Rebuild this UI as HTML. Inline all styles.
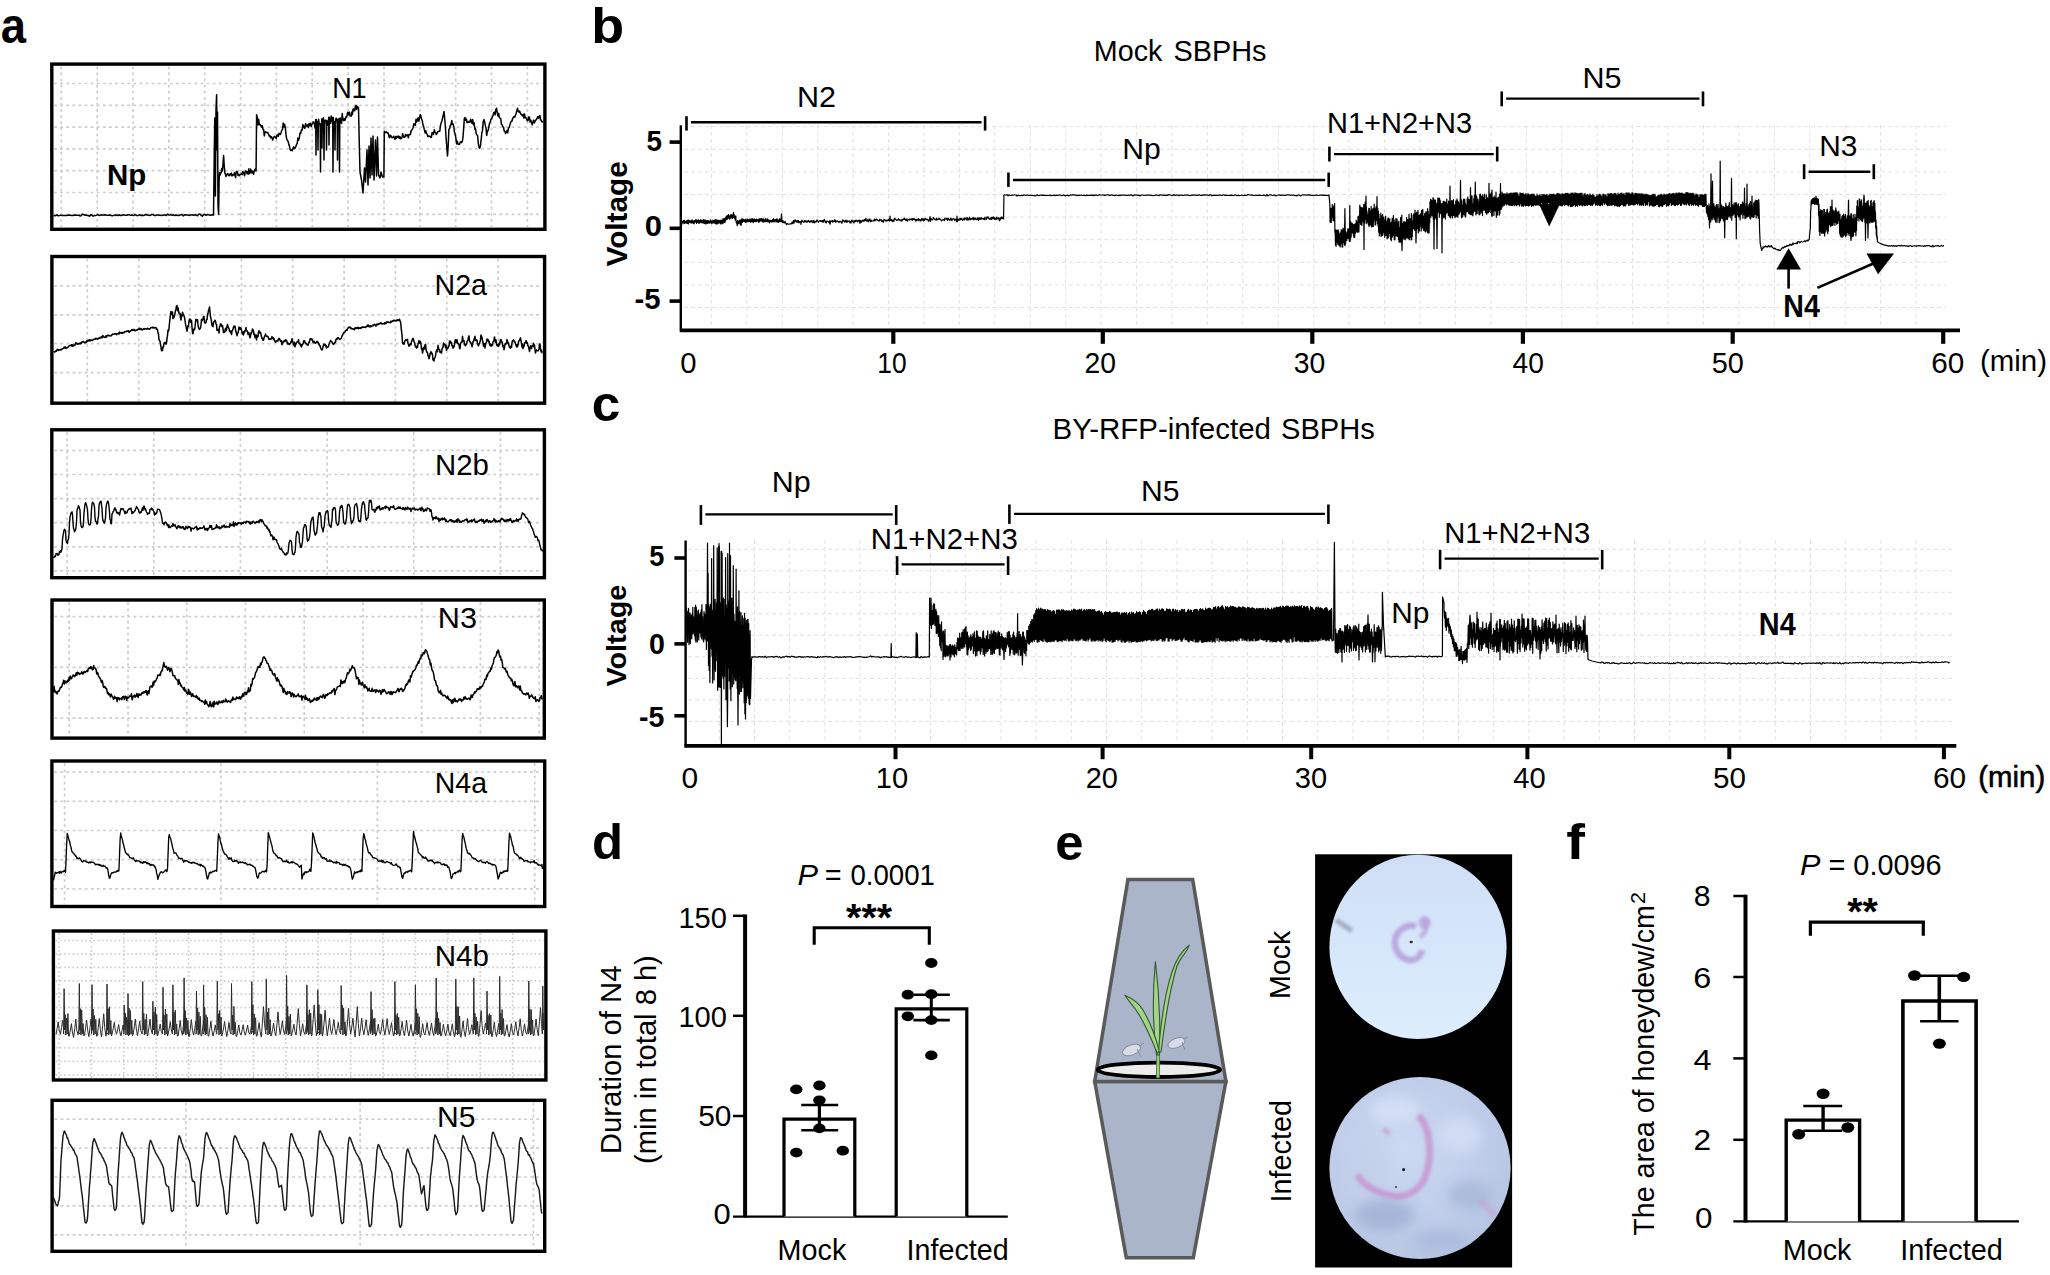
<!DOCTYPE html>
<html><head><meta charset="utf-8"><title>Figure</title><style>html,body{margin:0;padding:0;background:#fff;overflow:hidden}svg{display:block}</style></head>
<body>
<svg width="2050" height="1275" viewBox="0 0 2050 1275" font-family="'Liberation Sans', Arial, sans-serif">
<rect width="2050" height="1275" fill="#fff"/>
<text transform="translate(0.84 43.10) scale(0.9176 1)" font-size="49.5" font-weight="bold" fill="#000">a</text>
<text transform="translate(591.20 42.70) scale(1.0881 1)" font-size="49.5" font-weight="bold" fill="#000">b</text>
<text transform="translate(591.85 421.40) scale(1.0372 1)" font-size="49.5" font-weight="bold" fill="#000">c</text>
<text transform="translate(592.06 859.30) scale(1.0281 1)" font-size="49.5" font-weight="bold" fill="#000">d</text>
<text transform="translate(1055.27 859.50) scale(1.0269 1)" font-size="49.5" font-weight="bold" fill="#000">e</text>
<text transform="translate(1566.26 859.00) scale(1.1364 1)" font-size="49.5" font-weight="bold" fill="#000">f</text>
<path d="M61.3 66.4V227.0M97.2 66.4V227.0M133.0 66.4V227.0M168.9 66.4V227.0M204.7 66.4V227.0M240.6 66.4V227.0M276.4 66.4V227.0M312.2 66.4V227.0M348.1 66.4V227.0M384.0 66.4V227.0M419.8 66.4V227.0M455.7 66.4V227.0M491.5 66.4V227.0M527.4 66.4V227.0M54.1 83.5H542.6M54.1 105.3H542.6M54.1 127.1H542.6M54.1 148.9H542.6M54.1 170.7H542.6M54.1 192.5H542.6M54.1 214.3H542.6" stroke="#cdcdcd" stroke-width="1.7" stroke-dasharray="2.8 3.3" fill="none"/>
<path d="M87.3 258.8V400.9M138.7 258.8V400.9M190.0 258.8V400.9M241.4 258.8V400.9M292.7 258.8V400.9M344.1 258.8V400.9M395.4 258.8V400.9M446.8 258.8V400.9M498.1 258.8V400.9M54.2 285.9H542.3M54.2 314.8H542.3M54.2 343.7H542.3M54.2 372.6H542.3" stroke="#cdcdcd" stroke-width="1.7" stroke-dasharray="2.8 3.3" fill="none"/>
<path d="M67.1 432.1V575.4M153.8 432.1V575.4M240.4 432.1V575.4M327.1 432.1V575.4M413.7 432.1V575.4M500.4 432.1V575.4M54.1 450.4H542.1M54.1 474.5H542.1M54.1 498.6H542.1M54.1 522.7H542.1M54.1 546.8H542.1M54.1 570.9H542.1" stroke="#cdcdcd" stroke-width="1.7" stroke-dasharray="2.8 3.3" fill="none"/>
<path d="M69.2 602.3V735.8M128.0 602.3V735.8M186.7 602.3V735.8M245.4 602.3V735.8M304.2 602.3V735.8M362.9 602.3V735.8M421.7 602.3V735.8M480.4 602.3V735.8M539.2 602.3V735.8M54.3 616.6H542.0M54.3 667.4H542.0M54.3 718.1H542.0" stroke="#cdcdcd" stroke-width="1.7" stroke-dasharray="2.8 3.3" fill="none"/>
<path d="M64.6 763.3V904.2M220.9 763.3V904.2M377.4 763.3V904.2M534.7 763.3V904.2M54.2 772.1H542.4M54.2 801.3H542.4M54.2 830.5H542.4M54.2 859.7H542.4M54.2 888.9H542.4" stroke="#cdcdcd" stroke-width="1.7" stroke-dasharray="2.8 3.3" fill="none"/>
<path d="M59.0 933.3V1077.7M91.4 933.3V1077.7M123.8 933.3V1077.7M156.2 933.3V1077.7M188.6 933.3V1077.7M221.0 933.3V1077.7M253.4 933.3V1077.7M285.8 933.3V1077.7M318.2 933.3V1077.7M350.6 933.3V1077.7M383.0 933.3V1077.7M415.4 933.3V1077.7M447.8 933.3V1077.7M480.2 933.3V1077.7M512.6 933.3V1077.7M55.7 940.5H543.6M55.7 953.9H543.6M55.7 967.4H543.6M55.7 980.8H543.6M55.7 994.2H543.6M55.7 1007.6H543.6M55.7 1021.1H543.6M55.7 1034.5H543.6M55.7 1047.9H543.6M55.7 1061.4H543.6M55.7 1074.8H543.6" stroke="#cdcdcd" stroke-width="1.7" stroke-dasharray="1.6 2.6" fill="none"/>
<path d="M185.9 1102.6V1249.0M360.1 1102.6V1249.0M533.4 1102.6V1249.0M54.4 1119.2H542.4M54.4 1148.1H542.4M54.4 1177.0H542.4M54.4 1205.9H542.4M54.4 1234.8H542.4" stroke="#cdcdcd" stroke-width="1.7" stroke-dasharray="2.8 3.3" fill="none"/>
<rect x="51.80" y="64.10" width="493.10" height="165.20" fill="none" stroke="#000" stroke-width="3.4"/>
<rect x="51.90" y="256.50" width="492.70" height="146.70" fill="none" stroke="#000" stroke-width="3.4"/>
<rect x="51.80" y="429.80" width="492.60" height="147.90" fill="none" stroke="#000" stroke-width="3.4"/>
<rect x="52.00" y="600.00" width="492.30" height="138.10" fill="none" stroke="#000" stroke-width="3.4"/>
<rect x="51.90" y="761.00" width="492.80" height="145.50" fill="none" stroke="#000" stroke-width="3.4"/>
<rect x="53.40" y="931.00" width="492.50" height="149.00" fill="none" stroke="#000" stroke-width="3.4"/>
<rect x="52.10" y="1100.30" width="492.60" height="151.00" fill="none" stroke="#000" stroke-width="3.4"/>
<text transform="translate(106.98 184.80) scale(0.9823 1)" font-size="30" font-weight="bold" fill="#000">Np</text>
<text transform="translate(332.14 97.60) scale(0.8996 1)" font-size="30" fill="#000">N1</text>
<text transform="translate(434.62 294.90) scale(0.9516 1)" font-size="30" fill="#000">N2a</text>
<text transform="translate(434.95 474.50) scale(0.9796 1)" font-size="30" fill="#000">N2b</text>
<text transform="translate(437.84 628.00) scale(1.0232 1)" font-size="30" fill="#000">N3</text>
<text transform="translate(434.72 793.00) scale(0.9497 1)" font-size="30" fill="#000">N4a</text>
<text transform="translate(434.63 966.20) scale(0.9854 1)" font-size="30" fill="#000">N4b</text>
<text transform="translate(437.09 1127.10) scale(1.0043 1)" font-size="30" fill="#000">N5</text>
<path d="M711.4 125.0V328.0M746.8 125.0V328.0M782.3 125.0V328.0M817.7 125.0V328.0M853.1 125.0V328.0M888.5 125.0V328.0M924.0 125.0V328.0M959.4 125.0V328.0M994.8 125.0V328.0M1030.3 125.0V328.0M1065.7 125.0V328.0M1101.1 125.0V328.0M1136.6 125.0V328.0M1172.0 125.0V328.0M1207.4 125.0V328.0M1242.8 125.0V328.0M1278.3 125.0V328.0M1313.7 125.0V328.0M1349.1 125.0V328.0M1384.6 125.0V328.0M1420.0 125.0V328.0M1455.4 125.0V328.0M1490.9 125.0V328.0M1526.3 125.0V328.0M1561.7 125.0V328.0M1597.2 125.0V328.0M1632.6 125.0V328.0M1668.0 125.0V328.0M1703.4 125.0V328.0M1738.9 125.0V328.0M1774.3 125.0V328.0M1809.7 125.0V328.0M1845.2 125.0V328.0M1880.6 125.0V328.0M1916.0 125.0V328.0M684.0 126.7H1946.0M684.0 149.3H1946.0M684.0 171.9H1946.0M684.0 194.5H1946.0M684.0 217.1H1946.0M684.0 239.7H1946.0M684.0 262.3H1946.0M684.0 284.9H1946.0M684.0 307.5H1946.0" stroke="#e2e2e2" stroke-width="1" stroke-dasharray="4 3" fill="none"/>
<path d="M719.3 540.0V743.0M754.5 540.0V743.0M789.7 540.0V743.0M824.9 540.0V743.0M860.1 540.0V743.0M895.3 540.0V743.0M930.5 540.0V743.0M965.7 540.0V743.0M1000.9 540.0V743.0M1036.1 540.0V743.0M1071.3 540.0V743.0M1106.5 540.0V743.0M1141.7 540.0V743.0M1176.9 540.0V743.0M1212.1 540.0V743.0M1247.3 540.0V743.0M1282.5 540.0V743.0M1317.7 540.0V743.0M1352.9 540.0V743.0M1388.1 540.0V743.0M1423.3 540.0V743.0M1458.5 540.0V743.0M1493.7 540.0V743.0M1528.9 540.0V743.0M1564.1 540.0V743.0M1599.3 540.0V743.0M1634.5 540.0V743.0M1669.7 540.0V743.0M1704.9 540.0V743.0M1740.1 540.0V743.0M1775.3 540.0V743.0M1810.5 540.0V743.0M1845.7 540.0V743.0M1880.9 540.0V743.0M1916.1 540.0V743.0M688.0 549.3H1952.0M688.0 570.8H1952.0M688.0 592.3H1952.0M688.0 613.8H1952.0M688.0 635.3H1952.0M688.0 656.8H1952.0M688.0 678.3H1952.0M688.0 699.8H1952.0M688.0 721.3H1952.0" stroke="#e2e2e2" stroke-width="1" stroke-dasharray="4 3" fill="none"/>
<line x1="680.80" y1="125.30" x2="680.80" y2="331.80" stroke="#000" stroke-width="2.4"/>
<line x1="680.00" y1="330.30" x2="1960.00" y2="330.30" stroke="#000" stroke-width="3.8"/>
<line x1="669.60" y1="142.10" x2="680.80" y2="142.10" stroke="#000" stroke-width="3.6"/>
<line x1="669.60" y1="228.30" x2="680.80" y2="228.30" stroke="#000" stroke-width="3.6"/>
<line x1="669.60" y1="301.10" x2="680.80" y2="301.10" stroke="#000" stroke-width="3.6"/>
<line x1="893.30" y1="331.00" x2="893.30" y2="343.80" stroke="#000" stroke-width="4.2"/>
<line x1="1102.80" y1="331.00" x2="1102.80" y2="343.80" stroke="#000" stroke-width="4.2"/>
<line x1="1312.30" y1="331.00" x2="1312.30" y2="343.80" stroke="#000" stroke-width="4.2"/>
<line x1="1522.90" y1="331.00" x2="1522.90" y2="343.80" stroke="#000" stroke-width="4.2"/>
<line x1="1732.70" y1="331.00" x2="1732.70" y2="343.80" stroke="#000" stroke-width="4.2"/>
<line x1="1943.20" y1="331.00" x2="1943.20" y2="343.80" stroke="#000" stroke-width="4.2"/>
<text transform="translate(646.57 150.50) scale(0.9267 1)" font-size="30.0" font-weight="bold" fill="#000">5</text>
<text transform="translate(644.76 236.00) scale(1.0316 1)" font-size="30.0" font-weight="bold" fill="#000">0</text>
<text transform="translate(634.43 309.00) scale(0.9778 1)" font-size="30.0" font-weight="bold" fill="#000">-5</text>
<text transform="translate(627.30 266.50) rotate(-90) scale(1.0419 1)" font-size="28.6" font-weight="bold">Voltage</text>
<text transform="translate(680.33 373.30) scale(0.9690 1)" font-size="30.2" fill="#000">0</text>
<text transform="translate(877.33 373.30) scale(0.8719 1)" font-size="30.2" fill="#000">10</text>
<text transform="translate(1084.38 373.30) scale(0.9382 1)" font-size="30.2" fill="#000">20</text>
<text transform="translate(1293.87 373.30) scale(0.9387 1)" font-size="30.2" fill="#000">30</text>
<text transform="translate(1512.60 373.30) scale(0.9316 1)" font-size="30.2" fill="#000">40</text>
<text transform="translate(1711.75 373.30) scale(0.9548 1)" font-size="30.2" fill="#000">50</text>
<text transform="translate(1931.31 373.30) scale(0.9836 1)" font-size="30.2" fill="#000">60</text>
<text transform="translate(1980.03 370.90) scale(0.9906 1)" font-size="29.7" fill="#000">(min)</text>
<text transform="translate(1093.80 60.70) scale(0.9567 1)" font-size="30" fill="#000">Mock</text>
<text transform="translate(1173.40 60.70) scale(0.9634 1)" font-size="30" fill="#000">SBPHs</text>
<text transform="translate(796.95 106.70) scale(1.0189 1)" font-size="30" fill="#000">N2</text>
<text transform="translate(1122.19 159.20) scale(1.0043 1)" font-size="30" fill="#000">Np</text>
<text transform="translate(1326.98 133.10) scale(0.9675 1)" font-size="30" fill="#000">N1+N2+N3</text>
<text transform="translate(1582.55 87.90) scale(1.0188 1)" font-size="30" fill="#000">N5</text>
<text transform="translate(1819.21 155.90) scale(0.9971 1)" font-size="30" fill="#000">N3</text>
<text transform="translate(1783.34 317.00) scale(0.9387 1)" font-size="30.5" font-weight="bold" fill="#000">N4</text>
<line x1="686.50" y1="116.20" x2="686.50" y2="130.60" stroke="#000" stroke-width="2.6"/>
<line x1="985.10" y1="116.20" x2="985.10" y2="130.60" stroke="#000" stroke-width="2.6"/>
<line x1="691.00" y1="122.30" x2="981.60" y2="122.30" stroke="#000" stroke-width="2.4"/>
<line x1="1008.40" y1="172.60" x2="1008.40" y2="186.90" stroke="#000" stroke-width="2.6"/>
<line x1="1328.70" y1="172.60" x2="1328.70" y2="186.90" stroke="#000" stroke-width="2.6"/>
<line x1="1012.90" y1="180.00" x2="1325.20" y2="180.00" stroke="#000" stroke-width="2.4"/>
<line x1="1329.40" y1="146.60" x2="1329.40" y2="161.50" stroke="#000" stroke-width="2.6"/>
<line x1="1497.20" y1="146.60" x2="1497.20" y2="161.50" stroke="#000" stroke-width="2.6"/>
<line x1="1333.90" y1="154.10" x2="1493.70" y2="154.10" stroke="#000" stroke-width="2.4"/>
<line x1="1501.70" y1="91.40" x2="1501.70" y2="106.30" stroke="#000" stroke-width="2.6"/>
<line x1="1703.00" y1="91.40" x2="1703.00" y2="106.30" stroke="#000" stroke-width="2.6"/>
<line x1="1506.20" y1="98.60" x2="1699.50" y2="98.60" stroke="#000" stroke-width="2.4"/>
<line x1="1804.10" y1="164.20" x2="1804.10" y2="179.20" stroke="#000" stroke-width="2.6"/>
<line x1="1873.80" y1="164.20" x2="1873.80" y2="179.20" stroke="#000" stroke-width="2.6"/>
<line x1="1808.60" y1="171.80" x2="1870.30" y2="171.80" stroke="#000" stroke-width="2.4"/>
<polygon points="1776.4,269.5 1801,269.5 1788.6,248.2" fill="#000"/>
<line x1="1788.60" y1="268.00" x2="1788.60" y2="288.60" stroke="#000" stroke-width="2.6"/>
<line x1="1817.40" y1="287.90" x2="1878.00" y2="261.50" stroke="#000" stroke-width="2.6"/>
<polygon points="1866.5,253.6 1894,253.6 1878.1,274.2" fill="#000"/>
<polygon points="1539.0,204.0 1559.9,204.0 1549.2,226.5" fill="#000"/>
<line x1="685.60" y1="540.50" x2="685.60" y2="747.40" stroke="#000" stroke-width="2.4"/>
<line x1="684.50" y1="745.90" x2="1956.30" y2="745.90" stroke="#000" stroke-width="3.6"/>
<line x1="674.40" y1="558.00" x2="685.60" y2="558.00" stroke="#000" stroke-width="3.6"/>
<line x1="674.40" y1="643.90" x2="685.60" y2="643.90" stroke="#000" stroke-width="3.6"/>
<line x1="674.40" y1="715.80" x2="685.60" y2="715.80" stroke="#000" stroke-width="3.6"/>
<line x1="895.50" y1="746.00" x2="895.50" y2="759.20" stroke="#000" stroke-width="4.0"/>
<line x1="1102.60" y1="746.00" x2="1102.60" y2="759.20" stroke="#000" stroke-width="4.0"/>
<line x1="1311.20" y1="746.00" x2="1311.20" y2="759.20" stroke="#000" stroke-width="4.0"/>
<line x1="1527.40" y1="746.00" x2="1527.40" y2="759.20" stroke="#000" stroke-width="4.0"/>
<line x1="1729.30" y1="746.00" x2="1729.30" y2="759.20" stroke="#000" stroke-width="4.0"/>
<line x1="1943.90" y1="746.00" x2="1943.90" y2="759.20" stroke="#000" stroke-width="4.0"/>
<text transform="translate(649.28 565.60) scale(0.9379 1)" font-size="29.0" font-weight="bold" fill="#000">5</text>
<text transform="translate(648.95 654.30) scale(0.9873 1)" font-size="29.0" font-weight="bold" fill="#000">0</text>
<text transform="translate(639.06 727.30) scale(0.9822 1)" font-size="29.0" font-weight="bold" fill="#000">-5</text>
<text transform="translate(625.60 686.59) rotate(-90) scale(1.0471 1)" font-size="27.5" font-weight="bold">Voltage</text>
<text transform="translate(681.50 788.30) scale(1.0134 1)" font-size="29.5" fill="#000">0</text>
<text transform="translate(875.81 788.30) scale(0.9880 1)" font-size="29.5" fill="#000">10</text>
<text transform="translate(1085.75 788.30) scale(0.9804 1)" font-size="29.5" fill="#000">20</text>
<text transform="translate(1294.73 788.30) scale(0.9873 1)" font-size="29.5" fill="#000">30</text>
<text transform="translate(1513.37 788.30) scale(0.9894 1)" font-size="29.5" fill="#000">40</text>
<text transform="translate(1712.92 788.30) scale(1.0038 1)" font-size="29.5" fill="#000">50</text>
<text transform="translate(1932.91 788.30) scale(1.0070 1)" font-size="29.5" fill="#000">60</text>
<text transform="translate(1978.34 786.80) scale(1.0025 1)" font-size="29.3" fill="#000" stroke="#000" stroke-width="0.6">(min)</text>
<text transform="translate(1052.54 438.90) scale(0.9828 1)" font-size="30" fill="#000">BY-RFP-infected</text>
<text transform="translate(1280.99 438.90) scale(0.9709 1)" font-size="30" fill="#000">SBPHs</text>
<text transform="translate(771.86 491.60) scale(1.0159 1)" font-size="30" fill="#000">Np</text>
<text transform="translate(870.75 549.20) scale(0.9798 1)" font-size="30" fill="#000">N1+N2+N3</text>
<text transform="translate(1140.99 501.00) scale(1.0043 1)" font-size="30" fill="#000">N5</text>
<text transform="translate(1391.31 622.50) scale(0.9957 1)" font-size="30" fill="#000">Np</text>
<text transform="translate(1444.16 543.10) scale(0.9730 1)" font-size="30" fill="#000">N1+N2+N3</text>
<text transform="translate(1758.82 635.40) scale(0.9469 1)" font-size="30.5" font-weight="bold" fill="#000">N4</text>
<line x1="700.90" y1="505.10" x2="700.90" y2="524.90" stroke="#000" stroke-width="2.6"/>
<line x1="896.20" y1="505.10" x2="896.20" y2="524.90" stroke="#000" stroke-width="2.6"/>
<line x1="705.40" y1="514.40" x2="892.70" y2="514.40" stroke="#000" stroke-width="2.4"/>
<line x1="897.10" y1="556.20" x2="897.10" y2="575.00" stroke="#000" stroke-width="2.6"/>
<line x1="1008.10" y1="556.20" x2="1008.10" y2="575.00" stroke="#000" stroke-width="2.6"/>
<line x1="901.60" y1="564.40" x2="1004.60" y2="564.40" stroke="#000" stroke-width="2.4"/>
<line x1="1009.40" y1="504.50" x2="1009.40" y2="523.90" stroke="#000" stroke-width="2.6"/>
<line x1="1328.40" y1="504.50" x2="1328.40" y2="523.90" stroke="#000" stroke-width="2.6"/>
<line x1="1013.90" y1="513.90" x2="1324.90" y2="513.90" stroke="#000" stroke-width="2.4"/>
<line x1="1440.10" y1="549.90" x2="1440.10" y2="569.40" stroke="#000" stroke-width="2.6"/>
<line x1="1602.20" y1="549.90" x2="1602.20" y2="569.40" stroke="#000" stroke-width="2.6"/>
<line x1="1444.60" y1="558.60" x2="1598.70" y2="558.60" stroke="#000" stroke-width="2.4"/>
<line x1="745.10" y1="914.40" x2="745.10" y2="1217.60" stroke="#000" stroke-width="4.0"/>
<line x1="733.00" y1="1216.60" x2="1007.80" y2="1216.60" stroke="#000" stroke-width="2.4"/>
<line x1="733.00" y1="915.80" x2="745.10" y2="915.80" stroke="#000" stroke-width="2.5"/>
<line x1="733.00" y1="1015.80" x2="745.10" y2="1015.80" stroke="#000" stroke-width="2.5"/>
<line x1="733.00" y1="1116.00" x2="745.10" y2="1116.00" stroke="#000" stroke-width="2.5"/>
<text transform="translate(678.42 928.10) scale(0.9863 1)" font-size="29.5" fill="#000">150</text>
<text transform="translate(678.42 1026.50) scale(0.9863 1)" font-size="29.5" fill="#000">100</text>
<text transform="translate(698.20 1125.60) scale(1.0137 1)" font-size="29.5" fill="#000">50</text>
<text transform="translate(713.46 1224.10) scale(1.0491 1)" font-size="29.5" fill="#000">0</text>
<path d="M784.00 1216.60V1119.10H854.80V1216.60" fill="#fff" stroke="#000" stroke-width="3.2"/>
<path d="M896.20 1216.60V1008.80H966.80V1216.60" fill="#fff" stroke="#000" stroke-width="3.2"/>
<line x1="819.40" y1="1105.00" x2="819.40" y2="1130.30" stroke="#000" stroke-width="3.2"/>
<line x1="801.20" y1="1105.00" x2="838.20" y2="1105.00" stroke="#000" stroke-width="2.6"/>
<line x1="801.20" y1="1130.30" x2="838.20" y2="1130.30" stroke="#000" stroke-width="2.6"/>
<line x1="931.30" y1="994.70" x2="931.30" y2="1020.10" stroke="#000" stroke-width="3.0"/>
<line x1="913.90" y1="994.70" x2="949.80" y2="994.70" stroke="#000" stroke-width="2.6"/>
<line x1="913.40" y1="1020.10" x2="949.80" y2="1020.10" stroke="#000" stroke-width="2.6"/>
<ellipse cx="796.3" cy="1089.4" rx="6.2" ry="4.9" fill="#000"/>
<ellipse cx="819.4" cy="1085.5" rx="6.2" ry="4.9" fill="#000"/>
<ellipse cx="819.4" cy="1100.3" rx="6.2" ry="4.9" fill="#000"/>
<ellipse cx="819.4" cy="1128.4" rx="6.2" ry="4.9" fill="#000"/>
<ellipse cx="796.3" cy="1152.6" rx="6.2" ry="4.9" fill="#000"/>
<ellipse cx="842.8" cy="1150.7" rx="6.2" ry="4.9" fill="#000"/>
<ellipse cx="931.3" cy="963.0" rx="6.2" ry="4.9" fill="#000"/>
<ellipse cx="907.8" cy="994.7" rx="6.2" ry="4.9" fill="#000"/>
<ellipse cx="931.3" cy="994.2" rx="6.2" ry="4.9" fill="#000"/>
<ellipse cx="907.8" cy="1016.3" rx="6.2" ry="4.9" fill="#000"/>
<ellipse cx="931.3" cy="1020.1" rx="6.2" ry="4.9" fill="#000"/>
<ellipse cx="931.3" cy="1055.4" rx="6.2" ry="4.9" fill="#000"/>
<text transform="translate(797.48 884.80) scale(1.0265 1)" font-size="30.0" font-style="italic" fill="#000">P</text>
<text transform="translate(824.66 884.80) scale(0.9622 1)" font-size="30.0" fill="#000">=</text>
<text transform="translate(850.50 884.80) scale(0.9203 1)" font-size="30.0" fill="#000">0.0001</text>
<text transform="translate(846.10 930.86) scale(1.0345 1)" font-size="38" font-weight="bold" fill="#000">***</text>
<path d="M814.2 944.8V927.7H929.3V944.8" fill="none" stroke="#000" stroke-width="3.1"/>
<text transform="translate(777.60 1259.60) scale(0.9660 1)" font-size="29.8" fill="#000">Mock</text>
<text transform="translate(906.62 1259.60) scale(0.9623 1)" font-size="29.8" fill="#000">Infected</text>
<text transform="translate(621.10 1154.14) rotate(-90) scale(1.0233 1)" font-size="28.6">Duration of N4</text>
<text transform="translate(656.40 1163.95) rotate(-90) scale(0.9975 1)" font-size="29.2">(min in total 8 h)</text>
<line x1="1745.50" y1="894.70" x2="1745.50" y2="1222.60" stroke="#000" stroke-width="4.0"/>
<line x1="1733.30" y1="1221.40" x2="2018.90" y2="1221.40" stroke="#000" stroke-width="2.4"/>
<line x1="1733.30" y1="896.00" x2="1745.50" y2="896.00" stroke="#000" stroke-width="2.5"/>
<line x1="1733.30" y1="977.00" x2="1745.50" y2="977.00" stroke="#000" stroke-width="2.5"/>
<line x1="1733.30" y1="1058.40" x2="1745.50" y2="1058.40" stroke="#000" stroke-width="2.5"/>
<line x1="1733.30" y1="1139.80" x2="1745.50" y2="1139.80" stroke="#000" stroke-width="2.5"/>
<text transform="translate(1693.84 906.00) scale(1.0242 1)" font-size="29.5" fill="#000">8</text>
<text transform="translate(1693.18 988.40) scale(1.0980 1)" font-size="29.5" fill="#000">6</text>
<text transform="translate(1693.39 1069.60) scale(1.0983 1)" font-size="29.5" fill="#000">4</text>
<text transform="translate(1693.42 1150.00) scale(1.0728 1)" font-size="29.5" fill="#000">2</text>
<text transform="translate(1694.95 1228.30) scale(1.0633 1)" font-size="29.5" fill="#000">0</text>
<path d="M1786.20 1221.40V1120.10H1859.60V1221.40" fill="#fff" stroke="#000" stroke-width="3.4"/>
<path d="M1902.90 1221.40V1001.00H1976.10V1221.40" fill="#fff" stroke="#000" stroke-width="3.6"/>
<line x1="1823.10" y1="1106.00" x2="1823.10" y2="1130.70" stroke="#000" stroke-width="3.4"/>
<line x1="1803.30" y1="1106.00" x2="1842.20" y2="1106.00" stroke="#000" stroke-width="2.6"/>
<line x1="1803.30" y1="1130.70" x2="1842.20" y2="1130.70" stroke="#000" stroke-width="2.6"/>
<line x1="1939.30" y1="975.70" x2="1939.30" y2="1021.20" stroke="#000" stroke-width="3.6"/>
<line x1="1914.50" y1="975.70" x2="1963.70" y2="975.70" stroke="#000" stroke-width="2.6"/>
<line x1="1920.10" y1="1021.20" x2="1958.50" y2="1021.20" stroke="#000" stroke-width="2.6"/>
<ellipse cx="1823.1" cy="1093.7" rx="6.5" ry="5.2" fill="#000"/>
<ellipse cx="1798.7" cy="1134.3" rx="6.5" ry="5.2" fill="#000"/>
<ellipse cx="1847.8" cy="1127.5" rx="6.5" ry="5.2" fill="#000"/>
<ellipse cx="1914.5" cy="975.5" rx="6.5" ry="5.2" fill="#000"/>
<ellipse cx="1963.7" cy="976.9" rx="6.5" ry="5.2" fill="#000"/>
<ellipse cx="1939.4" cy="1043.6" rx="6.5" ry="5.2" fill="#000"/>
<text transform="translate(1800.08 875.00) scale(1.0212 1)" font-size="30.0" font-style="italic" fill="#000">P</text>
<text transform="translate(1828.56 875.00) scale(0.9622 1)" font-size="30.0" fill="#000">=</text>
<text transform="translate(1853.35 875.00) scale(0.9613 1)" font-size="30.0" fill="#000">0.0096</text>
<text transform="translate(1847.30 924.86) scale(1.0355 1)" font-size="38" font-weight="bold" fill="#000">**</text>
<path d="M1810.4 935.7V922.1H1923.3V935.7" fill="none" stroke="#000" stroke-width="3.2"/>
<text transform="translate(1782.69 1259.90) scale(0.9675 1)" font-size="29.8" fill="#000">Mock</text>
<text transform="translate(1900.20 1259.90) scale(0.9692 1)" font-size="29.8" fill="#000">Infected</text>
<text transform="translate(1653.70 1235.67) rotate(-90) scale(0.9934 1)" font-size="28.8">The area of honeydew/cm</text>
<text transform="translate(1644.60 904.08) rotate(-90) scale(1.0769 1)" font-size="20.0">2</text>
<polygon points="1094.7,1081.4 1225.9,1081.4 1193.3,1257.7 1126.3,1257.7" fill="#abb5ca" stroke="#5a5a5a" stroke-width="3.5" stroke-linejoin="miter"/>
<polygon points="1127.9,879.6 1192.7,879.6 1225.9,1081.4 1094.7,1081.4" fill="#abb5ca" stroke="#5a5a5a" stroke-width="3.5" stroke-linejoin="miter"/>
<ellipse cx="1158.9" cy="1069.8" rx="61.2" ry="7.2" fill="#ececec" stroke="#000" stroke-width="3.8"/>
<path d="M1156.4,1078 L1156.8,1050 L1159.4,1050 L1159.6,1078 Z" fill="#9dcb7e" stroke="#3d6b35" stroke-width="0.8"/>
<path d="M1156.5,1055 C1152.5,1025 1152.8,990 1155.4,961.5 C1158.8,990 1160.5,1025 1159.5,1055 Z" fill="#a5d38a" stroke="#2f5a2a" stroke-width="1.1"/>
<path d="M1158.5,1052 C1161,1020 1166,990 1172,972 C1176,960 1183,950 1189,945.5 C1188,951 1181,956 1177,966 C1171,985 1165,1020 1161,1052 Z" fill="#a5d38a" stroke="#2f5a2a" stroke-width="1.1"/>
<path d="M1157.5,1054 C1150,1035 1143,1020 1136,1010 C1131,1003 1127,999 1125.2,995.6 C1131,998 1138,1002 1143,1010 C1150,1022 1155,1035 1159,1050 Z" fill="#a5d38a" stroke="#2f5a2a" stroke-width="1.1"/>
<g fill="#d9dce6" stroke="#7a7f90" stroke-width="0.8"><ellipse cx="1131.5" cy="1050" rx="9.5" ry="5" transform="rotate(-22 1131.5 1050)"/><ellipse cx="1176.5" cy="1043" rx="9" ry="4.6" transform="rotate(-22 1176.5 1043)"/></g>
<g stroke="#7a7f90" stroke-width="0.8" fill="none"><path d="M1137 1049 l4 8 M1139 1046 l5 -3"/><path d="M1182 1042 l3 8 M1183 1039 l5 -2"/></g>
<rect x="1315.10" y="854.30" width="197.00" height="413.20" fill="#000" stroke="none" stroke-width="0"/>
<defs><linearGradient id="pg1" x1="0" y1="0" x2="0" y2="1"><stop offset="0" stop-color="#cfdef5"/><stop offset="0.45" stop-color="#d6e6fa"/><stop offset="1" stop-color="#dcedfc"/></linearGradient><radialGradient id="pg2" cx="0.42" cy="0.4" r="0.7"><stop offset="0" stop-color="#ccd9f1"/><stop offset="0.6" stop-color="#bfcde9"/><stop offset="1" stop-color="#b3c3e1"/></radialGradient><filter id="bl" x="-20%" y="-20%" width="140%" height="140%"><feGaussianBlur stdDeviation="1.8"/></filter><filter id="bl2" x="-50%" y="-50%" width="200%" height="200%"><feGaussianBlur stdDeviation="6"/></filter><clipPath id="cp2"><ellipse cx="1420" cy="1168" rx="90.6" ry="91"/></clipPath></defs>
<ellipse cx="1418" cy="946.9" rx="88.6" ry="92.1" fill="url(#pg1)"/>
<ellipse cx="1420" cy="1168" rx="90.6" ry="91" fill="url(#pg2)"/>
<g clip-path="url(#cp2)"><g filter="url(#bl2)" opacity="0.8"><ellipse cx="1385" cy="1215" rx="30" ry="16" fill="#9fb1d3"/><ellipse cx="1470" cy="1195" rx="22" ry="14" fill="#a6b7d8"/><ellipse cx="1440" cy="1240" rx="30" ry="10" fill="#a9badb"/><ellipse cx="1395" cy="1110" rx="25" ry="14" fill="#d6e2f8"/><ellipse cx="1460" cy="1135" rx="22" ry="18" fill="#d3dff6"/><ellipse cx="1370" cy="1160" rx="14" ry="20" fill="#c3d0ea"/></g></g>
<g filter="url(#bl)">
<path d="M1416,926 C1406,924 1397,930 1395,940 C1394,950 1400,958 1409,960 C1416,961 1421,956 1422,950" fill="none" stroke="#b8a2da" stroke-width="6.5" opacity="0.9"/>
<path d="M1420,937 C1425,934 1428,928 1426,920" fill="none" stroke="#b8a2da" stroke-width="5" opacity="0.75"/>
<ellipse cx="1424.7" cy="922.6" rx="6" ry="6.5" fill="#b8a2da" opacity="0.85"/>
<path d="M1336 920 L1352 931" stroke="#8d95a8" stroke-width="5" opacity="0.7"/>
<path d="M1418,1115.7 C1432,1128 1432,1160 1425,1178 C1418,1192 1406,1197 1394,1196 C1378,1194 1364,1186 1357.2,1174.7" fill="none" stroke="#c795cf" stroke-width="7" opacity="0.8"/>
<path d="M1383,1129 L1390,1134" stroke="#c795cf" stroke-width="5" opacity="0.6"/>
<path d="M1480,1200 L1496,1216" stroke="#c6a3d3" stroke-width="8" opacity="0.45"/>
</g>
<ellipse cx="1411.2" cy="942" rx="1.6" ry="1.2" fill="#222"/>
<circle cx="1403.6" cy="1169.6" r="1.6" fill="#222"/><circle cx="1396" cy="1187" r="1" fill="#333"/>
<text transform="translate(1290.30 998.88) rotate(-90) scale(0.9638 1)" font-size="29.6">Mock</text>
<text transform="translate(1290.50 1202.39) rotate(-90) scale(0.9728 1)" font-size="29.6">Infected</text>
<polyline points="53.5,215.6 54.7,215.8 55.9,215.5 57.1,214.8 58.3,215.8 59.5,215.6 60.7,215.1 61.9,215.6 63.1,215.5 64.3,215.5 65.5,215.4 66.7,215.6 67.9,215.0 69.1,215.3 70.3,215.1 71.5,215.6 72.7,215.4 73.9,215.2 75.1,215.0 76.3,215.2 77.5,215.3 78.7,215.2 79.9,215.9 81.1,215.8 82.3,214.1 83.5,214.5 84.7,215.2 85.9,215.1 87.1,215.4 88.3,215.4 89.5,216.3 90.7,214.8 91.9,215.1 93.1,216.2 94.3,215.6 95.5,215.6 96.7,215.1 97.9,214.5 99.1,215.4 100.3,215.3 101.5,214.7 102.7,215.0 103.9,215.2 105.1,214.8 106.3,215.2 107.5,215.3 108.7,215.3 109.9,215.0 111.1,215.5 112.3,215.7 113.5,215.4 114.7,214.9 115.9,215.6 117.1,215.0 118.3,215.6 119.5,214.8 120.7,215.6 121.9,215.2 123.1,214.7 124.3,215.1 125.5,215.2 126.7,215.3 127.9,214.8 129.1,214.7 130.3,215.3 131.5,215.0 132.7,215.3 133.9,215.5 135.1,214.5 136.3,215.3 137.5,215.7 138.7,215.1 139.9,214.8 141.1,215.5 142.3,215.3 143.5,215.6 144.7,215.0 145.9,214.5 147.1,215.1 148.3,215.0 149.5,215.5 150.7,215.2 151.9,214.4 153.1,214.6 154.3,215.5 155.5,215.5 156.7,214.9 157.9,215.1 159.1,215.3 160.3,215.3 161.5,215.5 162.7,215.2 163.9,215.1 165.1,215.0 166.3,215.6 167.5,214.1 168.7,215.0 169.9,215.1 171.1,214.5 172.3,215.3 173.5,214.8 174.7,215.5 175.9,215.0 177.1,215.4 178.3,215.6 179.5,215.3 180.7,214.7 181.9,214.4 183.1,215.9 184.3,215.0 185.5,214.8 186.7,215.1 187.9,215.0 189.1,215.4 190.3,215.1 191.5,215.1 192.7,214.7 193.9,215.3 195.1,214.6 196.3,215.3 197.5,215.7 198.7,214.3 199.9,213.9 201.1,215.3 202.3,216.2 203.5,214.6 204.7,214.5 205.9,215.3 207.1,214.6 208.3,214.8 209.5,214.9 210.7,215.2 211.9,214.8 213.5,215.0 214.3,150.0 214.8,118.0 215.4,196.0 216.0,110.0 216.6,94.7 217.1,150.0 217.5,112.0 218.0,205.0 218.6,214.5 219.1,180.0 219.6,172.5 220.0,175.3 220.6,173.3 221.2,172.5 221.8,168.4 222.4,170.9 223.0,163.8 223.6,155.5 224.2,165.4 224.8,172.7 225.4,174.1 226.0,176.5 226.6,174.4 227.2,174.3 227.8,173.5 228.4,175.5 229.0,174.6 229.6,175.6 230.2,173.7 230.8,174.8 231.4,173.1 232.0,175.9 232.6,174.8 233.2,175.0 233.8,175.1 234.4,172.8 235.0,175.6 235.6,177.6 236.2,171.6 236.8,171.4 237.4,171.8 238.0,175.5 238.6,174.3 239.2,175.8 239.8,175.2 240.4,174.2 241.0,174.2 241.6,173.3 242.2,174.8 242.8,171.5 243.4,172.5 244.0,173.4 244.6,175.7 245.2,171.5 245.8,170.8 246.4,171.5 247.0,173.8 247.6,171.7 248.2,174.1 248.8,168.8 249.4,173.5 250.0,173.2 250.6,169.1 251.2,171.4 251.8,173.0 252.4,171.0 253.0,172.3 253.6,174.4 254.2,170.9 254.8,169.9 255.4,168.9 256.0,171.0 256.1,168.0 256.6,114.8 258.0,120.0 258.0,124.9 258.7,119.5 259.4,124.7 260.1,124.5 260.8,125.7 261.5,127.1 262.2,125.7 262.9,129.2 263.6,129.4 264.3,135.8 265.0,132.1 265.7,131.8 266.4,132.5 267.1,132.6 267.8,132.6 268.5,134.1 269.2,135.9 269.9,135.5 270.6,137.8 271.3,136.7 272.0,137.6 272.7,140.1 273.4,138.3 274.1,136.4 274.8,136.5 275.5,137.2 276.2,138.7 276.9,135.3 277.6,134.9 278.3,136.3 279.0,133.3 279.7,133.8 280.4,134.4 281.1,132.4 281.8,130.2 282.5,129.5 283.2,123.1 283.9,127.0 284.6,124.3 285.3,127.5 286.0,134.4 286.7,139.2 287.4,140.4 288.1,141.2 288.8,144.4 289.5,146.1 290.2,149.8 290.9,150.6 291.6,149.7 292.3,150.6 293.0,148.4 293.7,146.9 294.4,148.6 295.1,148.2 295.8,146.7 296.5,144.4 297.2,143.7 297.9,137.9 298.6,140.3 299.3,138.0 300.0,133.0 300.7,133.4 301.4,129.9 302.1,130.3 302.8,124.6 303.5,125.9 304.2,127.9 304.9,128.3 305.6,123.4 306.3,125.5 307.0,126.4 307.7,124.8 308.4,127.6 309.1,123.5 309.8,125.4 310.5,123.2 311.2,126.4 311.9,124.3 312.6,123.7 313.3,121.7 313.8,122.4 314.4,123.5 315.0,128.0 315.6,125.4 315.7,119.5 316.0,155.0 316.3,119.5 316.8,123.5 317.4,121.9 317.7,123.7 318.0,150.0 318.3,123.7 318.6,119.3 319.2,123.8 319.8,123.7 320.2,126.9 320.5,172.0 320.8,126.9 321.0,123.7 321.6,124.1 321.7,119.0 322.0,148.0 322.3,119.0 322.8,128.3 323.4,117.8 323.7,125.2 324.0,160.0 324.3,125.2 324.6,121.5 325.2,120.1 325.8,120.5 326.2,120.4 326.5,150.0 326.8,120.4 327.0,123.0 327.6,121.6 328.2,125.5 328.7,117.2 329.0,145.0 329.3,117.2 329.4,121.6 330.0,119.3 330.6,123.4 331.2,116.1 331.8,120.4 332.4,121.7 332.7,117.4 333.0,172.0 333.3,117.4 333.6,123.5 334.2,121.4 334.7,123.4 335.0,150.0 335.3,123.4 335.4,123.2 336.0,118.2 336.6,118.6 337.2,120.0 337.5,160.0 337.8,120.0 337.8,122.3 338.4,122.5 339.0,118.5 339.2,118.6 339.5,172.0 339.8,118.6 340.2,118.1 341.0,122.3 341.6,123.5 342.2,113.5 342.8,118.3 343.4,120.4 344.0,120.7 344.6,118.7 345.2,120.1 345.8,117.0 346.4,117.1 347.0,115.8 347.6,112.6 348.2,112.6 348.8,114.8 349.4,112.2 350.0,115.8 350.6,115.5 351.2,116.2 351.8,111.9 352.4,114.6 353.0,109.2 353.6,109.0 354.2,110.7 354.8,110.7 355.4,106.2 356.0,105.4 356.6,109.5 357.2,106.3 358.5,108.0 359.2,140.0 360.0,172.0 361.5,180.0 363.0,193.0 364.5,168.0 365.5,182.0 367.0,150.0 368.0,185.0 369.0,146.0 370.0,178.0 371.0,138.0 372.0,175.0 373.0,136.0 374.0,180.0 375.5,140.0 376.5,176.0 377.5,137.0 378.5,175.0 380.0,178.0 381.0,172.0 382.5,177.0 383.9,176.7 384.3,131.2 384.5,131.5 385.2,132.6 385.9,132.2 386.6,131.8 387.3,133.1 388.0,132.8 388.7,135.0 389.4,137.7 390.1,135.3 390.8,135.4 391.5,137.5 392.2,137.6 392.9,137.5 393.6,136.2 394.3,138.0 395.0,139.4 395.7,136.5 396.4,138.2 397.1,136.3 397.8,137.2 398.5,136.1 399.2,138.4 399.9,136.6 400.6,138.8 401.3,138.4 402.0,137.6 402.7,133.7 403.4,136.6 404.1,137.2 404.8,137.2 405.5,134.4 406.2,135.9 406.9,134.8 407.6,134.9 408.3,137.7 409.0,134.5 409.7,134.6 410.4,134.5 411.1,130.7 411.8,129.9 412.5,128.8 413.2,127.2 413.9,123.7 414.6,124.5 415.3,125.3 416.0,119.3 416.7,121.9 417.4,119.8 418.1,117.8 418.8,121.2 419.5,118.5 420.2,114.6 420.9,115.8 421.6,119.0 422.3,120.7 423.0,125.0 423.7,126.7 424.4,129.9 425.1,132.7 425.8,130.8 426.5,133.7 427.2,134.1 427.9,136.6 428.6,136.0 429.3,136.3 430.0,136.3 430.7,137.4 431.4,137.2 432.1,132.6 432.8,132.8 433.5,134.5 434.2,129.8 434.9,132.1 435.6,132.5 436.3,134.6 437.0,133.5 437.7,131.7 438.4,131.5 439.1,131.2 439.8,131.2 440.5,125.3 441.2,122.7 441.9,121.0 442.6,117.8 443.3,115.3 444.0,111.5 444.7,118.8 445.4,126.8 446.1,138.3 446.8,147.2 447.5,155.9 448.2,145.8 448.9,129.5 449.6,128.5 450.3,125.4 451.0,124.9 451.7,120.5 452.4,124.3 453.1,124.1 453.8,126.5 454.5,132.3 455.2,134.2 455.9,138.3 456.6,143.9 457.3,141.3 458.0,144.0 458.7,144.6 459.4,144.4 460.1,142.6 460.8,141.8 461.5,142.6 462.2,141.5 462.9,138.3 463.6,129.1 464.3,118.6 465.0,117.5 465.7,120.2 466.4,119.1 467.1,122.7 467.8,122.1 468.5,122.2 469.2,121.3 469.9,122.2 470.6,119.3 471.3,120.8 472.0,123.3 472.7,119.5 473.4,124.7 474.1,122.8 474.8,129.1 475.5,128.8 476.2,133.7 476.9,134.9 477.6,135.5 478.3,143.4 479.0,147.2 479.7,148.2 480.4,146.0 481.1,140.2 481.8,133.0 482.5,130.4 483.2,121.9 483.9,119.4 484.6,121.7 485.3,125.4 486.0,127.9 486.7,135.4 487.4,131.0 488.1,130.6 488.8,126.9 489.5,123.6 490.2,122.0 490.9,119.4 491.6,118.9 492.3,116.9 493.0,115.7 493.7,112.6 494.4,112.2 495.1,114.8 495.8,109.7 496.5,108.2 497.2,112.3 497.9,115.9 498.6,113.2 499.3,117.1 500.0,118.3 500.7,118.4 501.4,124.2 502.1,124.8 502.8,126.8 503.5,127.2 504.2,131.0 504.9,131.2 505.6,133.6 506.3,132.4 507.0,130.5 507.7,132.8 508.4,128.1 509.1,127.7 509.8,125.4 510.5,123.0 511.2,121.2 511.9,121.3 512.6,118.5 513.3,117.5 514.0,116.6 514.7,117.2 515.4,115.2 516.1,113.5 516.8,110.8 517.5,108.3 518.2,111.3 518.9,112.1 519.6,111.1 520.3,113.0 521.0,114.1 521.7,114.9 522.4,115.8 523.1,114.3 523.8,117.9 524.5,114.0 525.2,117.8 525.9,117.7 526.6,118.7 527.3,120.8 528.0,120.6 528.7,117.1 529.4,117.1 530.1,122.1 530.8,120.1 531.5,122.6 532.2,124.9 532.9,121.9 533.6,120.1 534.3,122.9 535.0,121.5 535.7,120.0 536.4,119.8 537.1,118.0 537.8,116.5 538.5,118.2 539.2,116.5 539.9,115.6 540.6,120.1 541.3,120.3 542.0,122.1 542.7,121.0" fill="none" stroke="#000" stroke-width="1.5" stroke-linejoin="round"/>
<polyline points="53.5,351.9 54.0,351.7 54.5,352.1 55.0,352.0 55.5,351.0 56.0,351.3 56.5,351.2 57.0,349.7 57.5,349.2 58.0,350.0 58.5,350.4 59.0,349.7 59.5,349.9 60.0,349.9 60.5,350.0 61.0,349.2 61.5,349.7 62.0,349.0 62.5,348.8 63.0,348.6 63.5,348.4 64.0,347.3 64.5,348.0 65.0,346.8 65.5,347.8 66.0,348.5 66.5,347.6 67.0,347.8 67.5,347.4 68.0,347.5 68.5,346.2 69.0,346.2 69.5,345.7 70.0,345.4 70.5,345.5 71.0,345.5 71.5,344.7 72.0,346.3 72.5,345.5 73.0,344.8 73.5,346.0 74.0,345.2 74.5,345.3 75.0,344.9 75.5,343.9 76.0,342.6 76.5,343.7 77.0,343.9 77.5,344.3 78.0,343.4 78.5,343.8 79.0,344.0 79.5,343.4 80.0,343.0 80.5,343.8 81.0,342.7 81.5,343.4 82.0,341.7 82.5,342.0 83.0,342.1 83.5,341.4 84.0,342.3 84.5,342.7 85.0,342.9 85.5,342.5 86.0,341.7 86.5,342.3 87.0,340.5 87.5,340.8 88.0,340.9 88.5,340.9 89.0,339.8 89.5,339.8 90.0,341.1 90.5,340.1 91.0,340.0 91.5,340.1 92.0,340.5 92.5,340.5 93.0,339.6 93.5,339.8 94.0,339.2 94.5,339.2 95.0,339.3 95.5,338.4 96.0,338.9 96.5,338.6 97.0,338.6 97.5,339.2 98.0,338.4 98.5,338.7 99.0,338.0 99.5,338.0 100.0,337.4 100.5,338.0 101.0,337.3 101.5,336.9 102.0,337.9 102.5,335.8 103.0,336.8 103.5,336.0 104.0,337.3 104.5,337.4 105.0,337.3 105.5,336.8 106.0,335.8 106.5,337.2 107.0,335.7 107.5,335.5 108.0,335.1 108.5,335.8 109.0,335.5 109.5,335.6 110.0,336.0 110.5,335.8 111.0,335.6 111.5,335.7 112.0,334.5 112.5,334.1 113.0,334.4 113.5,334.2 114.0,334.3 114.5,333.8 115.0,334.0 115.5,334.1 116.0,333.6 116.5,334.8 117.0,333.8 117.5,333.8 118.0,333.8 118.5,333.3 119.0,334.2 119.5,332.0 120.0,332.4 120.5,332.7 121.0,333.3 121.5,332.6 122.0,332.5 122.5,333.5 123.0,332.6 123.5,332.5 124.0,332.7 124.5,331.8 125.0,331.7 125.5,331.8 126.0,331.3 126.5,331.6 127.0,331.0 127.5,331.2 128.0,331.0 128.5,330.8 129.0,332.4 129.5,331.6 130.0,331.7 130.5,330.7 131.0,330.8 131.5,330.3 132.0,329.5 132.5,330.4 133.0,329.8 133.5,330.1 134.0,329.4 134.5,330.5 135.0,330.8 135.5,330.5 136.0,329.9 136.5,329.9 137.0,330.3 137.5,329.5 138.0,329.5 138.5,329.4 139.0,328.6 139.5,329.4 140.0,328.3 140.5,329.5 141.0,329.6 141.5,328.9 142.0,330.0 142.5,329.9 143.0,329.5 143.5,328.8 144.0,328.9 144.5,329.2 145.0,328.6 145.5,329.0 146.0,328.8 146.5,328.8 147.0,329.0 147.5,328.3 148.0,328.4 148.5,329.0 149.0,328.8 149.5,329.3 150.0,328.6 150.5,328.1 151.0,327.7 151.5,327.5 152.0,327.4 152.5,327.3 153.0,327.9 153.5,327.4 154.0,327.9 154.5,327.8 155.0,327.8 155.5,327.7 156.0,327.5 156.5,329.2 157.0,329.1 157.5,329.8 158.0,332.9 158.5,334.1 159.0,339.9 159.5,340.4 160.0,341.4 160.5,344.1 161.0,347.2 161.5,350.7 162.0,348.8 162.5,350.5 163.0,346.6 163.5,346.9 164.0,343.2 164.5,342.7 165.0,342.4 165.5,343.1 166.0,344.2 166.5,342.9 167.0,338.7 167.5,335.7 168.0,330.1 168.5,331.1 169.0,328.8 169.5,323.0 170.0,318.4 170.5,314.0 171.0,311.5 171.5,312.2 172.0,314.5 172.5,312.1 173.0,318.7 173.5,315.7 174.0,317.6 174.5,316.1 175.0,313.3 175.5,310.7 176.0,308.7 176.5,306.0 177.0,305.5 177.5,310.7 178.0,307.7 178.5,310.4 179.0,313.3 179.5,313.8 180.0,313.4 180.5,318.2 181.0,320.0 181.5,314.9 182.0,316.2 182.5,312.2 183.0,313.6 183.5,314.8 184.0,316.0 184.5,317.5 185.0,320.4 185.5,324.2 186.0,326.3 186.5,328.9 187.0,331.2 187.5,328.8 188.0,325.6 188.5,326.5 189.0,320.8 189.5,319.3 190.0,318.9 190.5,321.9 191.0,322.4 191.5,320.3 192.0,327.3 192.5,332.8 193.0,333.9 193.5,329.3 194.0,330.0 194.5,329.8 195.0,326.9 195.5,322.5 196.0,319.2 196.5,320.9 197.0,320.7 197.5,319.7 198.0,324.5 198.5,327.6 199.0,328.4 199.5,329.5 200.0,328.7 200.5,327.8 201.0,324.9 201.5,319.3 202.0,320.9 202.5,319.4 203.0,319.4 203.5,316.4 204.0,316.5 204.5,322.1 205.0,323.1 205.5,322.5 206.0,322.7 206.5,319.6 207.0,319.6 207.5,314.7 208.0,313.3 208.5,310.3 209.0,309.2 209.5,307.0 210.0,312.2 210.5,316.8 211.0,318.6 211.5,321.3 212.0,325.1 212.5,326.4 213.0,326.6 213.5,322.6 214.0,321.7 214.5,321.2 215.0,320.2 215.5,321.1 216.0,324.1 216.5,324.4 217.0,330.5 217.5,329.1 218.0,329.8 218.5,330.3 219.0,332.9 219.5,327.0 220.0,326.2 220.5,324.0 221.0,324.1 221.5,325.6 222.0,326.6 222.5,325.5 223.0,328.6 223.5,332.6 224.0,331.2 224.5,332.3 225.0,330.5 225.5,328.3 226.0,330.8 226.5,329.9 227.0,326.4 227.5,324.5 228.0,326.6 228.5,327.6 229.0,328.5 229.5,331.2 230.0,330.7 230.5,332.5 231.0,331.2 231.5,334.6 232.0,330.9 232.5,330.4 233.0,329.3 233.5,327.0 234.0,326.1 234.5,327.3 235.0,326.1 235.5,329.6 236.0,331.9 236.5,333.1 237.0,335.7 237.5,333.5 238.0,333.0 238.5,330.8 239.0,326.9 239.5,328.8 240.0,329.1 240.5,327.7 241.0,328.6 241.5,330.2 242.0,332.3 242.5,334.1 243.0,332.2 243.5,334.9 244.0,331.6 244.5,332.5 245.0,330.5 245.5,329.9 246.0,327.5 246.5,330.9 247.0,330.9 247.5,331.4 248.0,334.4 248.5,333.7 249.0,332.8 249.5,336.0 250.0,337.9 250.5,336.3 251.0,332.8 251.5,333.2 252.0,331.4 252.5,329.0 253.0,329.9 253.5,331.2 254.0,334.7 254.5,333.9 255.0,337.7 255.5,336.2 256.0,335.0 256.5,340.0 257.0,335.5 257.5,337.0 258.0,336.6 258.5,332.1 259.0,330.8 259.5,332.8 260.0,332.2 260.5,332.3 261.0,334.3 261.5,336.9 262.0,338.5 262.5,338.1 263.0,340.3 263.5,340.0 264.0,338.2 264.5,336.2 265.0,336.1 265.5,334.1 266.0,335.6 266.5,336.5 267.0,336.0 267.5,336.5 268.0,336.6 268.5,337.9 269.0,339.6 269.5,339.0 270.0,339.2 270.5,339.0 271.0,339.2 271.5,338.1 272.0,336.6 272.5,338.2 273.0,337.5 273.5,339.4 274.0,338.6 274.5,340.8 275.0,341.1 275.5,342.2 276.0,342.0 276.5,340.9 277.0,341.0 277.5,340.3 278.0,340.9 278.5,339.3 279.0,338.3 279.5,339.0 280.0,339.8 280.5,341.3 281.0,340.8 281.5,341.0 282.0,344.7 282.5,343.8 283.0,342.5 283.5,341.1 284.0,341.6 284.5,340.9 285.0,340.4 285.5,339.8 286.0,341.4 286.5,340.3 287.0,342.0 287.5,343.9 288.0,343.3 288.5,343.3 289.0,344.5 289.5,344.4 290.0,343.9 290.5,343.4 291.0,341.4 291.5,342.2 292.0,338.8 292.5,341.2 293.0,342.1 293.5,344.6 294.0,345.1 294.5,342.2 295.0,346.7 295.5,344.9 296.0,344.1 296.5,342.6 297.0,342.0 297.5,341.8 298.0,341.5 298.5,339.8 299.0,343.5 299.5,343.3 300.0,343.5 300.5,345.8 301.0,344.7 301.5,347.1 302.0,345.2 302.5,344.2 303.0,344.1 303.5,342.0 304.0,340.6 304.5,340.9 305.0,341.9 305.5,343.6 306.0,343.2 306.5,343.7 307.0,344.7 307.5,345.1 308.0,345.3 308.5,343.8 309.0,342.1 309.5,342.3 310.0,339.1 310.5,339.4 311.0,338.6 311.5,339.6 312.0,339.1 312.5,340.5 313.0,342.0 313.5,342.8 314.0,341.2 314.5,341.8 315.0,343.1 315.5,343.2 316.0,342.6 316.5,342.6 317.0,341.2 317.5,342.3 318.0,342.0 318.5,343.7 319.0,343.6 319.5,345.5 320.0,345.4 320.5,347.4 321.0,348.8 321.5,349.4 322.0,350.0 322.5,349.2 323.0,346.9 323.5,345.1 324.0,344.0 324.5,344.9 325.0,344.3 325.5,345.8 326.0,345.4 326.5,348.0 327.0,347.0 327.5,347.2 328.0,347.1 328.5,346.4 329.0,344.2 329.5,342.9 330.0,341.8 330.5,340.5 331.0,341.2 331.5,341.4 332.0,342.1 332.5,343.1 333.0,343.9 333.5,344.5 334.0,343.2 334.5,343.5 335.0,342.0 335.5,342.1 336.0,339.5 336.5,338.6 337.0,339.4 337.5,338.0 338.0,337.7 338.5,338.0 339.0,338.9 339.5,338.9 340.0,339.4 340.5,338.7 341.0,338.7 341.5,337.4 342.0,336.0 342.5,335.3 343.0,334.2 343.5,333.2 344.0,332.3 344.5,332.4 345.0,331.9 345.5,330.6 346.0,330.3 346.5,329.7 347.0,330.4 347.5,328.9 348.0,328.1 348.5,327.5 349.0,327.1 349.5,327.1 350.0,327.9 350.5,327.4 351.0,328.7 351.5,328.3 352.0,328.6 352.5,328.9 353.0,328.8 353.5,329.0 354.0,329.6 354.5,329.8 355.0,327.8 355.5,328.5 356.0,328.5 356.5,327.8 357.0,328.0 357.5,328.2 358.0,327.2 358.5,328.8 359.0,328.1 359.5,328.2 360.0,327.7 360.5,327.7 361.0,328.5 361.5,327.2 362.0,327.4 362.5,326.9 363.0,327.2 363.5,327.1 364.0,327.3 364.5,327.2 365.0,327.0 365.5,327.4 366.0,327.0 366.5,326.8 367.0,325.8 367.5,326.3 368.0,324.7 368.5,326.6 369.0,325.8 369.5,326.4 370.0,326.9 370.5,325.8 371.0,326.6 371.5,326.1 372.0,326.3 372.5,325.2 373.0,325.4 373.5,325.6 374.0,324.4 374.5,324.3 375.0,324.8 375.5,324.9 376.0,326.1 376.5,324.6 377.0,324.1 377.5,324.7 378.0,323.9 378.5,324.5 379.0,324.1 379.5,323.5 380.0,323.5 380.5,322.9 381.0,323.4 381.5,323.1 382.0,324.1 382.5,324.1 383.0,323.4 383.5,323.6 384.0,323.7 384.5,323.9 385.0,322.6 385.5,322.9 386.0,323.7 386.5,322.0 387.0,322.1 387.5,322.3 388.0,321.6 388.5,322.5 389.0,322.4 389.5,322.5 390.0,322.5 390.5,322.7 391.0,321.1 391.5,322.0 392.0,321.2 392.5,321.4 393.0,320.4 393.5,320.3 394.0,321.2 394.5,320.4 395.0,320.3 395.5,320.7 396.0,320.9 396.5,320.8 397.0,319.7 397.5,320.0 398.0,320.6 398.5,320.1 399.0,320.2 399.5,319.2 400.0,321.1 400.5,321.7 401.0,325.9 401.5,330.9 402.0,335.3 402.5,342.8 403.0,343.7 403.5,342.6 404.0,344.2 404.5,342.6 405.0,340.8 405.5,340.1 406.0,339.7 406.5,340.4 407.0,340.1 407.5,339.3 408.0,343.6 408.5,344.4 409.0,346.2 409.5,345.5 410.0,344.3 410.5,343.8 411.0,344.8 411.5,341.4 412.0,340.9 412.5,339.0 413.0,338.4 413.5,339.3 414.0,341.7 414.5,342.4 415.0,345.1 415.5,346.7 416.0,346.3 416.5,348.1 417.0,346.2 417.5,347.5 418.0,343.5 418.5,342.2 419.0,340.6 419.5,343.2 420.0,341.2 420.5,342.0 421.0,344.2 421.5,349.2 422.0,348.4 422.5,353.1 423.0,350.5 423.5,347.6 424.0,347.2 424.5,349.0 425.0,344.8 425.5,344.4 426.0,348.8 426.5,351.6 427.0,352.1 427.5,352.6 428.0,355.8 428.5,356.1 429.0,358.7 429.5,357.5 430.0,353.7 430.5,353.3 431.0,351.6 431.5,353.8 432.0,353.1 432.5,354.7 433.0,359.9 433.5,359.0 434.0,360.9 434.5,358.3 435.0,357.6 435.5,356.0 436.0,352.5 436.5,350.6 437.0,349.5 437.5,351.7 438.0,345.3 438.5,348.7 439.0,349.2 439.5,349.4 440.0,352.5 440.5,351.7 441.0,351.6 441.5,353.1 442.0,349.2 442.5,348.2 443.0,347.1 443.5,343.1 444.0,344.9 444.5,344.1 445.0,344.5 445.5,347.4 446.0,345.2 446.5,350.2 447.0,349.2 447.5,347.7 448.0,348.2 448.5,345.9 449.0,346.2 449.5,341.1 450.0,341.3 450.5,341.2 451.0,343.5 451.5,342.9 452.0,346.0 452.5,345.6 453.0,348.2 453.5,347.3 454.0,346.9 454.5,344.4 455.0,340.9 455.5,339.6 456.0,342.6 456.5,340.3 457.0,339.7 457.5,343.4 458.0,343.1 458.5,344.0 459.0,344.6 459.5,348.0 460.0,348.7 460.5,344.0 461.0,342.6 461.5,342.2 462.0,342.2 462.5,336.3 463.0,340.2 463.5,341.2 464.0,340.5 464.5,344.8 465.0,344.5 465.5,345.8 466.0,344.1 466.5,344.3 467.0,341.8 467.5,340.8 468.0,339.8 468.5,337.1 469.0,335.9 469.5,340.9 470.0,341.7 470.5,342.7 471.0,342.9 471.5,344.3 472.0,346.7 472.5,345.3 473.0,341.5 473.5,341.5 474.0,339.5 474.5,337.9 475.0,336.3 475.5,340.4 476.0,339.8 476.5,340.6 477.0,340.1 477.5,343.5 478.0,345.0 478.5,345.9 479.0,344.1 479.5,343.5 480.0,341.7 480.5,339.9 481.0,334.9 481.5,337.2 482.0,337.0 482.5,340.9 483.0,342.1 483.5,346.2 484.0,345.3 484.5,343.6 485.0,347.9 485.5,344.5 486.0,343.1 486.5,342.2 487.0,339.0 487.5,340.0 488.0,339.3 488.5,341.7 489.0,341.0 489.5,343.6 490.0,345.5 490.5,343.9 491.0,346.2 491.5,345.7 492.0,344.4 492.5,345.5 493.0,342.0 493.5,341.4 494.0,339.9 494.5,337.0 495.0,339.7 495.5,342.2 496.0,340.1 496.5,343.4 497.0,345.6 497.5,344.5 498.0,346.3 498.5,346.4 499.0,343.3 499.5,344.9 500.0,342.2 500.5,339.6 501.0,339.8 501.5,341.8 502.0,341.7 502.5,344.2 503.0,346.8 503.5,345.9 504.0,349.7 504.5,347.5 505.0,344.0 505.5,343.7 506.0,344.1 506.5,342.6 507.0,339.6 507.5,341.4 508.0,343.6 508.5,342.9 509.0,345.5 509.5,347.5 510.0,347.6 510.5,348.2 511.0,345.9 511.5,347.3 512.0,342.7 512.5,340.7 513.0,340.8 513.5,339.8 514.0,340.7 514.5,341.9 515.0,341.7 515.5,343.7 516.0,345.3 516.5,346.9 517.0,344.5 517.5,346.8 518.0,345.1 518.5,341.9 519.0,340.8 519.5,340.4 520.0,339.1 520.5,337.9 521.0,340.8 521.5,343.0 522.0,347.2 522.5,344.0 523.0,348.7 523.5,345.9 524.0,346.7 524.5,342.9 525.0,342.7 525.5,342.6 526.0,340.6 526.5,343.3 527.0,342.2 527.5,343.2 528.0,346.0 528.5,346.6 529.0,348.9 529.5,351.4 530.0,348.1 530.5,345.8 531.0,346.7 531.5,348.5 532.0,345.8 532.5,346.3 533.0,346.3 533.5,343.2 534.0,346.8 534.5,345.0 535.0,349.7 535.5,353.1 536.0,350.8 536.5,350.0 537.0,350.6 537.5,350.7 538.0,350.9 538.5,350.1 539.0,349.1 539.5,344.1 540.0,344.1 540.5,348.6 541.0,351.7 541.5,350.2 542.0,352.7 542.5,352.5" fill="none" stroke="#000" stroke-width="1.5" stroke-linejoin="round"/>
<polyline points="53.5,556.7 54.0,557.5 54.5,556.8 55.0,555.9 55.5,556.4 56.0,553.6 56.5,554.0 57.0,553.3 57.5,554.3 58.0,555.4 58.5,554.3 59.0,554.3 59.5,551.4 60.0,552.4 60.5,550.6 61.0,552.1 61.5,550.2 62.0,549.0 62.5,539.6 63.0,535.9 63.5,533.0 64.0,530.2 64.5,529.2 65.0,529.9 65.5,531.5 66.0,540.0 66.5,542.4 67.0,542.6 67.5,543.4 68.0,539.8 68.5,539.3 69.0,533.9 69.5,523.0 70.0,517.1 70.5,515.1 71.0,513.0 71.5,512.5 72.0,511.9 72.5,514.6 73.0,522.9 73.5,528.3 74.0,529.6 74.5,531.8 75.0,530.6 75.5,530.0 76.0,527.6 76.5,522.2 77.0,510.5 77.5,508.6 78.0,507.5 78.5,505.8 79.0,506.7 79.5,508.5 80.0,510.0 80.5,521.6 81.0,525.5 81.5,526.9 82.0,527.6 82.5,527.2 83.0,526.8 83.5,522.2 84.0,512.9 84.5,508.2 85.0,504.4 85.5,502.7 86.0,503.1 86.5,505.1 87.0,507.3 87.5,509.9 88.0,519.1 88.5,523.2 89.0,524.7 89.5,525.0 90.0,524.9 90.5,523.5 91.0,519.1 91.5,509.2 92.0,504.1 92.5,502.1 93.0,502.6 93.5,503.3 94.0,504.7 94.5,507.2 95.0,516.9 95.5,521.4 96.0,521.3 96.5,523.1 97.0,524.1 97.5,523.1 98.0,518.9 98.5,516.1 99.0,505.6 99.5,503.1 100.0,502.2 100.5,502.3 101.0,501.1 101.5,505.2 102.0,508.1 102.5,517.4 103.0,521.0 103.5,520.9 104.0,522.8 104.5,523.1 105.0,520.7 105.5,518.0 106.0,508.2 106.5,504.3 107.0,503.1 107.5,501.2 108.0,501.1 108.5,503.0 109.0,506.8 109.5,511.7 110.0,519.6 110.5,520.1 111.0,523.9 111.5,523.4 112.0,513.8 112.5,513.6 113.0,511.8 113.5,511.2 114.0,510.4 114.5,508.5 115.0,507.8 115.5,509.7 116.0,509.5 116.5,512.7 117.0,512.0 117.5,512.9 118.0,513.7 118.5,512.4 119.0,513.0 119.5,515.0 120.0,512.8 120.5,510.2 121.0,508.4 121.5,509.5 122.0,509.3 122.5,508.9 123.0,508.5 123.5,509.6 124.0,510.7 124.5,511.9 125.0,513.7 125.5,511.5 126.0,512.3 126.5,513.0 127.0,512.7 127.5,510.9 128.0,509.9 128.5,509.8 129.0,508.8 129.5,508.4 130.0,509.0 130.5,508.9 131.0,508.1 131.5,511.1 132.0,513.5 132.5,511.7 133.0,513.0 133.5,512.5 134.0,511.8 134.5,511.1 135.0,510.9 135.5,509.0 136.0,508.4 136.5,506.5 137.0,507.4 137.5,508.2 138.0,509.1 138.5,509.7 139.0,512.1 139.5,513.0 140.0,513.1 140.5,511.8 141.0,512.5 141.5,511.5 142.0,509.4 142.5,507.8 143.0,510.3 143.5,507.0 144.0,505.9 144.5,507.5 145.0,509.7 145.5,508.9 146.0,510.9 146.5,512.0 147.0,512.8 147.5,514.3 148.0,514.0 148.5,513.0 149.0,513.5 149.5,512.8 150.0,509.4 150.5,509.2 151.0,508.9 151.5,508.0 152.0,509.8 152.5,509.0 153.0,509.4 153.5,510.8 154.0,512.1 154.5,515.1 155.0,512.9 155.5,514.3 156.0,513.3 156.5,513.6 157.0,511.6 157.5,509.3 158.0,509.2 158.5,509.4 159.0,509.4 159.5,509.6 160.0,511.1 160.5,512.3 161.0,513.7 161.5,516.5 162.0,518.8 162.5,523.2 163.0,523.1 163.5,523.6 164.0,524.8 164.5,522.5 165.0,522.7 165.5,522.1 166.0,522.8 166.5,522.8 167.0,525.2 167.5,524.5 168.0,524.7 168.5,527.5 169.0,525.0 169.5,527.3 170.0,527.7 170.5,527.3 171.0,526.4 171.5,526.2 172.0,525.4 172.5,526.3 173.0,523.4 173.5,525.1 174.0,525.8 174.5,525.3 175.0,524.5 175.5,526.7 176.0,526.6 176.5,528.1 177.0,528.8 177.5,527.6 178.0,525.7 178.5,527.1 179.0,525.8 179.5,527.0 180.0,527.8 180.5,526.5 181.0,528.1 181.5,527.8 182.0,527.3 182.5,526.5 183.0,528.0 183.5,526.8 184.0,529.2 184.5,528.5 185.0,529.6 185.5,528.5 186.0,526.3 186.5,527.9 187.0,528.0 187.5,528.6 188.0,526.3 188.5,526.4 189.0,527.5 189.5,526.7 190.0,527.2 190.5,527.7 191.0,531.2 191.5,528.3 192.0,528.0 192.5,528.4 193.0,528.6 193.5,529.1 194.0,528.4 194.5,528.1 195.0,527.3 195.5,527.4 196.0,526.8 196.5,526.2 197.0,529.7 197.5,528.1 198.0,529.7 198.5,528.6 199.0,528.8 199.5,528.7 200.0,527.5 200.5,528.4 201.0,528.1 201.5,528.2 202.0,527.8 202.5,528.2 203.0,527.6 203.5,527.4 204.0,525.8 204.5,527.8 205.0,530.0 205.5,528.9 206.0,529.6 206.5,528.7 207.0,528.2 207.5,530.5 208.0,528.6 208.5,528.9 209.0,527.9 209.5,527.0 210.0,525.3 210.5,527.4 211.0,526.0 211.5,525.6 212.0,529.5 212.5,529.2 213.0,529.2 213.5,528.7 214.0,528.5 214.5,528.8 215.0,528.3 215.5,527.5 216.0,527.8 216.5,524.7 217.0,527.6 217.5,526.2 218.0,527.6 218.5,528.0 219.0,526.7 219.5,528.7 220.0,528.8 220.5,527.5 221.0,527.6 221.5,528.1 222.0,525.8 222.5,527.1 223.0,526.9 223.5,526.1 224.0,524.9 224.5,525.9 225.0,527.6 225.5,527.4 226.0,526.2 226.5,526.2 227.0,527.1 227.5,527.1 228.0,526.4 228.5,526.5 229.0,527.2 229.5,527.1 230.0,523.3 230.5,525.9 231.0,524.8 231.5,525.5 232.0,524.3 232.5,524.7 233.0,525.8 233.5,521.8 234.0,526.5 234.5,525.3 235.0,523.5 235.5,522.6 236.0,525.1 236.5,523.6 237.0,525.1 237.5,523.5 238.0,522.8 238.5,523.5 239.0,522.6 239.5,523.0 240.0,523.1 240.5,522.8 241.0,523.9 241.5,524.2 242.0,522.4 242.5,523.4 243.0,523.5 243.5,523.1 244.0,521.8 244.5,522.4 245.0,522.5 245.5,522.1 246.0,523.2 246.5,521.2 247.0,521.4 247.5,521.4 248.0,521.9 248.5,522.3 249.0,521.4 249.5,523.4 250.0,524.0 250.5,524.1 251.0,521.9 251.5,522.5 252.0,523.6 252.5,521.5 253.0,521.7 253.5,521.2 254.0,522.2 254.5,522.2 255.0,523.6 255.5,522.4 256.0,522.8 256.5,521.4 257.0,522.2 257.5,521.9 258.0,522.1 258.5,521.0 259.0,522.9 259.5,520.1 260.0,521.0 260.5,519.4 261.0,520.8 261.5,521.9 262.0,519.7 262.5,521.0 263.0,521.3 263.5,522.9 264.0,524.1 264.5,524.2 265.0,525.6 265.5,525.9 266.0,526.2 266.5,526.0 267.0,528.3 267.5,527.4 268.0,529.3 268.5,530.0 269.0,529.4 269.5,532.1 270.0,531.5 270.5,534.3 271.0,536.0 271.5,534.9 272.0,535.5 272.5,536.2 273.0,539.7 273.5,537.8 274.0,537.0 274.5,539.4 275.0,539.1 275.5,539.9 276.0,539.9 276.5,539.6 277.0,541.9 277.5,543.1 278.0,543.7 278.5,545.1 279.0,546.1 279.5,548.4 280.0,549.0 280.5,549.4 281.0,548.9 281.5,548.3 282.0,550.3 282.5,551.1 283.0,552.3 283.5,552.2 284.0,553.0 284.5,554.5 285.0,554.4 285.5,554.2 286.0,555.2 286.5,553.0 287.0,553.6 287.5,553.8 288.0,552.6 288.5,548.4 289.0,543.0 289.5,541.7 290.0,540.3 290.5,540.6 291.0,540.9 291.5,542.1 292.0,549.3 292.5,553.6 293.0,554.4 293.5,554.6 294.0,554.6 294.5,552.8 295.0,552.4 295.5,547.3 296.0,537.4 296.5,533.9 297.0,531.6 297.5,531.3 298.0,532.6 298.5,533.0 299.0,534.4 299.5,542.7 300.0,543.5 300.5,547.1 301.0,546.4 301.5,547.2 302.0,544.2 302.5,541.3 303.0,533.7 303.5,528.0 304.0,527.4 304.5,525.0 305.0,524.6 305.5,525.0 306.0,525.8 306.5,530.1 307.0,537.6 307.5,541.1 308.0,540.3 308.5,540.5 309.0,538.7 309.5,536.9 310.0,533.5 310.5,525.7 311.0,521.2 311.5,520.1 312.0,517.9 312.5,517.7 313.0,517.1 313.5,521.6 314.0,530.6 314.5,532.0 315.0,534.9 315.5,535.0 316.0,533.3 316.5,533.4 317.0,529.6 317.5,525.5 318.0,518.7 318.5,515.3 319.0,512.7 319.5,514.5 320.0,512.6 320.5,514.9 321.0,517.6 321.5,526.3 322.0,528.2 322.5,528.6 323.0,532.0 323.5,528.8 324.0,527.3 324.5,523.0 325.0,516.4 325.5,513.7 326.0,511.8 326.5,512.0 327.0,510.7 327.5,510.5 328.0,512.0 328.5,519.2 329.0,523.7 329.5,525.8 330.0,525.5 330.5,526.6 331.0,527.4 331.5,523.7 332.0,520.6 332.5,509.4 333.0,510.1 333.5,507.8 334.0,508.3 334.5,507.6 335.0,508.0 335.5,510.2 336.0,520.6 336.5,523.2 337.0,523.9 337.5,525.4 338.0,524.5 338.5,524.5 339.0,521.2 339.5,512.5 340.0,509.0 340.5,506.5 341.0,507.3 341.5,505.5 342.0,505.5 342.5,508.4 343.0,512.0 343.5,520.7 344.0,523.0 344.5,523.1 345.0,524.2 345.5,523.5 346.0,520.9 346.5,518.4 347.0,510.2 347.5,505.5 348.0,504.4 348.5,504.3 349.0,504.8 349.5,506.5 350.0,507.2 350.5,516.9 351.0,521.0 351.5,523.6 352.0,522.6 352.5,522.0 353.0,520.4 353.5,520.1 354.0,516.3 354.5,506.6 355.0,505.2 355.5,504.4 356.0,504.1 356.5,503.5 357.0,506.0 357.5,508.5 358.0,516.3 358.5,520.1 359.0,521.5 359.5,520.7 360.0,521.5 360.5,521.5 361.0,515.6 361.5,508.9 362.0,505.5 362.5,502.9 363.0,502.3 363.5,501.8 364.0,504.2 364.5,504.1 365.0,510.9 365.5,515.3 366.0,519.4 366.5,520.3 367.0,518.5 367.5,518.4 368.0,517.7 368.5,513.2 369.0,503.9 369.5,500.1 370.0,501.2 370.5,502.1 371.0,500.3 371.5,502.5 372.0,509.5 372.5,509.7 373.0,510.0 373.5,510.1 374.0,509.2 374.5,512.1 375.0,512.1 375.5,509.6 376.0,510.2 376.5,507.4 377.0,507.6 377.5,508.7 378.0,506.5 378.5,506.4 379.0,507.9 379.5,506.0 380.0,510.0 380.5,509.3 381.0,509.0 381.5,509.4 382.0,507.9 382.5,507.8 383.0,509.1 383.5,508.5 384.0,507.5 384.5,507.2 385.0,506.7 385.5,508.5 386.0,506.0 386.5,506.8 387.0,507.7 387.5,507.2 388.0,507.5 388.5,507.9 389.0,509.7 389.5,510.3 390.0,508.9 390.5,506.7 391.0,507.0 391.5,507.2 392.0,507.0 392.5,506.9 393.0,507.7 393.5,505.6 394.0,507.2 394.5,508.6 395.0,509.3 395.5,509.0 396.0,508.8 396.5,508.7 397.0,508.1 397.5,508.5 398.0,507.5 398.5,506.8 399.0,508.4 399.5,508.3 400.0,506.9 400.5,507.9 401.0,508.7 401.5,508.4 402.0,508.8 402.5,509.3 403.0,507.5 403.5,507.8 404.0,509.5 404.5,509.2 405.0,509.9 405.5,507.5 406.0,508.8 406.5,508.6 407.0,509.5 407.5,507.0 408.0,507.6 408.5,508.4 409.0,509.2 409.5,508.4 410.0,508.9 410.5,508.3 411.0,511.6 411.5,509.4 412.0,509.3 412.5,508.1 413.0,508.4 413.5,508.9 414.0,507.9 414.5,508.2 415.0,510.2 415.5,509.3 416.0,509.1 416.5,509.2 417.0,509.8 417.5,509.3 418.0,510.2 418.5,509.4 419.0,509.2 419.5,509.3 420.0,508.0 420.5,508.9 421.0,510.9 421.5,508.1 422.0,507.2 422.5,509.7 423.0,508.9 423.5,511.5 424.0,510.5 424.5,511.1 425.0,509.7 425.5,509.0 426.0,510.2 426.5,510.8 427.0,509.1 427.5,507.8 428.0,508.6 428.5,508.6 429.0,508.7 429.5,509.1 430.0,511.4 430.5,509.6 431.0,509.9 431.5,512.3 432.0,516.8 432.5,517.3 433.0,520.1 433.5,518.8 434.0,517.3 434.5,518.2 435.0,517.7 435.5,518.8 436.0,516.4 436.5,518.0 437.0,518.0 437.5,519.1 438.0,517.9 438.5,518.8 439.0,521.5 439.5,520.4 440.0,518.7 440.5,520.3 441.0,519.3 441.5,519.1 442.0,518.0 442.5,519.9 443.0,518.5 443.5,519.2 444.0,519.2 444.5,518.0 445.0,519.0 445.5,521.2 446.0,519.4 446.5,521.3 447.0,521.1 447.5,521.9 448.0,521.9 448.5,521.9 449.0,520.6 449.5,520.5 450.0,519.6 450.5,519.7 451.0,521.0 451.5,519.7 452.0,521.3 452.5,521.6 453.0,520.7 453.5,522.1 454.0,521.0 454.5,522.0 455.0,521.0 455.5,521.9 456.0,521.5 456.5,519.6 457.0,522.2 457.5,521.1 458.0,518.7 458.5,520.5 459.0,519.9 459.5,522.3 460.0,521.1 460.5,521.9 461.0,521.5 461.5,522.3 462.0,521.3 462.5,520.9 463.0,521.1 463.5,520.7 464.0,521.0 464.5,520.4 465.0,519.8 465.5,519.8 466.0,519.4 466.5,520.5 467.0,518.8 467.5,521.2 468.0,522.7 468.5,521.4 469.0,521.2 469.5,521.8 470.0,520.8 470.5,520.7 471.0,521.3 471.5,519.8 472.0,522.0 472.5,520.7 473.0,520.1 473.5,519.7 474.0,520.2 474.5,518.9 475.0,521.7 475.5,522.5 476.0,522.3 476.5,521.4 477.0,522.3 477.5,522.1 478.0,521.1 478.5,520.8 479.0,521.2 479.5,520.6 480.0,519.8 480.5,520.2 481.0,520.4 481.5,519.1 482.0,521.4 482.5,521.4 483.0,519.7 483.5,520.1 484.0,523.3 484.5,521.6 485.0,522.5 485.5,520.3 486.0,521.7 486.5,520.6 487.0,519.4 487.5,520.2 488.0,521.5 488.5,522.4 489.0,521.0 489.5,520.8 490.0,520.6 490.5,522.1 491.0,522.5 491.5,521.6 492.0,521.2 492.5,521.8 493.0,520.7 493.5,520.4 494.0,518.5 494.5,519.5 495.0,521.5 495.5,519.9 496.0,522.3 496.5,521.2 497.0,520.9 497.5,521.5 498.0,521.9 498.5,520.7 499.0,521.5 499.5,520.7 500.0,522.0 500.5,519.6 501.0,519.9 501.5,518.3 502.0,518.4 502.5,519.6 503.0,519.0 503.5,519.8 504.0,521.0 504.5,521.5 505.0,519.9 505.5,521.0 506.0,521.7 506.5,520.4 507.0,519.6 507.5,519.4 508.0,521.2 508.5,519.6 509.0,520.9 509.5,519.2 510.0,520.6 510.5,518.4 511.0,520.0 511.5,520.8 512.0,522.5 512.5,521.4 513.0,522.0 513.5,520.5 514.0,520.4 514.5,521.6 515.0,521.0 515.5,520.6 516.0,520.4 516.5,518.8 517.0,521.3 517.5,519.6 518.0,520.8 518.5,521.1 519.0,519.1 519.5,519.0 520.0,519.4 520.5,519.2 521.0,518.7 521.5,515.8 522.0,514.6 522.5,512.8 523.0,513.5 523.5,513.6 524.0,514.8 524.5,514.2 525.0,515.8 525.5,517.1 526.0,517.3 526.5,517.5 527.0,518.4 527.5,518.7 528.0,519.8 528.5,522.3 529.0,522.7 529.5,521.3 530.0,523.1 530.5,524.7 531.0,525.9 531.5,526.8 532.0,528.2 532.5,528.5 533.0,530.2 533.5,531.4 534.0,533.9 534.5,534.9 535.0,536.8 535.5,537.2 536.0,536.4 536.5,536.5 537.0,537.1 537.5,538.4 538.0,540.8 538.5,540.0 539.0,540.6 539.5,543.5 540.0,545.8 540.5,547.6 541.0,549.7 541.5,549.4 542.0,550.1 542.5,551.4" fill="none" stroke="#000" stroke-width="1.4" stroke-linejoin="round"/>
<polyline points="53.5,692.4 54.1,686.3 54.7,691.8 55.3,690.9 55.9,692.8 56.5,691.8 57.1,694.0 57.7,691.9 58.3,690.8 58.9,691.3 59.5,690.1 60.1,688.0 60.7,687.2 61.3,687.4 61.9,686.4 62.5,683.9 63.1,683.0 63.7,680.2 64.3,684.0 64.9,681.1 65.5,682.8 66.1,681.2 66.7,682.8 67.3,681.9 67.9,679.9 68.5,681.1 69.1,677.5 69.7,680.0 70.3,676.1 70.9,678.1 71.5,678.6 72.1,677.1 72.7,676.0 73.3,675.0 73.9,675.3 74.5,676.7 75.1,676.1 75.7,674.4 76.3,672.9 76.9,675.2 77.5,672.3 78.1,673.3 78.7,672.8 79.3,674.5 79.9,673.7 80.5,673.8 81.1,673.3 81.7,671.9 82.3,673.3 82.9,674.2 83.5,672.1 84.1,672.8 84.7,671.4 85.3,672.4 85.9,671.6 86.5,671.4 87.1,670.3 87.7,671.6 88.3,668.6 88.9,668.2 89.5,667.5 90.1,668.6 90.7,666.6 91.3,666.9 91.9,668.9 92.5,669.8 93.1,669.3 93.7,665.4 94.3,667.9 94.9,668.1 95.5,668.2 96.1,669.7 96.7,673.9 97.3,672.4 97.9,673.1 98.5,676.3 99.1,676.7 99.7,678.1 100.3,678.3 100.9,680.5 101.5,682.4 102.1,680.6 102.7,682.3 103.3,686.8 103.9,687.4 104.5,686.5 105.1,686.7 105.7,688.6 106.3,688.2 106.9,690.1 107.5,693.6 108.1,692.5 108.7,694.7 109.3,693.7 109.9,695.3 110.5,697.1 111.1,694.0 111.7,695.7 112.3,696.3 112.9,697.3 113.5,699.4 114.1,698.6 114.7,696.2 115.3,698.2 115.9,697.8 116.5,697.8 117.1,701.6 117.7,697.5 118.3,699.0 118.9,697.7 119.5,699.7 120.1,698.9 120.7,698.5 121.3,698.1 121.9,699.6 122.5,696.8 123.1,697.0 123.7,696.4 124.3,699.5 124.9,697.3 125.5,696.2 126.1,696.9 126.7,700.6 127.3,697.1 127.9,698.3 128.5,697.7 129.1,697.0 129.7,696.0 130.3,696.3 130.9,696.2 131.5,693.7 132.1,699.8 132.7,697.6 133.3,696.4 133.9,695.9 134.5,695.1 135.1,697.2 135.7,695.5 136.3,696.1 136.9,693.4 137.5,695.5 138.1,697.4 138.7,694.1 139.3,695.3 139.9,694.1 140.5,695.2 141.1,694.9 141.7,693.4 142.3,692.4 142.9,693.2 143.5,692.7 144.1,691.6 144.7,692.7 145.3,692.4 145.9,690.5 146.5,691.3 147.1,695.0 147.7,692.0 148.3,690.8 148.9,693.7 149.5,689.6 150.1,686.6 150.7,686.3 151.3,685.8 151.9,687.1 152.5,687.0 153.1,681.9 153.7,685.1 154.3,681.0 154.9,681.9 155.5,681.2 156.1,680.1 156.7,678.5 157.3,677.7 157.9,674.9 158.5,675.6 159.1,675.5 159.7,674.3 160.3,675.4 160.9,672.4 161.5,670.8 162.1,670.9 162.7,668.0 163.3,664.9 163.9,662.6 164.5,666.6 165.1,666.3 165.7,667.2 166.3,666.2 166.9,667.6 167.5,670.2 168.1,668.7 168.7,667.4 169.3,668.8 169.9,671.7 170.5,669.4 171.1,668.4 171.7,669.7 172.3,671.9 172.9,675.7 173.5,675.7 174.1,675.6 174.7,675.8 175.3,678.2 175.9,678.9 176.5,679.1 177.1,680.2 177.7,680.2 178.3,684.3 178.9,679.6 179.5,683.6 180.1,682.8 180.7,685.8 181.3,685.3 181.9,686.8 182.5,687.7 183.1,688.0 183.7,689.7 184.3,687.4 184.9,691.1 185.5,690.0 186.1,691.2 186.7,693.1 187.3,693.0 187.9,694.5 188.5,689.3 189.1,691.4 189.7,694.3 190.3,692.0 190.9,693.6 191.5,696.4 192.1,695.8 192.7,693.8 193.3,696.0 193.9,696.6 194.5,696.3 195.1,696.4 195.7,697.1 196.3,695.4 196.9,697.9 197.5,696.9 198.1,699.0 198.7,699.5 199.3,698.1 199.9,700.5 200.5,700.5 201.1,700.4 201.7,701.8 202.3,700.8 202.9,701.3 203.5,702.1 204.1,702.3 204.7,704.3 205.3,700.1 205.9,703.2 206.5,701.4 207.1,703.7 207.7,705.1 208.3,705.1 208.9,706.6 209.5,705.6 210.1,701.5 210.7,703.4 211.3,706.8 211.9,706.6 212.5,704.6 213.1,702.3 213.7,707.0 214.3,701.3 214.9,704.3 215.5,703.6 216.1,703.9 216.7,701.9 217.3,702.8 217.9,704.5 218.5,702.3 219.1,701.0 219.7,702.7 220.3,702.7 220.9,702.2 221.5,701.2 222.1,702.8 222.7,701.8 223.3,700.3 223.9,702.0 224.5,701.5 225.1,701.6 225.7,699.0 226.3,700.1 226.9,701.6 227.5,702.1 228.1,701.2 228.7,700.8 229.3,701.4 229.9,701.6 230.5,702.5 231.1,700.6 231.7,699.2 232.3,700.4 232.9,697.1 233.5,699.6 234.1,698.8 234.7,699.2 235.3,699.7 235.9,699.0 236.5,696.9 237.1,698.2 237.7,697.5 238.3,698.4 238.9,698.7 239.5,696.8 240.1,698.9 240.7,699.1 241.3,696.6 241.9,697.4 242.5,694.1 243.1,694.8 243.7,696.3 244.3,692.3 244.9,693.4 245.5,692.4 246.1,694.6 246.7,694.1 247.3,691.3 247.9,691.8 248.5,687.8 249.1,691.8 249.7,690.7 250.3,690.8 250.9,684.2 251.5,685.9 252.1,683.2 252.7,678.5 253.3,679.2 253.9,678.2 254.5,677.5 255.1,674.9 255.7,672.2 256.3,672.0 256.9,670.2 257.5,668.4 258.1,666.8 258.7,667.3 259.3,666.2 259.9,667.3 260.5,663.2 261.1,664.8 261.7,662.1 262.3,662.0 262.9,658.2 263.5,657.2 264.1,656.8 264.7,658.1 265.3,658.4 265.9,660.4 266.5,661.1 267.1,663.3 267.7,663.4 268.3,663.8 268.9,666.4 269.5,667.1 270.1,670.4 270.7,669.0 271.3,670.3 271.9,670.8 272.5,673.7 273.1,674.3 273.7,675.0 274.3,673.5 274.9,674.2 275.5,677.5 276.1,679.1 276.7,681.0 277.3,677.7 277.9,680.7 278.5,679.7 279.1,681.6 279.7,683.5 280.3,685.9 280.9,684.9 281.5,685.6 282.1,687.1 282.7,690.1 283.3,692.5 283.9,688.3 284.5,690.9 285.1,691.5 285.7,693.7 286.3,693.0 286.9,694.6 287.5,691.5 288.1,693.0 288.7,692.6 289.3,691.9 289.9,693.3 290.5,692.2 291.1,696.7 291.7,694.6 292.3,693.0 292.9,693.7 293.5,696.9 294.1,694.2 294.7,696.0 295.3,696.0 295.9,696.8 296.5,696.4 297.1,695.5 297.7,695.2 298.3,693.9 298.9,696.3 299.5,696.7 300.1,696.3 300.7,696.7 301.3,695.5 301.9,700.1 302.5,696.9 303.1,696.3 303.7,697.1 304.3,697.8 304.9,699.2 305.5,695.3 306.1,699.3 306.7,698.0 307.3,698.8 307.9,700.5 308.5,700.4 309.1,698.7 309.7,699.6 310.3,702.4 310.9,701.9 311.5,701.4 312.1,700.1 312.7,701.1 313.3,700.2 313.9,698.7 314.5,698.0 315.1,699.7 315.7,699.3 316.3,700.2 316.9,697.8 317.5,700.1 318.1,697.6 318.7,699.5 319.3,698.3 319.9,696.7 320.5,696.0 321.1,696.9 321.7,696.5 322.3,697.8 322.9,695.5 323.5,694.3 324.1,696.0 324.7,698.3 325.3,697.7 325.9,694.6 326.5,694.8 327.1,695.4 327.7,693.9 328.3,694.3 328.9,694.0 329.5,692.8 330.1,693.1 330.7,692.7 331.3,693.1 331.9,690.7 332.5,691.8 333.1,689.8 333.7,689.5 334.3,688.5 334.9,694.6 335.5,690.5 336.1,690.1 336.7,688.8 337.3,686.9 337.9,686.7 338.5,686.4 339.1,686.1 339.7,685.7 340.3,686.4 340.9,680.0 341.5,682.5 342.1,683.6 342.7,681.7 343.3,681.4 343.9,683.0 344.5,680.7 345.1,682.1 345.7,678.7 346.3,677.9 346.9,675.1 347.5,672.8 348.1,673.8 348.7,673.3 349.3,671.7 349.9,669.3 350.5,670.8 351.1,668.9 351.7,667.7 352.3,665.6 352.9,667.7 353.5,667.4 354.1,667.8 354.7,669.2 355.3,671.6 355.9,675.4 356.5,678.8 357.1,677.1 357.7,678.5 358.3,677.9 358.9,684.5 359.5,680.1 360.1,683.2 360.7,683.4 361.3,685.0 361.9,682.8 362.5,682.4 363.1,685.3 363.7,686.2 364.3,687.8 364.9,684.7 365.5,686.9 366.1,687.8 366.7,686.9 367.3,689.1 367.9,690.9 368.5,690.0 369.1,688.3 369.7,690.6 370.3,691.4 370.9,691.0 371.5,691.4 372.1,688.3 372.7,691.1 373.3,691.4 373.9,690.2 374.5,690.6 375.1,689.8 375.7,692.5 376.3,690.5 376.9,689.8 377.5,691.3 378.1,691.3 378.7,692.0 379.3,690.2 379.9,690.4 380.5,691.9 381.1,694.4 381.7,692.1 382.3,689.8 382.9,691.9 383.5,690.7 384.1,689.4 384.7,690.9 385.3,691.2 385.9,692.5 386.5,693.8 387.1,693.6 387.7,693.2 388.3,691.7 388.9,692.5 389.5,692.3 390.1,694.3 390.7,691.6 391.3,691.8 391.9,694.6 392.5,693.4 393.1,691.9 393.7,692.5 394.3,692.3 394.9,692.1 395.5,692.6 396.1,691.9 396.7,690.9 397.3,690.3 397.9,688.4 398.5,689.9 399.1,691.7 399.7,690.3 400.3,688.9 400.9,689.2 401.5,688.2 402.1,689.5 402.7,691.5 403.3,691.0 403.9,690.0 404.5,689.2 405.1,687.5 405.7,685.0 406.3,685.4 406.9,683.6 407.5,684.1 408.1,682.0 408.7,679.9 409.3,680.0 409.9,682.0 410.5,675.8 411.1,677.3 411.7,675.4 412.3,673.3 412.9,671.2 413.5,671.2 414.1,670.4 414.7,670.1 415.3,669.0 415.9,667.5 416.5,665.1 417.1,665.4 417.7,663.4 418.3,661.6 418.9,663.1 419.5,660.0 420.1,658.3 420.7,658.7 421.3,654.8 421.9,656.0 422.5,655.4 423.1,653.0 423.7,652.6 424.3,653.8 424.9,651.6 425.5,649.7 426.1,650.6 426.7,651.0 427.3,653.4 427.9,655.0 428.5,657.3 429.1,659.3 429.7,659.9 430.3,664.9 430.9,663.3 431.5,667.3 432.1,670.3 432.7,671.0 433.3,672.3 433.9,675.4 434.5,680.0 435.1,680.5 435.7,681.4 436.3,684.7 436.9,685.8 437.5,685.8 438.1,690.4 438.7,692.0 439.3,692.7 439.9,691.6 440.5,690.4 441.1,694.3 441.7,693.1 442.3,694.8 442.9,695.8 443.5,695.3 444.1,695.4 444.7,695.2 445.3,695.9 445.9,697.1 446.5,697.0 447.1,698.6 447.7,696.1 448.3,697.9 448.9,699.7 449.5,699.3 450.1,700.1 450.7,699.8 451.3,702.4 451.9,703.5 452.5,700.0 453.1,702.7 453.7,699.2 454.3,701.1 454.9,698.2 455.5,701.4 456.1,700.6 456.7,700.7 457.3,702.0 457.9,701.0 458.5,700.1 459.1,699.0 459.7,700.0 460.3,698.9 460.9,699.1 461.5,701.5 462.1,700.6 462.7,699.7 463.3,700.0 463.9,697.2 464.5,699.1 465.1,696.7 465.7,697.9 466.3,699.1 466.9,699.0 467.5,699.3 468.1,698.5 468.7,698.3 469.3,698.1 469.9,699.8 470.5,699.1 471.1,694.9 471.7,696.4 472.3,697.3 472.9,694.7 473.5,694.7 474.1,693.0 474.7,691.7 475.3,692.8 475.9,691.5 476.5,691.2 477.1,688.9 477.7,688.7 478.3,689.4 478.9,688.4 479.5,689.1 480.1,686.4 480.7,688.1 481.3,687.3 481.9,686.1 482.5,686.2 483.1,684.5 483.7,683.1 484.3,682.0 484.9,679.2 485.5,679.5 486.1,679.3 486.7,674.9 487.3,676.6 487.9,673.6 488.5,672.7 489.1,672.0 489.7,671.0 490.3,671.1 490.9,667.9 491.5,669.1 492.1,665.6 492.7,664.5 493.3,663.1 493.9,659.6 494.5,657.4 495.1,657.3 495.7,656.4 496.3,655.0 496.9,651.7 497.5,652.8 498.1,649.9 498.7,651.0 499.3,655.2 499.9,657.1 500.5,656.1 501.1,660.2 501.7,659.4 502.3,662.9 502.9,667.6 503.5,667.6 504.1,668.0 504.7,669.0 505.3,668.3 505.9,670.9 506.5,672.2 507.1,671.4 507.7,674.2 508.3,675.7 508.9,676.5 509.5,677.9 510.1,678.2 510.7,678.1 511.3,680.8 511.9,679.4 512.5,681.5 513.1,684.4 513.7,685.8 514.3,684.5 514.9,681.4 515.5,686.8 516.1,686.2 516.7,685.8 517.3,687.5 517.9,687.8 518.5,686.0 519.1,686.4 519.7,689.9 520.3,686.1 520.9,690.4 521.5,690.5 522.1,691.9 522.7,693.4 523.3,693.4 523.9,694.2 524.5,693.7 525.1,693.8 525.7,694.9 526.3,693.9 526.9,693.0 527.5,694.5 528.1,692.9 528.7,694.6 529.3,698.3 529.9,696.7 530.5,696.2 531.1,696.0 531.7,694.8 532.3,696.8 532.9,696.8 533.5,698.2 534.1,698.6 534.7,698.8 535.3,696.8 535.9,701.5 536.5,700.5 537.1,700.3 537.7,699.7 538.3,700.5 538.9,701.3 539.5,700.2 540.1,697.7 540.7,697.3 541.3,695.7 541.9,698.6 542.5,699.2" fill="none" stroke="#000" stroke-width="1.5" stroke-linejoin="round"/>
<polyline points="53.5,880.3 54.1,877.4 54.7,875.0 55.3,872.2 55.9,872.7 56.5,873.4 57.1,872.6 57.7,872.7 58.3,872.8 58.9,871.7 59.5,873.3 60.1,871.4 60.7,871.9 61.3,873.1 61.9,871.6 62.5,871.7 63.1,871.3 63.7,871.7 64.3,870.4 64.9,871.2 65.5,872.3 66.1,858.6 66.7,842.7 67.3,833.4 67.9,835.7 68.5,837.9 69.1,840.4 69.7,841.6 70.3,845.1 70.9,846.9 71.5,850.0 72.1,852.0 72.7,852.1 73.3,853.2 73.9,853.3 74.5,854.9 75.1,855.0 75.7,856.3 76.3,856.2 76.9,858.5 77.5,857.9 78.1,858.8 78.7,858.7 79.3,857.8 79.9,858.6 80.5,858.8 81.1,860.2 81.7,861.6 82.3,861.8 82.9,861.8 83.5,860.4 84.1,860.9 84.7,860.8 85.3,861.2 85.9,860.9 86.5,862.0 87.1,862.4 87.7,861.9 88.3,862.4 88.9,863.0 89.5,862.1 90.1,861.9 90.7,862.8 91.3,862.3 91.9,861.9 92.5,862.3 93.1,862.4 93.7,862.7 94.3,863.1 94.9,863.9 95.5,864.8 96.1,864.3 96.7,864.5 97.3,864.5 97.9,864.1 98.5,864.9 99.1,865.3 99.7,864.5 100.3,865.5 100.9,865.0 101.5,866.2 102.1,866.4 102.7,865.9 103.3,865.3 103.9,866.4 104.5,866.1 105.1,866.4 105.7,867.2 106.3,868.2 106.9,867.7 107.5,868.5 108.1,871.1 108.7,875.1 109.3,878.1 109.9,878.1 110.5,875.6 111.1,873.9 111.7,872.9 112.3,872.6 112.9,873.0 113.5,872.6 114.1,872.0 114.7,872.1 115.3,872.1 115.9,872.2 116.5,871.1 117.1,871.4 117.7,870.4 118.3,871.0 118.9,870.8 119.5,856.3 120.1,839.7 120.7,833.0 121.3,836.3 121.9,837.9 122.5,840.1 123.1,843.3 123.7,845.1 124.3,848.1 124.9,849.8 125.5,852.5 126.1,853.2 126.7,853.3 127.3,854.8 127.9,854.3 128.5,855.0 129.1,856.1 129.7,857.5 130.3,857.7 130.9,857.9 131.5,858.3 132.1,858.9 132.7,858.2 133.3,857.8 133.9,859.2 134.5,860.5 135.1,860.8 135.7,861.5 136.3,860.3 136.9,861.0 137.5,860.9 138.1,860.9 138.7,860.9 139.3,861.6 139.9,861.3 140.5,862.6 141.1,861.9 141.7,862.6 142.3,863.3 142.9,863.1 143.5,861.5 144.1,862.6 144.7,862.0 145.3,861.6 145.9,862.4 146.5,862.8 147.1,863.8 147.7,862.7 148.3,863.6 148.9,864.1 149.5,863.6 150.1,865.2 150.7,865.5 151.3,864.4 151.9,865.0 152.5,864.8 153.1,865.1 153.7,865.0 154.3,866.5 154.9,866.2 155.5,868.2 156.1,869.3 156.7,873.8 157.3,875.2 157.9,879.4 158.5,876.8 159.1,875.5 159.7,873.9 160.3,872.4 160.9,872.0 161.5,871.7 162.1,872.5 162.7,872.8 163.3,872.6 163.9,871.8 164.5,870.9 165.1,870.8 165.7,869.9 166.3,870.0 166.9,871.7 167.5,868.8 168.1,853.4 168.7,837.5 169.3,834.6 169.9,837.0 170.5,838.2 171.1,840.7 171.7,842.9 172.3,846.3 172.9,848.6 173.5,850.3 174.1,853.3 174.7,852.8 175.3,852.8 175.9,853.0 176.5,854.5 177.1,855.5 177.7,855.9 178.3,857.3 178.9,858.6 179.5,858.1 180.1,858.6 180.7,859.1 181.3,858.6 181.9,858.2 182.5,859.6 183.1,860.6 183.7,862.3 184.3,861.1 184.9,860.4 185.5,861.1 186.1,860.9 186.7,860.4 187.3,861.1 187.9,861.5 188.5,862.4 189.1,861.9 189.7,862.5 190.3,862.9 190.9,862.5 191.5,863.2 192.1,862.7 192.7,862.3 193.3,862.9 193.9,862.3 194.5,862.9 195.1,863.2 195.7,863.1 196.3,863.4 196.9,863.9 197.5,863.7 198.1,864.4 198.7,865.0 199.3,864.8 199.9,864.3 200.5,866.0 201.1,864.4 201.7,865.3 202.3,865.7 202.9,866.5 203.5,866.0 204.1,867.0 204.7,867.4 205.3,868.6 205.9,871.6 206.5,875.1 207.1,878.5 207.7,879.1 208.3,876.5 208.9,874.7 209.5,872.5 210.1,873.1 210.7,872.0 211.3,872.9 211.9,872.3 212.5,871.6 213.1,871.3 213.7,871.5 214.3,871.2 214.9,870.5 215.5,870.5 216.1,870.9 216.7,871.2 217.3,858.4 217.9,843.0 218.5,833.9 219.1,835.8 219.7,837.5 220.3,840.9 220.9,843.0 221.5,844.7 222.1,847.8 222.7,849.4 223.3,851.7 223.9,852.3 224.5,854.1 225.1,853.9 225.7,854.6 226.3,855.1 226.9,855.8 227.5,857.1 228.1,858.1 228.7,859.1 229.3,857.8 229.9,859.1 230.5,858.8 231.1,857.7 231.7,859.7 232.3,860.9 232.9,861.5 233.5,861.6 234.1,861.4 234.7,860.1 235.3,861.1 235.9,860.8 236.5,860.3 237.1,861.3 237.7,861.4 238.3,863.4 238.9,862.1 239.5,862.6 240.1,861.8 240.7,862.5 241.3,862.6 241.9,862.4 242.5,861.9 243.1,862.5 243.7,862.4 244.3,863.3 244.9,863.0 245.5,862.5 246.1,863.7 246.7,863.7 247.3,864.9 247.9,864.3 248.5,864.6 249.1,864.7 249.7,864.1 250.3,864.7 250.9,865.4 251.5,864.9 252.1,865.5 252.7,866.2 253.3,866.2 253.9,866.8 254.5,867.6 255.1,867.7 255.7,870.3 256.3,873.6 256.9,876.6 257.5,878.1 258.1,877.8 258.7,875.6 259.3,872.9 259.9,873.3 260.5,873.2 261.1,872.9 261.7,872.1 262.3,871.4 262.9,871.3 263.5,871.6 264.1,872.0 264.7,871.7 265.3,870.4 265.9,870.7 266.5,871.9 267.1,864.7 267.7,847.6 268.3,832.6 268.9,834.8 269.5,836.9 270.1,839.2 270.7,841.5 271.3,844.0 271.9,845.6 272.5,848.8 273.1,851.6 273.7,852.8 274.3,853.4 274.9,853.8 275.5,854.3 276.1,855.8 276.7,855.5 277.3,856.6 277.9,858.0 278.5,858.1 279.1,857.5 279.7,858.0 280.3,858.1 280.9,858.4 281.5,858.6 282.1,860.2 282.7,861.0 283.3,861.8 283.9,861.1 284.5,861.6 285.1,861.4 285.7,861.8 286.3,860.2 286.9,861.0 287.5,862.2 288.1,861.5 288.7,862.7 289.3,863.1 289.9,862.9 290.5,862.3 291.1,862.6 291.7,861.7 292.3,862.9 292.9,861.9 293.5,862.2 294.1,862.5 294.7,863.0 295.3,863.3 295.9,863.9 296.5,863.8 297.1,864.4 297.7,864.5 298.3,865.5 298.9,866.4 299.5,867.2 300.1,866.6 300.7,865.8 301.3,865.3 301.9,879.0 302.5,876.6 303.1,875.1 303.7,873.2 304.3,874.2 304.9,871.9 305.5,872.6 306.1,871.6 306.7,872.7 307.3,871.8 307.9,871.9 308.5,871.4 309.1,871.3 309.7,869.1 310.3,870.3 310.9,871.4 311.5,863.0 312.1,848.3 312.7,833.0 313.3,834.1 313.9,836.8 314.5,839.6 315.1,842.5 315.7,844.5 316.3,846.8 316.9,848.4 317.5,851.2 318.1,852.5 318.7,852.7 319.3,853.8 319.9,854.1 320.5,854.6 321.1,856.7 321.7,856.4 322.3,858.3 322.9,857.9 323.5,858.1 324.1,857.6 324.7,858.1 325.3,859.2 325.9,858.8 326.5,858.7 327.1,861.3 327.7,861.1 328.3,861.1 328.9,861.1 329.5,860.0 330.1,861.5 330.7,861.1 331.3,860.8 331.9,861.7 332.5,861.9 333.1,862.2 333.7,862.9 334.3,862.1 334.9,862.5 335.5,862.3 336.1,863.4 336.7,861.5 337.3,862.7 337.9,862.5 338.5,862.6 339.1,862.6 339.7,864.1 340.3,864.4 340.9,864.0 341.5,864.3 342.1,864.6 342.7,865.5 343.3,864.2 343.9,864.8 344.5,865.4 345.1,864.2 345.7,865.0 346.3,865.9 346.9,865.5 347.5,866.1 348.1,865.8 348.7,867.1 349.3,866.7 349.9,867.5 350.5,868.7 351.1,871.7 351.7,875.8 352.3,879.2 352.9,878.0 353.5,876.4 354.1,873.9 354.7,871.8 355.3,873.2 355.9,872.9 356.5,872.1 357.1,871.8 357.7,872.6 358.3,871.6 358.9,871.3 359.5,870.9 360.1,871.9 360.7,870.3 361.3,869.8 361.9,871.4 362.5,855.3 363.1,839.3 363.7,833.6 364.3,835.5 364.9,838.5 365.5,840.2 366.1,843.3 366.7,845.6 367.3,847.6 367.9,850.3 368.5,852.9 369.1,853.0 369.7,852.5 370.3,853.9 370.9,854.5 371.5,855.7 372.1,855.9 372.7,857.5 373.3,857.7 373.9,858.0 374.5,858.0 375.1,858.2 375.7,858.3 376.3,858.6 376.9,858.8 377.5,859.6 378.1,860.9 378.7,861.4 379.3,860.9 379.9,861.1 380.5,860.9 381.1,861.4 381.7,860.0 382.3,862.2 382.9,860.5 383.5,861.3 384.1,862.8 384.7,862.4 385.3,862.5 385.9,862.3 386.5,861.7 387.1,861.5 387.7,861.9 388.3,862.1 388.9,862.5 389.5,862.7 390.1,862.8 390.7,863.9 391.3,862.6 391.9,864.1 392.5,865.0 393.1,865.3 393.7,865.2 394.3,865.3 394.9,865.2 395.5,864.9 396.1,863.8 396.7,864.9 397.3,865.4 397.9,866.8 398.5,866.3 399.1,866.8 399.7,867.7 400.3,867.4 400.9,870.8 401.5,874.5 402.1,877.4 402.7,878.3 403.3,875.6 403.9,873.9 404.5,872.8 405.1,873.3 405.7,872.2 406.3,871.9 406.9,871.8 407.5,872.3 408.1,871.1 408.7,871.6 409.3,870.9 409.9,870.8 410.5,870.1 411.1,870.9 411.7,871.9 412.3,860.8 412.9,845.1 413.5,831.4 414.1,835.2 414.7,837.0 415.3,839.8 415.9,842.0 416.5,843.9 417.1,846.4 417.7,848.4 418.3,852.5 418.9,852.9 419.5,853.4 420.1,854.2 420.7,854.9 421.3,855.3 421.9,856.2 422.5,857.8 423.1,856.6 423.7,858.1 424.3,857.8 424.9,858.2 425.5,857.0 426.1,857.9 426.7,859.3 427.3,859.2 427.9,861.0 428.5,861.0 429.1,861.1 429.7,860.3 430.3,860.5 430.9,859.9 431.5,860.8 432.1,860.2 432.7,861.7 433.3,861.8 433.9,862.5 434.5,863.7 435.1,862.7 435.7,862.3 436.3,862.5 436.9,862.7 437.5,861.9 438.1,862.9 438.7,862.3 439.3,862.4 439.9,862.6 440.5,863.2 441.1,864.0 441.7,864.6 442.3,864.5 442.9,864.3 443.5,864.6 444.1,863.7 444.7,865.3 445.3,865.3 445.9,864.8 446.5,865.5 447.1,865.2 447.7,867.2 448.3,866.9 448.9,867.3 449.5,869.7 450.1,871.6 450.7,875.7 451.3,878.5 451.9,877.7 452.5,875.9 453.1,873.8 453.7,873.8 454.3,873.4 454.9,872.4 455.5,873.7 456.1,872.3 456.7,872.1 457.3,872.2 457.9,871.1 458.5,871.9 459.1,870.4 459.7,870.2 460.3,871.8 460.9,871.2 461.5,855.9 462.1,839.7 462.7,833.4 463.3,836.0 463.9,837.1 464.5,840.5 465.1,842.5 465.7,846.0 466.3,848.7 466.9,850.3 467.5,852.5 468.1,853.3 468.7,853.9 469.3,853.3 469.9,853.9 470.5,855.0 471.1,855.4 471.7,856.8 472.3,857.9 472.9,857.7 473.5,858.4 474.1,859.0 474.7,858.4 475.3,858.7 475.9,859.3 476.5,860.1 477.1,860.8 477.7,860.9 478.3,861.5 478.9,861.6 479.5,860.8 480.1,860.7 480.7,860.1 481.3,861.1 481.9,861.9 482.5,862.2 483.1,862.8 483.7,862.4 484.3,862.2 484.9,862.5 485.5,863.2 486.1,862.1 486.7,861.4 487.3,861.7 487.9,862.2 488.5,863.3 489.1,863.6 489.7,863.0 490.3,863.3 490.9,864.1 491.5,864.5 492.1,864.1 492.7,865.1 493.3,864.5 493.9,864.9 494.5,864.8 495.1,865.2 495.7,865.9 496.3,868.1 496.9,872.0 497.5,874.9 498.1,879.0 498.7,877.5 499.3,876.1 499.9,873.7 500.5,872.2 501.1,872.7 501.7,873.5 502.3,872.5 502.9,872.7 503.5,871.1 504.1,871.9 504.7,870.9 505.3,871.2 505.9,871.2 506.5,870.4 507.1,871.5 507.7,871.0 508.3,858.5 508.9,842.5 509.5,833.2 510.1,835.3 510.7,836.6 511.3,839.8 511.9,842.1 512.5,845.6 513.1,845.9 513.7,849.6 514.3,852.3 514.9,853.5 515.5,853.8 516.1,853.7 516.7,855.1 517.3,854.9 517.9,855.7 518.5,856.6 519.1,857.4 519.7,858.8 520.3,857.3 520.9,857.4 521.5,858.8 522.1,858.6 522.7,859.4 523.3,859.8 523.9,861.1 524.5,861.2 525.1,860.9 525.7,860.7 526.3,860.8 526.9,860.6 527.5,860.4 528.1,861.9 528.7,861.8 529.3,861.9 529.9,861.9 530.5,862.8 531.1,861.9 531.7,862.1 532.3,861.8 532.9,861.8 533.5,862.2 534.1,860.3 534.7,862.9 535.3,862.7 535.9,862.7 536.5,862.9 537.1,864.0 537.7,863.9 538.3,865.2 538.9,864.8 539.5,865.0 540.1,865.1 540.7,865.5 541.3,865.8 541.9,864.4 542.5,869.2" fill="none" stroke="#000" stroke-width="1.35" stroke-linejoin="round"/>
<polyline points="56.0,1034.3 57.2,1028.1 58.2,1022.0 59.2,1030.1 60.4,1034.1 61.6,1027.3 62.6,1020.4 63.6,1029.3 63.6,1034.0 64.1,988.6 64.7,1030.0 65.2,1014.5 65.8,1035.0 66.5,1018.0 67.2,1034.0 67.9,1013.5 68.6,1036.0 69.2,1036.4 70.4,1030.0 71.4,1023.6 72.4,1032.0 73.6,1037.4 74.8,1028.2 75.8,1019.1 76.8,1030.2 78.0,1034.6 79.2,1029.7 80.2,1024.9 81.2,1031.7 78.8,1034.0 79.3,983.5 79.9,1030.0 80.4,1008.7 81.0,1035.0 81.7,1009.9 82.4,1034.0 83.1,1023.5 83.8,1036.0 84.4,1035.4 85.6,1027.8 86.6,1020.1 87.6,1029.8 88.8,1036.7 90.0,1027.8 91.0,1019.0 92.0,1029.8 91.5,1034.0 92.0,984.8 92.6,1030.0 93.1,1009.0 93.7,1035.0 94.4,1015.5 95.1,1034.0 95.8,1019.4 96.5,1036.0 97.1,1036.4 98.3,1027.4 99.3,1018.5 100.3,1029.4 101.5,1037.0 102.7,1025.4 103.7,1013.7 104.7,1027.4 105.9,1036.2 107.1,1030.2 108.1,1024.3 109.1,1032.2 106.5,1034.0 107.0,984.0 107.6,1030.0 108.1,1008.5 108.7,1035.0 109.4,1006.8 110.1,1034.0 110.8,1020.7 111.5,1036.0 112.1,1034.0 113.3,1028.2 114.3,1022.4 115.3,1030.2 116.5,1034.2 117.7,1029.4 118.7,1024.6 119.7,1031.4 120.9,1035.8 122.1,1030.4 123.1,1024.9 124.1,1032.4 123.7,1034.0 124.2,1005.0 124.8,1030.0 125.3,1013.2 125.9,1035.0 126.6,1017.2 127.3,1034.0 128.0,1020.3 128.7,1036.0 127.5,1034.0 128.0,993.6 128.6,1030.0 129.1,1008.2 129.7,1035.0 130.4,1010.5 131.1,1034.0 131.8,1020.4 132.5,1036.0 133.1,1034.7 134.3,1026.8 135.3,1019.0 136.3,1028.8 137.5,1035.8 138.7,1028.5 139.7,1021.2 140.7,1030.5 142.2,1034.0 142.7,981.5 143.3,1030.0 143.8,1013.2 144.4,1035.0 145.1,1019.4 145.8,1034.0 146.5,1014.0 147.2,1036.0 147.8,1035.2 149.0,1027.2 150.0,1019.1 151.0,1029.2 152.4,1034.0 152.9,1001.3 153.5,1030.0 154.0,1011.8 154.6,1035.0 155.3,1007.1 156.0,1034.0 156.7,1014.5 157.4,1036.0 158.0,1034.4 159.2,1029.3 160.2,1024.1 161.2,1031.3 162.5,1034.0 163.0,987.3 163.6,1030.0 164.1,1015.1 164.7,1035.0 165.4,1009.2 166.1,1034.0 166.8,1013.9 167.5,1036.0 168.1,1034.3 169.3,1028.0 170.3,1021.8 171.3,1030.0 172.4,1034.0 172.9,984.8 173.5,1030.0 174.0,1012.1 174.6,1035.0 175.3,1010.2 176.0,1034.0 176.7,1023.9 177.4,1036.0 178.0,1036.2 179.2,1028.3 180.2,1020.4 181.2,1030.3 182.4,1035.1 183.6,1023.6 184.6,1012.1 185.6,1025.6 183.6,1034.0 184.1,977.9 184.7,1030.0 185.2,1010.5 185.8,1035.0 186.5,1017.9 187.2,1034.0 187.9,1020.3 188.6,1036.0 189.2,1036.8 190.4,1028.2 191.4,1019.6 192.4,1030.2 193.6,1035.1 194.8,1028.3 195.8,1021.6 196.8,1030.3 196.0,1034.0 196.5,991.1 197.1,1030.0 197.6,1008.1 198.2,1035.0 198.9,1012.1 199.6,1034.0 200.3,1016.3 201.0,1036.0 201.6,1035.7 202.8,1028.0 203.8,1020.3 204.8,1030.0 203.1,1034.0 203.6,984.8 204.2,1030.0 204.7,1007.3 205.3,1035.0 206.0,1014.7 206.7,1034.0 207.4,1017.4 208.1,1036.0 208.7,1036.2 209.9,1028.8 210.9,1021.3 211.9,1030.8 213.1,1036.1 214.3,1030.5 215.3,1024.9 216.3,1032.5 216.8,1034.0 217.3,981.0 217.9,1030.0 218.4,1013.8 219.0,1035.0 219.7,1010.5 220.4,1034.0 221.1,1016.9 221.8,1036.0 222.4,1034.2 223.6,1027.9 224.6,1021.6 225.6,1029.9 226.8,1036.5 228.0,1029.5 229.0,1022.4 230.0,1031.5 231.0,1034.0 231.5,983.5 232.1,1030.0 232.6,1015.3 233.2,1035.0 233.9,1006.3 234.6,1034.0 235.3,1022.3 236.0,1036.0 236.6,1036.5 237.8,1030.7 238.8,1024.9 239.8,1032.7 241.0,1035.1 242.2,1029.9 243.2,1024.7 244.2,1031.9 245.4,1035.2 246.6,1030.1 247.6,1025.0 248.6,1032.1 249.8,1034.2 251.0,1028.6 252.0,1022.9 253.0,1030.6 251.3,1034.0 251.8,981.5 252.4,1030.0 252.9,1004.7 253.5,1035.0 254.2,1013.9 254.9,1034.0 255.6,1017.8 256.3,1036.0 256.9,1036.2 258.1,1029.4 259.1,1022.6 260.1,1031.4 261.3,1037.1 262.5,1021.9 263.5,1006.7 264.5,1023.9 265.8,1034.0 266.3,978.9 266.9,1030.0 267.4,1012.2 268.0,1035.0 268.7,1008.0 269.4,1034.0 270.1,1019.6 270.8,1036.0 271.4,1035.6 272.6,1029.3 273.6,1023.1 274.6,1031.3 275.8,1035.7 277.0,1023.8 278.0,1011.9 279.0,1025.8 280.2,1034.5 281.4,1027.7 282.4,1020.8 283.4,1029.7 284.6,1034.3 285.8,1026.2 286.8,1018.1 287.8,1028.2 286.1,1034.0 286.6,975.4 287.2,1030.0 287.7,1006.2 288.3,1035.0 289.0,1016.3 289.7,1034.0 290.4,1014.1 291.1,1036.0 291.7,1034.5 292.9,1029.4 293.9,1024.2 294.9,1031.4 296.1,1035.0 297.3,1021.7 298.3,1008.5 299.3,1023.7 300.5,1035.8 301.7,1029.7 302.7,1023.7 303.7,1031.7 304.9,1034.3 306.1,1027.2 307.1,1020.0 308.1,1029.2 306.4,1034.0 306.9,984.8 307.5,1030.0 308.0,1014.5 308.6,1035.0 309.3,1009.6 310.0,1034.0 310.7,1013.1 311.4,1036.0 312.0,1034.7 313.2,1019.8 314.2,1004.9 315.2,1021.8 316.4,1035.6 317.6,1029.1 318.6,1022.5 319.6,1031.1 317.3,1034.0 317.8,989.8 318.4,1030.0 318.9,1004.7 319.5,1035.0 320.2,1013.7 320.9,1034.0 321.6,1014.5 322.3,1036.0 322.9,1034.3 324.1,1022.2 325.1,1010.0 326.1,1024.2 327.3,1035.8 328.5,1027.0 329.5,1018.3 330.5,1029.0 331.7,1034.3 332.9,1026.9 333.9,1019.5 334.9,1028.9 336.1,1034.7 337.3,1028.5 338.3,1022.3 339.3,1030.5 340.7,1034.0 341.2,985.5 341.8,1030.0 342.3,1005.2 342.9,1035.0 343.6,1007.9 344.3,1034.0 345.0,1021.9 345.7,1036.0 346.3,1035.6 347.5,1021.9 348.5,1008.3 349.5,1023.9 350.7,1034.0 351.9,1026.2 352.9,1018.3 353.9,1028.2 355.1,1037.1 356.3,1021.8 357.3,1006.6 358.3,1023.8 359.5,1036.1 360.7,1027.2 361.7,1018.2 362.7,1029.2 363.9,1034.7 365.1,1027.2 366.1,1019.7 367.1,1029.2 368.3,1035.3 369.5,1028.5 370.5,1021.6 371.5,1030.5 370.5,1034.0 371.0,991.6 371.6,1030.0 372.1,1009.7 372.7,1035.0 373.4,1018.7 374.1,1034.0 374.8,1018.1 375.5,1036.0 376.1,1035.5 377.3,1029.8 378.3,1024.0 379.3,1031.8 380.5,1034.2 381.7,1026.8 382.7,1019.3 383.7,1028.8 384.9,1035.1 386.1,1026.8 387.1,1018.6 388.1,1028.8 389.3,1034.4 390.5,1028.5 391.5,1022.6 392.5,1030.5 393.7,1035.9 394.9,1030.3 395.9,1024.8 396.9,1032.3 394.4,1034.0 394.9,981.5 395.5,1030.0 396.0,1015.4 396.6,1035.0 397.3,1013.4 398.0,1034.0 398.7,1017.3 399.4,1036.0 400.0,1035.4 401.2,1028.5 402.2,1021.6 403.2,1030.5 404.4,1035.7 405.6,1028.0 406.6,1020.3 407.6,1030.0 408.8,1036.0 410.0,1030.1 411.0,1024.3 412.0,1032.1 413.2,1036.2 414.4,1029.5 415.4,1022.8 416.4,1031.5 414.9,1034.0 415.4,984.8 416.0,1030.0 416.5,1008.8 417.1,1035.0 417.8,1013.3 418.5,1034.0 419.2,1016.7 419.9,1036.0 420.5,1037.4 421.7,1030.5 422.7,1023.7 423.7,1032.5 424.9,1035.0 426.1,1028.7 427.1,1022.5 428.1,1030.7 429.3,1035.4 430.5,1029.1 431.5,1022.9 432.5,1031.1 433.7,1035.5 434.9,1026.9 435.9,1018.3 436.9,1028.9 435.7,1034.0 436.2,977.9 436.8,1030.0 437.3,1012.3 437.9,1035.0 438.6,1018.3 439.3,1034.0 440.0,1022.4 440.7,1036.0 441.3,1035.6 442.5,1029.9 443.5,1024.2 444.5,1031.9 445.7,1035.9 446.9,1030.0 447.9,1024.0 448.9,1032.0 450.1,1035.7 451.3,1029.7 452.3,1023.8 453.3,1031.7 454.5,1037.0 455.7,1030.3 456.7,1023.7 457.7,1032.3 455.3,1034.0 455.8,978.9 456.4,1030.0 456.9,1006.5 457.5,1035.0 458.2,1006.7 458.9,1034.0 459.6,1016.0 460.3,1036.0 460.9,1037.3 462.1,1029.1 463.1,1020.9 464.1,1031.1 465.3,1036.6 466.5,1027.5 467.5,1018.5 468.5,1029.5 469.7,1034.4 470.9,1029.5 471.9,1024.6 472.9,1031.5 473.3,1034.0 473.8,977.9 474.4,1030.0 474.9,1013.1 475.5,1035.0 476.2,1017.1 476.9,1034.0 477.6,1021.1 478.3,1036.0 478.9,1036.4 480.1,1023.5 481.1,1010.6 482.1,1025.5 483.3,1034.1 484.5,1028.5 485.5,1022.9 486.5,1030.5 486.5,1034.0 487.0,991.1 487.6,1030.0 488.1,1015.5 488.7,1035.0 489.4,1013.7 490.1,1034.0 490.8,1014.9 491.5,1036.0 492.1,1036.8 493.3,1029.4 494.3,1022.1 495.3,1031.4 496.5,1036.6 497.7,1030.0 498.7,1023.5 499.7,1032.0 499.2,1034.0 499.7,976.4 500.3,1030.0 500.8,1013.5 501.4,1035.0 502.1,1009.5 502.8,1034.0 503.5,1018.5 504.2,1036.0 504.8,1035.9 506.0,1030.3 507.0,1024.6 508.0,1032.3 509.2,1037.0 510.4,1030.3 511.4,1023.7 512.4,1032.3 513.6,1035.0 514.8,1028.4 515.8,1021.8 516.8,1030.4 518.0,1035.9 519.2,1027.3 520.2,1018.8 521.2,1029.3 522.4,1036.0 523.6,1029.9 524.6,1023.8 525.6,1031.9 526.8,1034.1 528.0,1027.6 529.0,1021.0 530.0,1029.6 528.3,1034.0 528.8,981.0 529.4,1030.0 529.9,1009.2 530.5,1035.0 531.2,1009.6 531.9,1034.0 532.6,1020.0 533.3,1036.0 533.9,1035.3 535.1,1027.2 536.1,1019.1 537.1,1029.2 538.3,1035.7 539.5,1021.6 540.5,1007.6 541.5,1023.6 542.3,1034.0 542.8,986.0 543.4,1030.0 543.9,1013.0" fill="none" stroke="#2a2a2a" stroke-width="1.0" stroke-linejoin="round"/>
<polyline points="53.5,1197.4 54.0,1198.9 54.5,1200.3 55.0,1201.8 55.5,1203.3 56.0,1204.5 56.5,1204.7 57.0,1205.2 57.5,1205.9 58.0,1204.0 58.5,1201.2 59.0,1200.3 59.5,1197.3 60.0,1186.0 60.5,1172.9 61.0,1159.8 61.5,1154.3 62.0,1147.7 62.5,1141.8 63.0,1136.2 63.5,1134.1 64.0,1131.6 64.5,1131.0 65.0,1132.0 65.5,1133.3 66.0,1134.5 66.5,1135.0 67.0,1137.9 67.5,1137.7 68.0,1139.0 68.5,1140.6 69.0,1142.6 69.5,1144.3 70.0,1144.4 70.5,1145.2 71.0,1146.2 71.5,1146.8 72.0,1147.8 72.5,1148.2 73.0,1149.5 73.5,1150.3 74.0,1150.2 74.5,1152.1 75.0,1153.3 75.5,1154.5 76.0,1155.1 76.5,1156.0 77.0,1157.2 77.5,1160.9 78.0,1163.9 78.5,1167.4 79.0,1171.6 79.5,1174.4 80.0,1178.2 80.5,1182.5 81.0,1186.6 81.5,1190.9 82.0,1194.3 82.5,1198.1 83.0,1203.3 83.5,1208.3 84.0,1212.3 84.5,1217.4 85.0,1221.7 85.5,1222.9 86.0,1223.0 86.5,1222.2 87.0,1221.4 87.5,1217.7 88.0,1210.4 88.5,1201.5 89.0,1194.3 89.5,1185.9 90.0,1180.9 90.5,1172.9 91.0,1167.7 91.5,1160.1 92.0,1153.0 92.5,1145.7 93.0,1142.1 93.5,1140.6 94.0,1138.7 94.5,1139.0 95.0,1140.5 95.5,1141.9 96.0,1142.6 96.5,1144.6 97.0,1145.8 97.5,1147.4 98.0,1148.7 98.5,1149.8 99.0,1151.0 99.5,1152.4 100.0,1153.0 100.5,1153.2 101.0,1154.4 101.5,1155.2 102.0,1156.1 102.5,1157.8 103.0,1157.8 103.5,1159.0 104.0,1160.5 104.5,1161.3 105.0,1162.3 105.5,1163.8 106.0,1164.5 106.5,1166.1 107.0,1169.8 107.5,1173.3 108.0,1176.5 108.5,1179.9 109.0,1183.3 109.5,1184.3 110.0,1184.1 110.5,1185.0 111.0,1185.2 111.5,1185.4 112.0,1188.1 112.5,1194.0 113.0,1198.7 113.5,1203.1 114.0,1208.8 114.5,1209.8 115.0,1210.5 115.5,1209.5 116.0,1209.2 116.5,1206.2 117.0,1195.8 117.5,1184.5 118.0,1173.7 118.5,1167.1 119.0,1159.8 119.5,1152.4 120.0,1144.7 120.5,1138.3 121.0,1135.1 121.5,1133.5 122.0,1132.2 122.5,1133.2 123.0,1134.2 123.5,1135.6 124.0,1137.8 124.5,1138.1 125.0,1140.3 125.5,1141.2 126.0,1142.1 126.5,1144.1 127.0,1145.3 127.5,1146.2 128.0,1146.2 128.5,1147.7 129.0,1148.2 129.5,1149.1 130.0,1149.9 130.5,1150.8 131.0,1152.2 131.5,1152.8 132.0,1153.1 132.5,1155.3 133.0,1156.0 133.5,1157.2 134.0,1157.6 134.5,1160.5 135.0,1163.7 135.5,1167.8 136.0,1171.2 136.5,1174.9 137.0,1178.2 137.5,1181.8 138.0,1186.8 138.5,1190.6 139.0,1194.4 139.5,1198.4 140.0,1203.1 140.5,1207.7 141.0,1212.8 141.5,1218.1 142.0,1222.8 142.5,1223.7 143.0,1224.2 143.5,1222.6 144.0,1222.8 144.5,1218.2 145.0,1209.8 145.5,1200.7 146.0,1191.2 146.5,1183.7 147.0,1177.0 147.5,1169.3 148.0,1161.6 148.5,1155.4 149.0,1148.5 149.5,1143.6 150.0,1141.9 150.5,1140.2 151.0,1141.4 151.5,1141.9 152.0,1143.9 152.5,1144.7 153.0,1146.2 153.5,1147.2 154.0,1149.1 154.5,1150.0 155.0,1151.3 155.5,1152.7 156.0,1153.3 156.5,1154.6 157.0,1154.8 157.5,1156.1 158.0,1156.9 158.5,1157.7 159.0,1158.6 159.5,1159.2 160.0,1160.4 160.5,1161.3 161.0,1162.3 161.5,1163.4 162.0,1164.3 162.5,1165.6 163.0,1166.6 163.5,1168.3 164.0,1173.0 164.5,1175.8 165.0,1179.1 165.5,1183.0 166.0,1184.6 166.5,1185.5 167.0,1186.0 167.5,1186.1 168.0,1186.5 168.5,1186.6 169.0,1189.9 169.5,1194.7 170.0,1199.5 170.5,1203.8 171.0,1209.0 171.5,1210.9 172.0,1211.5 172.5,1210.8 173.0,1210.5 173.5,1210.2 174.0,1199.8 174.5,1188.8 175.0,1178.6 175.5,1172.0 176.0,1166.6 176.5,1160.6 177.0,1153.5 177.5,1146.5 178.0,1140.8 178.5,1138.3 179.0,1135.8 179.5,1136.3 180.0,1137.3 180.5,1138.6 181.0,1140.1 181.5,1142.5 182.0,1143.8 182.5,1144.2 183.0,1146.5 183.5,1148.4 184.0,1149.5 184.5,1150.2 185.0,1151.3 185.5,1152.2 186.0,1153.2 186.5,1154.5 187.0,1155.2 187.5,1156.2 188.0,1157.5 188.5,1158.9 189.0,1159.8 189.5,1161.3 190.0,1163.1 190.5,1167.3 191.0,1170.2 191.5,1176.0 192.0,1179.0 192.5,1181.1 193.0,1180.6 193.5,1181.6 194.0,1181.6 194.5,1181.7 195.0,1187.0 195.5,1192.9 196.0,1199.1 196.5,1204.5 197.0,1206.0 197.5,1206.4 198.0,1205.4 198.5,1205.3 199.0,1203.4 199.5,1196.4 200.0,1189.2 200.5,1182.7 201.0,1175.9 201.5,1170.6 202.0,1167.5 202.5,1163.9 203.0,1161.6 203.5,1158.4 204.0,1152.8 204.5,1145.4 205.0,1138.4 205.5,1135.7 206.0,1133.3 206.5,1132.5 207.0,1133.3 207.5,1134.4 208.0,1135.4 208.5,1136.9 209.0,1138.5 209.5,1139.7 210.0,1140.4 210.5,1142.5 211.0,1143.9 211.5,1145.6 212.0,1145.5 212.5,1146.7 213.0,1148.4 213.5,1147.9 214.0,1149.5 214.5,1150.2 215.0,1150.7 215.5,1152.3 216.0,1153.1 216.5,1153.6 217.0,1155.5 217.5,1156.4 218.0,1158.4 218.5,1159.8 219.0,1163.1 219.5,1167.2 220.0,1171.5 220.5,1174.1 221.0,1177.4 221.5,1180.1 222.0,1182.5 222.5,1184.9 223.0,1186.7 223.5,1189.9 224.0,1194.6 224.5,1199.8 225.0,1205.5 225.5,1210.1 226.0,1213.4 226.5,1214.3 227.0,1213.8 227.5,1213.2 228.0,1212.7 228.5,1206.2 229.0,1197.6 229.5,1190.4 230.0,1181.9 230.5,1176.1 231.0,1171.0 231.5,1165.4 232.0,1160.5 232.5,1153.7 233.0,1146.4 233.5,1140.6 234.0,1138.1 234.5,1136.2 235.0,1135.8 235.5,1136.6 236.0,1137.0 236.5,1138.0 237.0,1139.5 237.5,1140.7 238.0,1141.7 238.5,1143.2 239.0,1144.7 239.5,1145.8 240.0,1147.4 240.5,1148.2 241.0,1148.9 241.5,1150.0 242.0,1150.3 242.5,1151.2 243.0,1152.5 243.5,1153.1 244.0,1153.0 244.5,1154.3 245.0,1155.8 245.5,1156.5 246.0,1157.8 246.5,1157.9 247.0,1159.6 247.5,1159.8 248.0,1161.9 248.5,1164.6 249.0,1168.9 249.5,1171.5 250.0,1175.1 250.5,1178.6 251.0,1181.8 251.5,1184.7 252.0,1188.8 252.5,1191.7 253.0,1196.1 253.5,1198.6 254.0,1203.1 254.5,1207.4 255.0,1212.7 255.5,1217.1 256.0,1221.3 256.5,1223.4 257.0,1223.6 257.5,1222.9 258.0,1223.1 258.5,1221.7 259.0,1210.6 259.5,1198.9 260.0,1188.2 260.5,1179.6 261.0,1170.6 261.5,1162.2 262.0,1155.7 262.5,1148.2 263.0,1144.7 263.5,1142.7 264.0,1142.5 264.5,1143.3 265.0,1144.4 265.5,1146.1 266.0,1147.0 266.5,1148.4 267.0,1150.2 267.5,1151.7 268.0,1152.4 268.5,1154.4 269.0,1154.5 269.5,1156.5 270.0,1157.0 270.5,1157.3 271.0,1158.3 271.5,1159.3 272.0,1160.6 272.5,1161.3 273.0,1161.9 273.5,1162.6 274.0,1163.9 274.5,1164.6 275.0,1166.0 275.5,1166.9 276.0,1168.2 276.5,1170.2 277.0,1173.5 277.5,1176.6 278.0,1181.1 278.5,1184.3 279.0,1187.2 279.5,1186.5 280.0,1186.4 280.5,1186.1 281.0,1186.4 281.5,1185.2 282.0,1189.4 282.5,1194.0 283.0,1199.1 283.5,1203.5 284.0,1208.0 284.5,1210.2 285.0,1210.2 285.5,1209.9 286.0,1209.3 286.5,1205.3 287.0,1192.4 287.5,1179.1 288.0,1169.2 288.5,1160.2 289.0,1152.6 289.5,1145.0 290.0,1139.2 290.5,1136.2 291.0,1133.7 291.5,1133.7 292.0,1134.3 292.5,1135.8 293.0,1137.3 293.5,1138.7 294.0,1140.8 294.5,1141.5 295.0,1143.0 295.5,1143.8 296.0,1145.6 296.5,1146.8 297.0,1147.8 297.5,1148.4 298.0,1149.5 298.5,1149.9 299.0,1151.5 299.5,1152.3 300.0,1152.4 300.5,1153.3 301.0,1154.7 301.5,1156.2 302.0,1156.9 302.5,1158.5 303.0,1159.8 303.5,1162.2 304.0,1165.9 304.5,1168.7 305.0,1172.2 305.5,1176.8 306.0,1179.3 306.5,1181.8 307.0,1184.2 307.5,1186.9 308.0,1189.8 308.5,1192.4 309.0,1197.5 309.5,1203.5 310.0,1208.4 310.5,1212.8 311.0,1214.7 311.5,1216.4 312.0,1215.9 312.5,1215.7 313.0,1214.6 313.5,1207.0 314.0,1199.1 314.5,1191.7 315.0,1183.9 315.5,1177.8 316.0,1171.4 316.5,1165.4 317.0,1159.0 317.5,1151.9 318.0,1144.9 318.5,1138.0 319.0,1134.3 319.5,1131.0 320.0,1130.9 320.5,1131.2 321.0,1132.6 321.5,1133.3 322.0,1134.4 322.5,1136.3 323.0,1136.8 323.5,1138.9 324.0,1139.6 324.5,1141.3 325.0,1141.8 325.5,1143.4 326.0,1144.0 326.5,1145.6 327.0,1145.5 327.5,1146.5 328.0,1147.1 328.5,1148.2 329.0,1149.0 329.5,1150.2 330.0,1151.0 330.5,1151.2 331.0,1153.5 331.5,1153.9 332.0,1155.3 332.5,1155.9 333.0,1157.3 333.5,1160.1 334.0,1163.5 334.5,1166.9 335.0,1170.1 335.5,1173.9 336.0,1177.7 336.5,1181.9 337.0,1186.3 337.5,1190.4 338.0,1194.3 338.5,1198.6 339.0,1202.9 339.5,1207.7 340.0,1211.9 340.5,1215.9 341.0,1220.8 341.5,1222.7 342.0,1223.7 342.5,1223.2 343.0,1222.7 343.5,1222.2 344.0,1212.6 344.5,1203.7 345.0,1195.0 345.5,1186.3 346.0,1178.5 346.5,1170.0 347.0,1162.8 347.5,1154.5 348.0,1146.9 348.5,1141.9 349.0,1139.0 349.5,1137.2 350.0,1137.8 350.5,1138.1 351.0,1139.9 351.5,1141.6 352.0,1142.5 352.5,1144.0 353.0,1145.3 353.5,1146.7 354.0,1147.9 354.5,1149.7 355.0,1150.3 355.5,1151.6 356.0,1152.8 356.5,1153.6 357.0,1154.3 357.5,1155.4 358.0,1156.1 358.5,1156.5 359.0,1158.0 359.5,1159.2 360.0,1160.0 360.5,1161.5 361.0,1162.1 361.5,1163.7 362.0,1166.5 362.5,1170.1 363.0,1173.6 363.5,1177.5 364.0,1180.8 364.5,1184.7 365.0,1188.9 365.5,1192.9 366.0,1196.6 366.5,1200.1 367.0,1204.8 367.5,1209.5 368.0,1214.9 368.5,1219.8 369.0,1224.7 369.5,1226.5 370.0,1226.7 370.5,1226.2 371.0,1225.3 371.5,1224.1 372.0,1216.2 372.5,1208.2 373.0,1201.1 373.5,1193.3 374.0,1187.2 374.5,1181.8 375.0,1176.9 375.5,1171.0 376.0,1164.6 376.5,1157.0 377.0,1150.1 377.5,1147.6 378.0,1145.1 378.5,1144.5 379.0,1145.6 379.5,1146.4 380.0,1147.2 380.5,1149.3 381.0,1149.8 381.5,1151.1 382.0,1152.6 382.5,1154.1 383.0,1155.3 383.5,1156.0 384.0,1157.2 384.5,1158.5 385.0,1159.1 385.5,1159.8 386.0,1160.0 386.5,1161.4 387.0,1162.2 387.5,1162.6 388.0,1163.1 388.5,1164.8 389.0,1166.1 389.5,1166.4 390.0,1167.8 390.5,1169.5 391.0,1170.6 391.5,1171.6 392.0,1174.2 392.5,1178.5 393.0,1182.1 393.5,1186.1 394.0,1189.0 394.5,1191.3 395.0,1193.2 395.5,1195.1 396.0,1197.7 396.5,1200.0 397.0,1202.8 397.5,1207.9 398.0,1212.3 398.5,1216.1 399.0,1221.3 399.5,1225.8 400.0,1226.9 400.5,1227.3 401.0,1225.7 401.5,1225.6 402.0,1220.8 402.5,1210.3 403.0,1200.0 403.5,1190.1 404.0,1183.7 404.5,1177.8 405.0,1170.9 405.5,1163.5 406.0,1156.8 406.5,1152.8 407.0,1150.6 407.5,1148.9 408.0,1149.7 408.5,1150.7 409.0,1152.2 409.5,1153.8 410.0,1155.4 410.5,1157.4 411.0,1158.0 411.5,1159.4 412.0,1161.5 412.5,1162.9 413.0,1163.9 413.5,1163.9 414.0,1165.3 414.5,1165.4 415.0,1166.9 415.5,1167.4 416.0,1168.5 416.5,1169.3 417.0,1171.4 417.5,1172.5 418.0,1173.5 418.5,1174.2 419.0,1176.3 419.5,1179.6 420.0,1183.0 420.5,1187.3 421.0,1190.9 421.5,1193.8 422.0,1192.3 422.5,1190.6 423.0,1188.7 423.5,1186.6 424.0,1185.7 424.5,1191.6 425.0,1196.6 425.5,1202.3 426.0,1206.9 426.5,1209.5 427.0,1210.3 427.5,1210.4 428.0,1209.1 428.5,1208.4 429.0,1200.6 429.5,1192.9 430.0,1185.3 430.5,1175.9 431.0,1172.5 431.5,1167.1 432.0,1164.1 432.5,1160.0 433.0,1152.6 433.5,1144.1 434.0,1139.2 434.5,1137.6 435.0,1134.7 435.5,1135.7 436.0,1136.2 436.5,1137.4 437.0,1138.8 437.5,1139.8 438.0,1141.7 438.5,1143.6 439.0,1143.7 439.5,1145.1 440.0,1146.5 440.5,1147.6 441.0,1148.8 441.5,1149.8 442.0,1150.6 442.5,1151.3 443.0,1151.7 443.5,1152.9 444.0,1153.4 444.5,1154.6 445.0,1155.9 445.5,1156.9 446.0,1158.4 446.5,1159.1 447.0,1160.5 447.5,1162.3 448.0,1164.6 448.5,1167.4 449.0,1171.1 449.5,1175.0 450.0,1178.9 450.5,1180.7 451.0,1182.7 451.5,1184.1 452.0,1185.9 452.5,1187.6 453.0,1191.1 453.5,1195.6 454.0,1199.7 454.5,1205.0 455.0,1210.5 455.5,1212.7 456.0,1214.7 456.5,1213.4 457.0,1212.7 457.5,1211.9 458.0,1203.6 458.5,1193.2 459.0,1183.2 459.5,1175.3 460.0,1168.1 460.5,1161.7 461.0,1153.9 461.5,1147.1 462.0,1140.9 462.5,1138.2 463.0,1135.4 463.5,1136.1 464.0,1137.1 464.5,1138.2 465.0,1139.5 465.5,1141.4 466.0,1142.2 466.5,1144.0 467.0,1144.7 467.5,1146.8 468.0,1148.3 468.5,1149.9 469.0,1150.5 469.5,1151.4 470.0,1151.5 470.5,1152.6 471.0,1153.7 471.5,1154.1 472.0,1155.4 472.5,1157.0 473.0,1157.9 473.5,1158.8 474.0,1161.0 474.5,1161.7 475.0,1163.7 475.5,1167.1 476.0,1171.8 476.5,1175.2 477.0,1179.0 477.5,1180.9 478.0,1182.9 478.5,1183.1 479.0,1184.7 479.5,1186.6 480.0,1190.4 480.5,1195.9 481.0,1201.0 481.5,1206.7 482.0,1210.1 482.5,1211.3 483.0,1211.2 483.5,1210.5 484.0,1210.2 484.5,1206.5 485.0,1200.7 485.5,1195.0 486.0,1190.6 486.5,1184.1 487.0,1178.9 487.5,1174.3 488.0,1171.1 488.5,1168.3 489.0,1165.5 489.5,1162.2 490.0,1158.2 490.5,1153.2 491.0,1146.4 491.5,1139.3 492.0,1135.1 492.5,1132.7 493.0,1132.3 493.5,1132.3 494.0,1133.7 494.5,1134.7 495.0,1136.7 495.5,1137.6 496.0,1139.8 496.5,1140.8 497.0,1142.3 497.5,1144.1 498.0,1145.7 498.5,1146.3 499.0,1147.1 499.5,1148.3 500.0,1148.7 500.5,1150.2 501.0,1150.3 501.5,1152.5 502.0,1153.2 502.5,1154.3 503.0,1154.6 503.5,1156.7 504.0,1157.9 504.5,1161.0 505.0,1164.3 505.5,1169.3 506.0,1172.6 506.5,1176.7 507.0,1180.8 507.5,1186.3 508.0,1189.7 508.5,1194.4 509.0,1199.2 509.5,1205.3 510.0,1210.1 510.5,1215.5 511.0,1221.2 511.5,1222.6 512.0,1223.3 512.5,1222.5 513.0,1221.4 513.5,1220.0 514.0,1213.2 514.5,1206.0 515.0,1199.7 515.5,1193.0 516.0,1185.4 516.5,1180.9 517.0,1175.4 517.5,1170.3 518.0,1164.5 518.5,1158.2 519.0,1150.7 519.5,1142.7 520.0,1140.3 520.5,1137.8 521.0,1137.7 521.5,1138.2 522.0,1139.0 522.5,1140.8 523.0,1142.4 523.5,1143.2 524.0,1144.3 524.5,1145.6 525.0,1147.1 525.5,1148.5 526.0,1149.8 526.5,1150.9 527.0,1151.5 527.5,1151.6 528.0,1153.5 528.5,1155.0 529.0,1154.4 529.5,1155.1 530.0,1156.8 530.5,1157.8 531.0,1158.4 531.5,1160.1 532.0,1161.1 532.5,1161.9 533.0,1163.5 533.5,1163.0 534.0,1166.8 534.5,1169.4 535.0,1173.1 535.5,1176.7 536.0,1180.1 536.5,1182.6 537.0,1184.8 537.5,1185.4 538.0,1186.5 538.5,1187.7 539.0,1189.2 539.5,1193.0 540.0,1199.0 540.5,1202.7 541.0,1208.4 541.5,1211.9 542.0,1213.4" fill="none" stroke="#1a1a1a" stroke-width="1.45" stroke-linejoin="round"/>
<polyline points="682.5,220.7 682.9,223.9 683.3,220.9 683.7,222.6 684.1,220.1 684.5,223.3 684.9,221.0 685.3,222.8 685.7,221.3 686.1,222.8 686.5,220.8 686.9,223.5 687.3,220.6 687.7,223.5 688.1,219.9 688.5,223.9 688.9,220.6 689.3,221.9 689.7,220.7 690.1,222.7 690.5,220.9 690.9,223.0 691.3,220.6 691.7,222.8 692.1,219.8 692.5,222.6 692.9,220.9 693.3,223.5 693.7,221.1 694.1,223.8 694.5,220.5 694.9,222.0 695.3,220.1 695.7,221.9 696.1,219.6 696.5,223.4 696.9,220.6 697.3,221.8 697.7,220.2 698.1,222.7 698.5,219.8 698.9,223.1 699.3,220.6 699.7,223.2 700.1,220.4 700.5,222.0 700.9,219.7 701.3,222.5 701.7,220.5 702.1,222.8 702.5,220.9 702.9,222.6 703.3,219.5 703.7,223.1 704.1,220.4 704.5,223.4 704.9,219.8 705.3,223.8 705.7,220.3 706.1,223.8 706.5,220.8 706.9,223.0 707.3,220.5 707.7,223.4 708.1,220.3 708.5,222.8 708.9,221.1 709.3,223.1 709.7,221.4 710.1,222.8 710.5,219.9 710.9,222.6 711.3,220.8 711.7,223.7 712.1,221.5 712.5,222.8 712.9,220.1 713.3,222.9 713.7,220.8 714.1,222.8 714.5,220.4 714.9,223.1 715.3,219.6 715.7,223.7 716.1,219.9 716.5,224.0 716.9,220.0 717.3,223.9 717.7,220.2 718.1,223.2 718.5,220.3 718.9,223.1 719.3,220.5 719.7,222.7 720.1,220.5 720.5,223.9 720.9,220.1 721.3,222.8 721.7,220.4 722.1,223.9 722.5,220.0 722.9,223.4 723.0,218.6 723.4,221.5 723.8,218.9 724.2,222.5 724.6,218.4 725.0,222.3 725.4,218.0 725.8,220.5 726.2,216.4 726.6,219.3 727.0,215.8 727.4,219.1 727.8,215.3 728.2,218.2 728.6,214.6 729.0,218.1 729.4,216.1 729.8,219.1 730.2,215.9 730.6,218.1 731.0,214.4 731.4,217.1 731.8,215.0 732.2,218.7 732.6,215.2 733.0,217.8 733.2,214.5 733.5,212.3 733.8,214.5 733.8,217.3 734.2,214.7 734.6,218.3 735.0,216.6 735.4,220.1 735.8,215.8 736.0,220.3 736.4,223.0 736.8,222.3 737.2,225.6 737.6,220.6 738.0,224.2 738.4,221.5 738.8,223.4 739.2,220.7 739.6,222.9 740.0,219.9 740.4,224.8 740.8,220.2 741.2,225.1 741.6,220.0 742.0,218.7 742.5,222.4 742.9,218.8 743.4,221.5 743.8,219.9 744.3,221.5 744.7,219.9 745.2,222.1 745.6,219.0 746.1,222.5 746.5,220.0 747.0,221.5 747.4,219.2 747.9,222.0 748.3,219.7 748.8,221.7 749.2,219.8 749.7,221.7 750.1,218.9 750.6,222.1 751.0,219.8 751.5,221.6 751.9,218.5 752.4,221.6 752.8,218.9 753.3,222.7 753.7,219.2 754.2,221.4 754.6,219.1 755.1,221.7 755.5,219.5 756.0,221.6 756.4,219.2 756.9,221.5 757.3,219.6 757.8,220.9 758.2,219.9 758.7,222.4 759.1,218.9 759.6,221.6 760.0,218.6 760.5,220.8 760.9,218.8 761.4,220.9 761.8,218.7 762.3,221.5 762.7,219.2 763.2,222.3 763.6,218.8 764.1,221.3 764.5,220.5 765.0,221.9 765.4,218.6 765.9,221.5 766.3,220.7 766.8,221.7 767.2,218.7 767.7,221.7 768.1,219.6 768.6,221.9 769.0,220.5 769.5,222.8 769.9,220.1 770.4,221.1 770.8,220.4 771.3,222.2 771.7,220.7 772.2,221.8 772.6,219.6 773.1,221.7 773.5,218.7 774.0,221.9 774.4,219.8 774.9,221.8 775.3,219.5 775.8,220.9 776.2,219.1 776.7,221.9 777.1,218.9 777.6,222.0 778.0,220.1 778.5,222.3 778.9,219.8 779.4,221.7 779.8,218.5 780.3,221.7 780.7,219.6 781.2,221.6 781.2,219.4 781.5,213.8 781.8,219.4 782.4,222.5 782.9,220.5 783.4,222.6 783.9,222.2 784.4,222.9 784.9,221.4 785.4,222.1 785.9,223.5 786.4,224.5 786.9,223.5 787.4,223.7 787.9,224.1 788.4,224.1 788.9,224.1 789.4,224.1 789.9,224.0 790.4,223.9 790.9,223.9 791.4,223.8 791.9,222.4 792.4,223.7 792.9,221.9 793.4,220.6 793.9,223.3 794.4,221.5 794.9,219.8 795.4,220.2 795.9,221.7 796.4,220.7 796.9,222.2 797.4,220.7 797.9,222.2 798.4,220.5 798.9,222.8 799.4,222.1 799.9,221.5 800.4,221.7 800.7,221.9 801.0,224.5 801.3,221.9 801.4,222.1 801.9,220.1 802.4,221.5 802.9,221.8 803.4,222.1 803.9,222.2 804.4,220.4 804.9,222.0 805.4,220.7 805.9,221.7 806.4,220.9 806.9,222.4 807.4,221.4 807.9,221.5 808.4,220.3 808.9,221.3 809.4,222.3 809.9,222.2 810.4,220.8 810.9,222.0 811.4,220.9 811.9,220.5 812.4,222.1 812.9,222.7 813.4,221.5 813.9,220.4 814.4,223.0 814.9,221.6 815.4,221.4 815.9,222.2 816.4,221.3 816.9,219.9 817.4,220.9 817.9,221.4 818.4,222.3 818.9,221.1 819.4,221.1 819.9,220.7 820.4,220.6 820.9,221.5 821.4,221.7 821.9,220.6 822.4,221.9 822.9,220.6 823.4,222.2 823.9,220.0 824.4,219.5 824.9,220.7 825.4,222.7 825.9,221.5 826.4,222.8 826.9,221.0 827.4,221.1 827.9,221.1 828.4,222.0 828.9,222.3 829.4,223.3 829.7,220.8 830.0,224.2 830.3,220.8 830.4,223.1 830.9,221.2 831.4,221.4 831.9,221.1 832.4,220.4 832.9,222.3 833.4,221.0 833.9,221.4 834.4,221.2 834.9,219.5 835.4,222.2 835.9,220.9 836.4,221.5 836.9,221.9 837.4,221.0 837.9,221.3 838.4,221.5 838.9,222.6 839.4,221.7 839.9,221.2 840.4,221.3 840.9,222.1 841.4,221.8 841.9,223.3 842.4,221.1 842.9,219.8 843.4,220.3 843.9,221.4 844.4,221.1 844.9,222.2 845.4,220.3 845.9,221.4 846.4,222.0 846.9,220.1 847.4,222.1 847.9,221.7 848.4,221.2 848.9,220.9 849.4,221.1 849.9,222.8 850.4,221.5 850.9,223.1 851.4,220.9 851.9,220.1 852.4,221.2 852.9,221.9 853.4,221.0 853.9,223.0 854.4,221.6 854.9,220.5 855.4,221.5 855.9,220.1 856.4,221.2 856.9,220.9 857.4,220.6 857.9,222.0 858.4,220.4 858.9,220.3 859.4,220.2 859.7,221.8 860.0,223.5 860.3,221.8 860.4,220.4 860.9,220.9 861.4,222.2 861.9,221.8 862.4,220.2 862.9,220.6 863.4,220.3 863.9,221.5 864.4,219.6 864.9,219.3 865.4,220.6 865.9,218.3 866.4,221.0 866.9,221.2 867.4,220.6 867.9,219.1 868.4,221.9 868.9,220.6 869.4,220.2 869.9,218.8 870.4,221.7 870.9,221.3 871.4,220.2 871.9,221.3 872.4,221.0 872.9,220.8 873.4,220.9 873.9,220.4 874.4,219.1 874.9,221.0 875.4,219.6 875.9,219.8 876.4,219.1 876.9,220.0 877.4,220.1 877.9,219.9 878.4,220.8 878.9,221.1 879.4,220.9 879.9,219.2 880.4,219.8 880.9,220.3 881.4,219.9 881.9,221.8 882.4,220.7 882.9,220.9 883.4,222.2 883.9,219.4 884.4,219.6 884.9,219.7 885.4,221.1 885.9,220.5 886.4,220.2 886.9,221.1 887.4,220.3 887.9,220.5 888.4,219.2 888.9,220.7 889.4,221.0 889.7,220.4 890.0,216.0 890.3,220.4 890.4,219.3 890.9,220.6 891.4,219.7 891.9,220.4 892.4,221.6 892.9,220.0 893.4,220.1 893.9,221.5 894.4,218.3 894.9,219.2 895.4,218.8 895.9,219.5 896.4,220.3 896.9,220.6 897.4,219.9 897.9,219.8 898.4,218.8 898.9,219.9 899.4,220.1 899.9,219.6 900.4,220.3 900.9,220.8 901.4,220.0 901.9,221.2 902.4,219.3 902.9,219.7 903.4,219.2 903.9,219.7 904.4,218.0 904.9,219.6 905.4,219.1 905.9,220.6 906.4,220.4 906.9,218.9 907.4,221.1 907.9,220.0 908.4,219.6 908.9,219.4 909.4,220.0 909.9,218.9 910.4,219.4 910.9,219.9 911.4,219.4 911.9,218.7 912.4,220.3 912.9,218.5 913.4,219.4 913.9,218.4 914.4,219.6 914.9,219.1 915.4,219.9 915.9,221.3 916.4,219.3 916.9,220.5 917.4,220.1 917.9,219.3 918.4,218.6 918.9,220.8 919.4,219.5 919.9,219.4 920.4,220.2 920.9,221.2 921.4,219.5 921.9,218.4 922.4,218.9 922.9,220.4 923.4,220.9 923.9,218.5 924.4,220.3 924.9,219.2 925.4,218.7 925.9,219.4 926.4,219.8 926.9,219.0 927.4,219.4 927.9,219.9 928.4,221.4 928.9,220.9 929.4,219.0 929.7,218.8 930.0,216.5 930.3,218.8 930.4,221.4 930.9,218.7 931.4,219.0 931.9,219.8 932.4,219.9 932.9,219.2 933.4,217.5 933.9,218.2 934.4,219.2 934.9,219.4 935.4,219.7 935.9,219.8 936.4,218.2 936.9,220.2 937.4,219.0 937.9,219.0 938.4,219.3 938.9,218.4 939.4,218.3 939.9,219.5 940.4,219.2 940.9,219.8 941.4,220.7 941.9,220.8 942.4,220.0 942.9,219.7 943.4,219.5 943.9,220.3 944.4,220.6 944.9,218.1 945.4,219.0 945.9,219.1 946.4,218.8 946.9,218.1 947.4,220.5 947.9,219.8 948.4,218.1 948.9,219.5 949.4,219.5 949.9,220.5 950.4,218.8 950.9,218.2 951.4,219.2 951.9,220.6 952.4,218.9 952.9,219.2 953.4,218.9 953.9,218.6 954.4,219.4 954.9,220.6 955.4,219.4 955.9,219.2 956.4,219.8 956.7,221.7 957.0,216.2 957.3,221.7 957.4,220.0 957.9,220.2 958.4,219.0 958.9,220.5 959.4,219.2 959.9,218.5 960.4,219.9 960.9,218.3 961.4,219.4 961.9,218.5 962.4,220.3 962.9,219.8 963.4,219.4 963.9,218.2 964.4,220.0 964.9,217.9 965.4,218.0 965.9,219.1 966.4,218.1 966.9,220.1 967.4,217.5 967.9,220.0 968.4,219.1 968.9,219.8 969.4,217.0 969.9,218.8 970.4,219.8 970.9,218.6 971.4,219.2 971.9,218.4 972.4,217.9 972.9,219.4 973.4,217.6 973.9,219.9 974.4,218.6 974.9,217.9 975.4,219.4 975.9,218.1 976.4,219.4 976.9,219.6 977.4,219.3 977.9,217.5 978.4,220.4 978.9,219.0 979.4,217.9 979.9,219.5 980.4,218.2 980.9,219.1 981.4,217.5 981.9,218.8 982.4,218.9 982.9,218.5 983.4,219.0 983.9,218.5 984.4,219.8 984.9,217.2 985.4,219.0 985.9,219.2 986.4,219.3 986.7,217.9 987.0,217.0 987.3,217.9 987.4,217.7 987.9,216.7 988.4,218.1 988.9,217.8 989.4,219.3 989.9,219.0 990.4,219.3 990.9,217.6 991.4,219.5 991.9,217.2 992.4,217.6 992.9,218.9 993.4,216.9 993.9,217.7 994.4,219.3 994.9,217.9 995.4,218.6 995.9,219.7 996.4,219.0 996.9,217.0 997.4,218.8 997.9,218.8 998.4,218.4 998.9,217.7 999.4,220.7 999.9,220.3 1000.4,218.8 1000.9,217.4 1001.4,218.7 1001.9,216.9 1002.4,218.5 1002.9,218.1 1003.6,219.0 1003.9,195.2 1004.0,194.9 1005.0,195.0 1006.0,195.1 1007.0,194.5 1008.0,195.8 1009.0,194.8 1010.0,195.6 1011.0,195.3 1012.0,195.1 1013.0,195.2 1014.0,195.0 1015.0,195.0 1016.0,195.0 1017.0,196.0 1018.0,195.1 1019.0,195.4 1020.0,195.6 1021.0,195.6 1022.0,195.2 1023.0,195.6 1024.0,195.0 1025.0,194.9 1026.0,195.5 1027.0,195.1 1028.0,195.2 1029.0,195.5 1030.0,195.2 1031.0,195.3 1032.0,195.3 1033.0,195.4 1034.0,195.8 1035.0,195.7 1036.0,195.6 1037.0,194.9 1038.0,195.4 1039.0,195.6 1040.0,195.2 1041.0,195.2 1042.0,195.3 1043.0,195.1 1044.0,195.3 1045.0,195.3 1046.0,195.6 1047.0,195.2 1048.0,195.5 1049.0,195.4 1050.0,195.0 1051.0,195.8 1052.0,195.5 1053.0,195.3 1054.0,195.1 1055.0,195.6 1056.0,195.4 1057.0,195.4 1058.0,195.3 1059.0,195.0 1060.0,195.2 1061.0,195.2 1062.0,195.8 1063.0,195.2 1064.0,195.2 1065.0,195.8 1066.0,195.7 1067.0,195.2 1068.0,195.4 1069.0,195.9 1070.0,195.1 1071.0,195.1 1072.0,195.1 1073.0,194.8 1074.0,194.7 1075.0,195.2 1076.0,195.0 1077.0,195.7 1078.0,195.2 1079.0,195.3 1080.0,195.3 1081.0,195.0 1082.0,195.3 1083.0,195.5 1084.0,195.3 1085.0,195.4 1086.0,195.7 1087.0,195.1 1088.0,195.4 1089.0,195.3 1090.0,195.4 1091.0,195.2 1092.0,195.3 1093.0,195.1 1094.0,195.6 1095.0,195.1 1096.0,194.9 1097.0,195.2 1098.0,195.6 1099.0,194.8 1100.0,194.8 1101.0,195.0 1102.0,195.0 1103.0,195.1 1104.0,195.1 1105.0,195.6 1106.0,195.0 1107.0,194.9 1108.0,194.8 1109.0,195.1 1110.0,195.6 1111.0,194.9 1112.0,195.0 1113.0,195.4 1114.0,195.4 1115.0,195.7 1116.0,195.0 1117.0,195.3 1118.0,195.7 1119.0,195.1 1120.0,195.7 1121.0,195.0 1122.0,195.2 1123.0,195.1 1124.0,195.1 1125.0,195.0 1126.0,195.5 1127.0,195.3 1128.0,195.4 1129.0,195.0 1130.0,195.3 1131.0,194.7 1132.0,195.4 1133.0,195.9 1134.0,195.0 1135.0,195.1 1136.0,194.8 1137.0,195.1 1138.0,195.4 1139.0,195.2 1140.0,196.0 1141.0,195.2 1142.0,195.0 1143.0,195.0 1144.0,195.5 1145.0,195.2 1146.0,195.2 1147.0,195.3 1148.0,195.0 1149.0,195.1 1150.0,195.1 1151.0,195.4 1152.0,195.4 1153.0,195.7 1154.0,195.5 1155.0,195.4 1156.0,195.0 1157.0,195.1 1158.0,195.2 1159.0,195.7 1160.0,194.8 1161.0,195.0 1162.0,195.2 1163.0,195.1 1164.0,195.3 1165.0,195.1 1166.0,195.4 1167.0,195.4 1168.0,194.9 1169.0,194.7 1170.0,195.0 1171.0,195.2 1172.0,195.3 1173.0,195.3 1174.0,194.6 1175.0,195.6 1176.0,195.0 1177.0,195.2 1178.0,195.0 1179.0,195.8 1180.0,195.1 1181.0,195.2 1182.0,195.0 1183.0,195.5 1184.0,195.3 1185.0,195.0 1186.0,195.2 1187.0,194.8 1188.0,195.1 1189.0,195.5 1190.0,195.7 1191.0,195.3 1192.0,195.2 1193.0,194.9 1194.0,195.2 1195.0,195.0 1196.0,195.1 1197.0,195.3 1198.0,195.4 1199.0,194.8 1200.0,195.3 1201.0,195.3 1202.0,195.2 1203.0,195.3 1204.0,194.8 1205.0,195.3 1206.0,194.9 1207.0,194.9 1208.0,195.2 1209.0,195.4 1210.0,194.9 1211.0,194.8 1212.0,195.8 1213.0,195.2 1214.0,195.3 1215.0,195.1 1216.0,195.3 1217.0,195.3 1218.0,195.4 1219.0,195.2 1220.0,195.2 1221.0,195.4 1222.0,195.5 1223.0,194.8 1224.0,195.0 1225.0,195.4 1226.0,195.1 1227.0,195.5 1228.0,195.2 1229.0,195.5 1230.0,195.2 1231.0,195.3 1232.0,195.1 1233.0,195.5 1234.0,195.6 1235.0,194.8 1236.0,195.0 1237.0,195.7 1238.0,195.2 1239.0,195.7 1240.0,195.5 1241.0,195.5 1242.0,195.0 1243.0,195.5 1244.0,195.4 1245.0,195.2 1246.0,195.5 1247.0,195.1 1248.0,194.7 1249.0,194.7 1250.0,195.0 1251.0,195.3 1252.0,194.8 1253.0,195.5 1254.0,195.5 1255.0,195.5 1256.0,195.1 1257.0,195.5 1258.0,195.2 1259.0,195.4 1260.0,195.2 1261.0,195.5 1262.0,195.5 1263.0,195.4 1264.0,194.9 1265.0,195.5 1266.0,196.0 1267.0,194.5 1268.0,195.9 1269.0,195.3 1270.0,194.8 1271.0,194.8 1272.0,195.3 1273.0,195.5 1274.0,195.0 1275.0,195.4 1276.0,195.9 1277.0,195.3 1278.0,195.0 1279.0,194.9 1280.0,195.1 1281.0,195.3 1282.0,195.1 1283.0,195.2 1284.0,195.4 1285.0,195.4 1286.0,195.1 1287.0,194.9 1288.0,195.0 1289.0,194.8 1290.0,195.3 1291.0,195.2 1292.0,195.1 1293.0,195.1 1294.0,195.2 1295.0,195.7 1296.0,195.6 1297.0,195.9 1298.0,195.0 1299.0,194.9 1300.0,195.6 1301.0,195.8 1302.0,195.2 1303.0,194.9 1304.0,195.0 1305.0,194.8 1306.0,195.1 1307.0,195.1 1308.0,194.7 1309.0,195.3 1310.0,194.9 1311.0,195.3 1312.0,195.3 1313.0,195.3 1314.0,195.4 1315.0,195.5 1316.0,195.2 1317.0,195.0 1318.0,195.5 1319.0,195.5 1320.0,194.9 1321.0,195.2 1322.0,195.1 1323.0,195.4 1324.0,195.2 1325.0,195.3 1326.0,195.4 1327.0,195.2 1328.0,195.6 1329.0,195.1 1329.8,204.0 1330.1,222.3 1330.4,208.0 1330.7,221.9 1331.0,208.8 1331.3,222.4 1331.6,208.4 1331.9,217.6 1332.2,204.5 1332.5,213.5 1332.8,208.8 1333.1,220.7 1333.4,206.9 1333.7,215.4 1334.0,205.4 1334.3,221.0 1334.6,203.3 1334.9,232.4 1335.2,232.8 1335.5,245.2 1335.8,229.9 1336.1,246.2 1336.4,234.6 1336.7,242.5 1337.0,230.2 1337.3,242.2 1337.6,233.1 1337.9,244.5 1338.2,229.8 1338.5,243.6 1338.8,231.9 1339.1,245.6 1339.4,233.9 1339.7,244.9 1340.0,233.5 1340.3,246.9 1340.6,232.9 1340.9,243.4 1341.2,229.7 1341.5,241.7 1341.8,230.6 1342.1,247.0 1342.4,233.9 1342.7,247.1 1343.0,228.2 1343.3,242.8 1343.6,228.9 1343.9,240.0 1344.2,233.1 1344.5,244.8 1344.6,229.6 1344.9,208.5 1345.2,229.6 1345.1,245.7 1345.4,233.6 1345.7,243.3 1346.0,231.9 1346.3,239.6 1346.6,234.1 1346.9,240.3 1347.2,232.8 1347.5,237.8 1347.8,228.8 1348.1,238.3 1348.4,228.9 1348.7,235.1 1349.0,228.9 1349.3,241.1 1349.6,224.8 1349.5,241.4 1349.8,205.6 1350.1,241.4 1350.2,223.1 1350.5,239.1 1350.8,221.8 1351.1,237.2 1351.4,227.3 1351.7,232.2 1352.0,223.0 1352.3,232.7 1352.6,223.9 1352.9,233.3 1353.2,226.6 1353.5,236.1 1353.8,224.5 1354.1,237.7 1354.4,225.1 1354.7,237.4 1355.0,223.8 1355.3,233.4 1355.6,226.0 1355.9,232.5 1356.2,220.3 1356.5,231.2 1356.8,221.8 1357.1,231.1 1357.4,224.0 1357.7,232.3 1358.0,216.5 1358.3,231.3 1358.6,216.1 1358.9,232.1 1359.2,220.1 1359.5,222.8 1359.8,205.2 1360.1,214.8 1360.4,206.8 1360.7,224.5 1361.0,207.6 1361.3,218.9 1361.6,207.5 1361.9,225.5 1362.2,211.6 1362.5,213.0 1362.8,207.8 1363.1,221.7 1363.4,211.7 1363.7,222.2 1363.7,204.6 1364.0,249.5 1364.3,204.6 1364.3,218.7 1364.6,207.1 1364.9,223.1 1365.2,202.2 1365.5,219.6 1365.8,202.7 1365.7,219.3 1366.0,196.0 1366.3,219.3 1366.4,206.7 1366.7,223.7 1367.0,211.1 1367.3,222.1 1367.6,215.0 1367.9,220.7 1368.2,214.5 1368.5,225.1 1368.8,208.4 1369.1,226.7 1369.4,208.4 1369.7,220.1 1370.0,210.8 1370.3,224.9 1370.6,213.1 1370.9,224.5 1371.2,206.5 1371.5,226.9 1371.8,209.2 1372.1,221.4 1372.4,211.5 1372.7,226.6 1373.0,208.6 1373.3,226.4 1373.6,210.8 1373.9,220.1 1374.2,204.0 1374.5,219.5 1374.8,208.6 1375.1,224.9 1375.4,214.5 1375.7,224.7 1376.0,206.8 1376.3,220.4 1376.6,212.1 1376.7,219.4 1377.0,196.5 1377.3,219.4 1377.2,206.3 1377.5,223.6 1377.8,208.4 1378.1,226.4 1378.4,211.0 1378.7,231.9 1379.0,214.5 1379.3,235.8 1379.6,221.1 1379.9,233.4 1380.2,218.8 1380.5,228.2 1380.8,213.2 1381.1,236.5 1381.4,220.8 1381.7,225.7 1382.0,215.9 1382.3,235.5 1382.6,214.3 1382.9,234.9 1383.2,219.9 1383.5,231.0 1383.8,217.0 1384.1,232.5 1384.4,219.9 1384.7,237.2 1385.0,220.0 1385.3,230.0 1385.6,216.0 1385.9,235.5 1386.2,222.5 1386.5,232.0 1386.8,221.7 1387.1,238.7 1387.4,219.5 1387.7,232.4 1388.0,218.1 1388.3,238.0 1388.6,218.0 1388.9,229.5 1389.2,220.6 1389.5,233.5 1389.8,218.9 1390.1,236.7 1390.4,224.1 1390.7,239.4 1391.0,222.8 1391.3,240.8 1391.6,221.8 1391.9,236.9 1392.2,218.4 1392.5,237.1 1392.8,221.2 1393.1,230.9 1393.4,215.6 1393.7,235.5 1394.0,219.5 1394.3,239.5 1394.6,221.9 1394.9,239.9 1395.2,225.3 1395.5,234.0 1395.8,218.5 1396.1,235.8 1396.4,225.1 1396.7,235.2 1397.0,218.8 1397.3,236.4 1397.6,222.0 1397.9,229.9 1398.2,222.3 1398.5,239.7 1398.8,221.1 1399.1,242.2 1399.4,228.2 1399.7,237.8 1400.0,227.3 1400.3,242.3 1400.6,217.7 1400.9,241.5 1401.2,219.6 1401.5,235.8 1401.8,215.0 1401.7,241.2 1402.0,250.5 1402.3,241.2 1402.4,223.8 1402.7,234.3 1403.0,223.1 1403.3,237.6 1403.6,222.0 1403.9,239.2 1404.2,221.6 1404.5,235.6 1404.8,222.1 1405.1,239.8 1405.4,222.2 1405.7,229.1 1406.0,222.1 1406.3,238.1 1406.6,217.7 1406.9,237.4 1407.2,224.7 1407.5,231.2 1407.8,219.6 1408.1,238.6 1408.4,219.4 1408.7,229.6 1409.0,214.2 1409.3,239.7 1409.6,220.2 1409.9,237.3 1410.2,218.6 1410.5,231.9 1410.8,219.9 1411.1,239.9 1411.4,213.5 1411.7,239.5 1412.0,221.5 1412.3,236.6 1412.6,221.1 1412.9,227.2 1413.2,215.1 1413.5,228.7 1413.8,213.8 1414.1,224.1 1414.4,215.1 1414.7,230.3 1415.0,210.0 1415.3,228.8 1415.6,213.3 1415.7,229.4 1416.0,243.0 1416.3,229.4 1416.2,213.0 1416.5,229.5 1416.8,212.2 1417.1,228.5 1417.4,214.7 1417.7,226.7 1418.0,210.4 1418.3,233.0 1418.6,215.9 1418.9,226.9 1419.2,215.2 1419.5,230.9 1419.8,220.1 1420.1,223.5 1420.4,214.2 1420.7,226.0 1421.0,213.1 1421.3,231.0 1421.6,210.3 1421.9,228.2 1422.2,211.3 1422.5,225.2 1422.8,209.4 1423.1,227.9 1423.4,216.2 1423.7,230.4 1424.0,216.1 1424.3,225.0 1424.6,213.5 1424.9,231.1 1425.2,215.9 1425.5,232.0 1425.8,211.9 1426.1,225.7 1426.4,212.1 1426.7,230.7 1427.0,215.0 1427.3,231.9 1427.6,208.6 1427.9,233.0 1428.2,211.0 1428.5,226.1 1428.8,214.4 1429.1,233.0 1429.4,214.9 1429.7,223.0 1430.0,201.6 1430.3,216.6 1430.6,199.3 1430.9,217.3 1431.2,199.9 1431.5,215.2 1431.8,203.4 1432.1,211.0 1432.4,200.5 1432.7,216.1 1433.0,197.8 1433.3,219.2 1433.6,198.2 1433.7,213.8 1434.0,249.0 1434.3,213.8 1434.2,199.8 1434.5,219.2 1434.8,201.6 1435.1,215.6 1435.4,200.1 1435.7,218.0 1436.0,203.2 1436.3,219.2 1436.6,205.2 1436.7,218.9 1437.0,248.5 1437.3,218.9 1437.2,203.1 1437.5,212.9 1437.8,198.2 1438.1,211.8 1438.4,201.6 1438.7,210.3 1439.0,198.2 1439.3,217.3 1439.6,198.3 1439.9,214.0 1440.2,200.3 1440.5,209.3 1440.8,204.2 1441.1,213.2 1441.4,204.2 1441.7,216.7 1441.7,203.5 1442.0,253.0 1442.3,203.5 1442.3,219.6 1442.6,207.6 1442.9,218.0 1443.2,201.2 1443.5,216.7 1443.8,202.5 1444.1,217.2 1444.4,201.5 1444.7,216.5 1445.0,204.1 1445.3,219.1 1445.6,202.2 1445.9,214.0 1446.2,202.8 1446.5,213.0 1446.8,199.0 1447.1,212.3 1447.4,204.1 1447.7,212.0 1448.0,204.1 1448.3,215.3 1448.6,201.1 1448.9,210.1 1449.2,207.7 1449.5,216.9 1449.8,199.7 1449.7,212.2 1450.0,186.0 1450.3,212.2 1450.4,203.4 1450.7,217.9 1451.0,201.8 1451.3,212.7 1451.6,200.7 1451.9,215.5 1452.2,203.2 1452.5,217.8 1452.8,200.7 1453.1,215.4 1453.4,199.6 1453.7,215.3 1454.0,205.0 1454.3,212.1 1454.6,206.1 1454.9,217.5 1455.2,204.0 1455.5,210.4 1455.8,200.8 1456.1,216.7 1456.4,208.5 1456.7,215.9 1457.0,198.9 1457.3,214.0 1457.6,200.6 1457.9,217.2 1458.2,204.2 1458.5,212.0 1458.8,202.0 1459.1,214.2 1459.4,204.2 1459.7,212.4 1460.0,204.6 1460.3,208.9 1460.2,204.8 1460.5,180.3 1460.8,204.8 1460.9,211.5 1461.2,199.3 1461.5,217.8 1461.8,200.5 1462.1,217.2 1462.4,205.2 1462.7,216.5 1463.0,207.4 1463.3,210.5 1463.6,199.2 1463.9,214.4 1464.2,204.4 1464.5,214.7 1464.8,199.0 1465.1,216.2 1465.4,203.3 1465.7,217.1 1466.0,204.8 1466.3,211.9 1466.6,206.1 1466.9,209.8 1467.2,198.9 1467.5,211.6 1467.8,196.9 1468.1,207.0 1468.4,201.4 1468.7,213.4 1469.0,199.3 1469.3,211.6 1469.6,204.2 1469.9,214.5 1470.2,200.0 1470.2,209.5 1470.5,187.5 1470.8,209.5 1470.8,195.4 1471.1,214.7 1471.4,198.6 1471.7,210.4 1472.0,195.9 1472.3,215.0 1472.6,204.1 1472.9,215.8 1473.2,203.8 1473.5,212.8 1473.8,198.5 1474.1,208.0 1474.4,195.0 1474.7,211.1 1475.0,194.9 1475.0,211.5 1475.3,182.0 1475.6,211.5 1475.6,194.0 1475.9,215.0 1476.2,195.5 1476.5,210.3 1476.8,196.8 1477.1,213.4 1477.4,204.1 1477.7,209.2 1478.0,199.0 1478.3,210.0 1478.6,203.3 1478.9,214.2 1479.2,201.7 1479.5,214.8 1479.8,194.3 1480.1,214.0 1480.4,194.2 1480.7,212.1 1481.0,196.7 1481.3,211.5 1481.6,196.2 1481.9,213.1 1482.2,202.4 1482.5,215.4 1482.8,194.7 1483.1,207.1 1483.4,198.7 1483.7,210.2 1484.0,197.2 1484.3,209.0 1484.6,194.2 1484.9,210.2 1485.2,199.4 1485.5,212.7 1485.8,201.4 1486.1,210.9 1486.4,194.9 1486.7,214.3 1487.0,197.5 1487.3,209.2 1487.6,197.8 1487.9,213.0 1488.2,200.7 1488.5,212.6 1488.8,198.9 1488.7,211.7 1489.0,183.3 1489.3,211.7 1489.4,194.5 1489.7,209.4 1490.0,194.1 1490.3,205.1 1490.6,198.8 1490.9,212.5 1491.2,192.8 1491.5,207.9 1491.8,197.6 1491.7,216.1 1492.0,190.0 1492.3,216.1 1492.4,197.8 1492.7,211.1 1493.0,197.6 1493.3,205.9 1493.6,198.8 1493.9,215.5 1494.2,195.9 1494.5,210.8 1494.8,198.0 1495.1,206.1 1495.4,197.6 1495.7,211.3 1496.0,192.2 1496.3,217.3 1496.6,198.5 1496.9,207.3 1497.2,202.5 1497.5,215.1 1497.8,197.8 1498.1,209.1 1498.4,197.4 1498.7,210.3 1499.0,197.1 1499.3,215.2 1499.6,194.3 1499.9,213.4 1500.2,195.2 1500.2,206.9 1500.5,183.5 1500.8,206.9 1500.8,197.5 1501.1,209.5 1501.4,195.5 1501.7,208.1 1502.0,192.1 1502.3,204.1 1502.6,197.2 1502.9,206.3 1503.0,194.1 1503.5,205.0 1504.0,193.5 1504.5,205.2 1505.0,194.0 1505.5,203.4 1506.0,194.2 1506.5,205.0 1507.0,192.9 1507.5,204.0 1508.0,194.7 1508.5,204.8 1509.0,193.5 1509.5,205.1 1510.0,193.6 1510.5,205.2 1511.0,192.8 1511.5,205.4 1512.0,193.9 1512.5,205.5 1513.0,193.1 1513.5,204.7 1514.0,192.8 1514.5,205.7 1515.0,193.2 1515.5,204.7 1516.0,192.7 1516.5,205.7 1517.0,192.8 1517.5,204.7 1518.0,193.9 1518.5,204.7 1519.0,196.4 1519.5,206.0 1520.0,192.9 1520.5,203.6 1521.0,193.4 1521.5,206.1 1522.0,193.7 1522.5,205.8 1523.0,193.2 1523.5,206.1 1524.0,194.2 1524.5,204.9 1525.0,194.8 1525.5,205.9 1526.0,193.4 1526.5,205.4 1527.0,195.1 1527.5,205.5 1528.0,193.4 1528.5,205.9 1529.0,194.7 1529.5,205.7 1530.0,194.9 1530.5,204.4 1531.0,194.5 1531.5,206.4 1532.0,194.0 1532.5,205.4 1533.0,194.4 1533.5,206.0 1534.0,194.0 1534.5,204.6 1535.0,195.8 1535.5,205.1 1536.0,196.7 1536.5,205.0 1537.0,194.2 1537.5,205.0 1538.0,195.8 1538.5,204.9 1539.0,195.6 1539.5,205.3 1540.0,194.5 1540.5,205.6 1541.0,196.6 1541.5,202.7 1542.0,194.7 1542.5,204.0 1543.0,194.8 1543.5,205.1 1544.0,194.3 1544.5,205.4 1545.0,195.2 1545.5,204.9 1546.0,195.2 1546.5,203.3 1547.0,194.4 1547.5,204.9 1548.0,196.0 1548.5,202.5 1549.0,195.2 1549.5,204.6 1550.0,194.0 1550.5,205.0 1551.0,194.4 1551.5,204.5 1552.0,194.3 1552.5,204.9 1553.0,194.3 1553.5,204.2 1554.0,194.1 1554.5,203.7 1555.0,195.5 1555.5,205.3 1556.0,194.6 1556.5,203.4 1557.0,193.5 1557.5,204.9 1558.0,193.3 1558.5,204.7 1559.0,194.2 1559.5,205.2 1560.0,193.8 1560.5,205.3 1561.0,195.1 1561.5,205.9 1562.0,193.8 1562.5,205.7 1563.0,193.9 1563.5,204.2 1564.0,194.5 1564.5,205.2 1565.0,193.6 1565.5,204.7 1566.0,193.4 1566.5,204.5 1567.0,193.3 1567.5,204.9 1568.0,193.3 1568.5,205.8 1569.0,194.4 1569.5,204.6 1570.0,194.1 1570.5,206.5 1571.0,193.1 1571.5,206.4 1572.0,193.4 1572.5,206.2 1573.0,192.9 1573.5,205.5 1574.0,194.1 1574.5,204.5 1575.0,192.8 1575.5,206.4 1576.0,193.1 1576.5,205.3 1577.0,193.5 1577.5,206.2 1578.0,193.5 1578.5,204.3 1579.0,193.8 1579.5,205.5 1580.0,193.2 1580.5,205.0 1581.0,193.7 1581.5,204.9 1582.0,193.2 1582.5,205.9 1583.0,196.0 1583.5,204.8 1584.0,194.2 1584.5,205.6 1585.0,193.6 1585.5,205.4 1586.0,195.4 1586.5,205.0 1587.0,194.7 1587.5,205.4 1588.0,194.6 1588.5,204.5 1589.0,195.8 1589.5,204.3 1590.0,193.9 1590.5,205.4 1591.0,195.7 1591.5,204.9 1592.0,195.2 1592.5,205.3 1593.0,194.2 1593.5,203.8 1594.0,195.5 1594.5,203.0 1595.0,197.7 1595.5,205.2 1596.0,196.5 1596.5,204.7 1597.0,194.6 1597.5,205.3 1598.0,196.1 1598.5,204.7 1599.0,194.1 1599.5,205.5 1600.0,194.7 1600.5,205.6 1601.0,195.1 1601.5,204.3 1602.0,196.9 1602.5,205.1 1603.0,194.0 1603.5,202.7 1604.0,194.4 1604.5,204.3 1605.0,195.6 1605.5,203.0 1606.0,194.5 1606.5,204.4 1607.0,197.2 1607.5,205.7 1608.0,193.6 1608.5,205.1 1609.0,194.5 1609.5,205.4 1610.0,193.6 1610.5,205.0 1611.0,193.5 1611.5,205.2 1612.0,193.8 1612.5,205.0 1613.0,194.8 1613.5,204.5 1614.0,193.7 1614.5,205.9 1615.0,193.3 1615.5,205.2 1616.0,193.8 1616.5,205.6 1617.0,195.7 1617.5,206.2 1618.0,193.0 1618.5,205.9 1619.0,194.7 1619.5,206.5 1620.0,193.9 1620.5,205.5 1621.0,193.1 1621.5,204.3 1622.0,193.1 1622.5,204.7 1623.0,194.5 1623.5,205.9 1624.0,193.4 1624.5,205.6 1625.0,195.5 1625.5,205.9 1626.0,192.8 1626.5,203.9 1627.0,193.2 1627.5,203.3 1628.0,193.2 1628.5,205.3 1629.0,192.8 1629.5,205.2 1630.0,194.0 1630.5,204.6 1631.0,194.0 1631.5,204.5 1632.0,192.7 1632.5,204.5 1633.0,193.1 1633.5,204.9 1634.0,195.1 1634.5,204.7 1635.0,193.3 1635.5,204.2 1636.0,193.3 1636.5,203.4 1637.0,193.7 1637.5,204.6 1638.0,194.1 1638.5,203.1 1639.0,193.6 1639.5,205.2 1640.0,194.2 1640.5,205.0 1641.0,193.8 1641.5,205.2 1642.0,193.7 1642.5,204.6 1643.0,194.6 1643.5,205.5 1644.0,194.0 1644.5,202.7 1645.0,195.0 1645.5,205.4 1646.0,194.1 1646.5,204.4 1647.0,194.7 1647.5,204.9 1648.0,194.8 1648.5,201.4 1649.0,195.0 1649.5,205.8 1650.0,195.8 1650.5,204.9 1651.0,195.3 1651.5,205.1 1652.0,195.0 1652.5,205.9 1653.0,194.1 1653.5,206.2 1654.0,194.4 1654.5,205.8 1655.0,194.4 1655.5,205.4 1656.0,196.8 1656.5,204.7 1657.0,196.9 1657.5,204.5 1658.0,195.6 1658.5,206.4 1659.0,195.0 1659.5,206.6 1660.0,195.3 1660.5,205.7 1661.0,194.1 1661.5,205.9 1662.0,195.1 1662.5,206.4 1663.0,195.1 1663.5,204.6 1664.0,194.2 1664.5,204.4 1665.0,194.8 1665.5,203.4 1666.0,195.2 1666.5,206.3 1667.0,194.3 1667.5,205.1 1668.0,194.6 1668.5,205.8 1669.0,193.5 1669.5,204.7 1670.0,193.5 1670.5,202.6 1671.0,194.7 1671.5,205.5 1672.0,193.5 1672.5,204.5 1673.0,193.7 1673.5,204.6 1674.0,193.4 1674.5,205.3 1675.0,194.4 1675.5,205.5 1676.0,193.0 1676.5,204.5 1677.0,193.1 1677.5,204.9 1678.0,193.8 1678.5,204.5 1679.0,192.6 1679.5,203.3 1680.0,193.7 1680.5,205.4 1681.0,193.2 1681.5,205.2 1682.0,193.1 1682.5,203.1 1683.0,193.5 1683.5,204.0 1684.0,194.3 1684.5,204.6 1685.0,193.9 1685.5,203.8 1686.0,192.6 1686.5,205.0 1687.0,192.7 1687.5,202.9 1688.0,192.7 1688.5,204.7 1689.0,193.8 1689.5,205.4 1690.0,193.2 1690.5,203.4 1691.0,193.7 1691.5,205.2 1692.0,193.5 1692.5,204.5 1693.0,193.2 1693.5,205.3 1694.0,194.1 1694.5,203.9 1695.0,195.9 1695.5,205.1 1696.0,193.9 1696.5,204.6 1697.0,194.5 1697.5,205.5 1698.0,194.9 1698.5,206.3 1699.0,197.4 1699.5,204.4 1700.0,194.5 1700.5,204.6 1701.0,195.0 1701.5,204.7 1702.0,194.6 1702.5,206.5 1703.0,195.1 1703.5,206.5 1704.0,195.0 1704.5,206.3 1705.0,194.0 1705.5,205.4 1706.0,194.6 1706.2,204.4 1706.5,212.4 1706.9,207.3 1707.2,214.0 1707.6,205.4 1707.9,216.5 1708.3,209.3 1708.6,219.6 1709.0,203.9 1709.2,215.3 1709.5,228.0 1709.8,215.3 1709.7,207.3 1710.0,221.6 1710.4,206.2 1710.7,222.1 1710.7,205.0 1711.0,173.9 1711.3,205.0 1711.4,218.2 1711.8,209.9 1712.1,220.0 1712.2,204.8 1712.5,181.0 1712.8,204.8 1712.8,217.9 1713.2,208.8 1713.5,215.1 1713.9,203.8 1714.2,219.7 1714.6,206.9 1714.9,217.7 1715.3,207.9 1715.6,221.9 1716.0,205.7 1716.3,217.5 1716.7,204.4 1717.0,222.6 1717.4,213.0 1717.7,217.1 1718.1,204.4 1718.4,216.8 1718.8,209.2 1719.1,222.6 1719.5,208.5 1719.8,222.1 1719.9,208.5 1720.2,161.2 1720.5,208.5 1720.5,220.5 1720.9,203.9 1721.2,217.2 1721.6,205.6 1721.9,218.4 1722.3,209.2 1722.6,218.5 1723.0,206.3 1723.3,220.3 1723.7,207.0 1724.0,221.6 1724.4,207.4 1724.4,215.9 1724.7,237.8 1725.0,215.9 1725.1,207.9 1725.4,216.3 1725.8,203.4 1726.1,219.5 1726.5,206.1 1726.8,218.9 1727.2,207.6 1727.5,219.6 1727.9,206.2 1728.2,217.0 1728.6,205.9 1728.9,216.2 1729.3,202.7 1729.6,215.3 1730.0,207.6 1730.3,217.6 1730.7,209.8 1731.0,215.4 1731.2,207.0 1731.5,178.3 1731.8,207.0 1731.7,220.2 1732.1,211.4 1732.4,215.3 1732.8,204.8 1733.1,215.2 1733.5,210.9 1733.8,213.7 1734.2,202.8 1734.5,214.1 1734.9,208.3 1735.2,217.5 1735.6,202.9 1735.9,215.1 1736.0,202.9 1736.3,238.8 1736.6,202.9 1736.6,216.7 1737.0,204.8 1737.3,214.5 1737.7,207.4 1738.0,215.2 1738.4,203.8 1738.7,216.9 1739.1,206.5 1739.4,216.6 1739.8,208.6 1740.1,219.9 1740.5,204.4 1740.8,214.8 1741.2,204.3 1741.5,214.3 1741.9,206.3 1742.2,211.3 1742.6,201.8 1742.9,218.3 1743.3,203.4 1743.6,214.5 1744.0,203.0 1744.2,215.0 1744.5,188.0 1744.8,215.0 1744.7,205.9 1745.0,218.7 1745.4,209.4 1745.7,218.5 1746.1,203.9 1746.4,214.5 1746.8,203.6 1746.7,217.0 1747.0,184.0 1747.3,217.0 1747.5,206.4 1747.8,216.5 1748.2,207.7 1748.5,216.1 1748.9,204.6 1749.2,213.3 1749.6,203.8 1749.9,218.3 1750.3,201.4 1750.6,219.0 1751.0,206.2 1751.3,212.7 1751.7,201.8 1751.7,216.6 1752.0,196.0 1752.3,216.6 1752.4,205.7 1752.7,216.9 1753.1,208.3 1753.4,217.5 1753.8,202.8 1754.1,216.8 1754.5,203.5 1754.7,214.3 1755.0,201.0 1755.3,214.3 1755.2,202.5 1755.5,213.0 1755.9,200.1 1756.2,218.0 1756.6,200.8 1756.9,213.1 1757.3,200.3 1757.6,215.6 1758.0,204.0 1758.3,218.2 1758.7,199.6 1759.0,205.0 1759.6,230.0 1760.2,243.7 1761.7,250.5 1763.0,247.6 1763.0,246.8 1763.6,248.0 1764.2,247.0 1764.8,246.4 1765.4,245.9 1766.0,247.0 1766.6,246.8 1767.2,246.3 1767.8,247.1 1768.4,245.6 1769.0,246.0 1769.6,246.8 1770.2,246.0 1770.8,246.8 1771.4,245.6 1772.0,246.8 1772.6,247.5 1773.2,247.9 1773.8,248.6 1774.4,248.8 1775.0,248.1 1775.6,248.8 1776.2,249.5 1776.8,249.7 1777.4,249.9 1778.0,249.6 1778.6,249.6 1779.2,250.6 1779.8,250.2 1780.4,250.4 1781.0,249.7 1781.6,248.2 1782.2,248.0 1782.8,247.5 1783.4,248.1 1784.0,247.2 1784.6,246.5 1785.2,247.2 1785.8,246.4 1786.4,246.4 1787.0,245.4 1787.6,246.1 1788.2,245.5 1788.8,245.8 1789.4,244.9 1790.0,244.1 1790.6,245.0 1791.2,245.4 1791.8,244.3 1792.4,244.8 1793.0,242.9 1793.6,244.2 1794.2,243.6 1794.8,243.5 1795.4,243.4 1796.0,243.6 1796.6,242.9 1797.2,243.7 1797.8,241.5 1798.4,241.6 1799.0,241.6 1799.6,242.7 1800.2,242.2 1800.8,241.7 1801.4,241.4 1802.0,241.8 1802.6,242.0 1803.2,241.8 1803.8,241.5 1804.4,241.1 1805.0,240.8 1805.6,241.7 1806.2,240.9 1806.8,240.7 1807.4,240.2 1808.0,241.0 1808.6,240.0 1809.2,239.5 1810.0,230.1 1810.3,228.8 1810.6,213.0 1810.9,208.5 1811.2,200.5 1811.5,204.5 1811.8,199.6 1812.1,204.0 1812.4,201.4 1812.7,202.9 1813.0,198.4 1813.3,203.4 1813.6,199.5 1813.9,203.1 1814.2,197.9 1814.5,204.4 1814.8,198.1 1815.1,204.5 1815.4,199.0 1815.7,203.2 1816.0,196.1 1816.3,203.3 1816.6,198.2 1816.9,204.5 1817.2,200.0 1817.5,204.7 1817.8,198.5 1818.1,204.2 1818.4,199.6 1818.7,216.1 1819.0,204.0 1819.3,231.6 1819.6,215.6 1819.9,235.5 1820.2,211.3 1820.5,231.7 1820.8,209.6 1821.1,232.1 1821.4,220.4 1821.7,233.3 1821.7,210.5 1822.0,233.0 1822.3,210.5 1822.3,232.9 1822.6,215.8 1822.9,227.8 1823.2,216.2 1823.5,233.3 1823.8,209.3 1824.1,227.9 1824.4,209.6 1824.7,235.9 1825.0,219.5 1825.3,232.3 1825.6,212.7 1825.9,231.2 1826.2,217.3 1826.5,229.7 1826.8,210.2 1827.1,229.4 1827.4,209.0 1827.7,233.7 1828.0,212.6 1828.3,231.3 1828.6,216.0 1828.9,225.7 1829.2,213.4 1829.5,224.3 1829.8,211.7 1830.1,218.1 1830.4,206.7 1830.7,226.7 1831.0,206.7 1831.3,225.3 1831.6,209.4 1831.7,225.5 1832.0,200.0 1832.3,225.5 1832.2,207.3 1832.5,225.3 1832.8,209.9 1833.1,225.1 1833.4,210.8 1833.7,221.8 1834.0,211.8 1834.3,222.1 1834.6,212.5 1834.9,225.3 1835.2,210.1 1835.5,222.5 1835.8,207.9 1836.1,219.5 1836.4,210.4 1836.7,224.2 1837.0,213.1 1837.3,223.6 1837.6,212.0 1837.9,223.3 1838.2,214.0 1838.5,218.3 1838.8,211.1 1839.1,220.5 1839.4,216.7 1839.7,233.6 1840.0,214.2 1840.3,235.5 1840.6,219.7 1840.9,236.8 1841.2,221.7 1841.5,230.5 1841.8,216.9 1842.1,237.6 1842.4,215.5 1842.7,232.6 1843.0,217.8 1843.3,236.2 1843.6,214.1 1843.9,233.5 1844.2,216.1 1844.5,234.4 1844.8,220.5 1845.1,235.4 1845.4,214.3 1845.7,236.7 1846.0,222.7 1846.3,235.3 1846.6,218.8 1846.9,232.4 1847.2,215.8 1847.5,231.1 1847.8,216.3 1848.1,235.1 1848.2,217.0 1848.5,200.0 1848.8,217.0 1848.7,233.1 1849.0,221.7 1849.3,233.4 1849.6,216.0 1849.9,235.6 1850.2,221.9 1850.5,234.4 1850.8,214.2 1850.7,237.1 1851.0,240.5 1851.3,237.1 1851.4,213.5 1851.7,231.4 1852.0,218.4 1852.3,236.4 1852.6,220.4 1852.9,236.7 1853.2,214.7 1853.5,235.4 1853.8,218.9 1854.1,232.1 1854.4,221.2 1854.7,231.8 1855.0,214.3 1855.3,230.0 1855.6,224.8 1855.9,235.7 1856.2,217.4 1856.5,230.4 1856.8,206.1 1857.1,220.5 1857.4,200.6 1857.7,217.4 1858.0,210.4 1858.3,217.7 1858.6,206.9 1858.9,220.9 1859.2,198.9 1859.5,213.5 1859.8,199.5 1860.1,218.3 1860.4,205.7 1860.7,219.7 1861.0,201.7 1861.3,220.7 1861.6,199.9 1861.9,216.9 1862.2,206.1 1862.5,221.6 1862.8,209.4 1863.1,218.9 1863.4,203.8 1863.7,217.8 1863.7,199.0 1864.0,195.0 1864.3,199.0 1864.3,216.1 1864.6,205.9 1864.9,222.5 1865.2,203.7 1865.2,215.5 1865.5,240.5 1865.8,215.5 1865.8,203.1 1866.1,222.0 1866.4,204.6 1866.7,223.0 1867.0,201.3 1867.3,215.5 1867.6,208.6 1867.7,220.9 1868.0,238.0 1868.3,220.9 1868.2,200.3 1868.5,215.7 1868.8,205.3 1869.1,219.5 1869.4,206.5 1869.7,222.9 1870.0,207.3 1870.3,222.0 1870.6,201.1 1870.9,217.9 1871.2,200.4 1871.5,222.2 1871.8,208.0 1872.1,218.0 1872.4,206.3 1872.7,222.2 1873.0,202.5 1873.3,219.9 1873.6,201.7 1873.9,221.8 1874.2,200.7 1874.5,220.8 1874.8,203.3 1875.1,217.1 1875.4,211.9 1875.7,228.0 1876.0,219.9 1876.3,235.3 1876.6,226.0 1876.9,238.2 1877.2,236.1 1877.5,241.7 1879.0,242.7 1883.0,244.6 1888.0,245.8 1888.0,245.9 1888.8,246.1 1889.6,245.8 1890.4,246.1 1891.2,245.7 1892.0,245.6 1892.8,246.3 1893.6,245.5 1894.4,246.0 1895.2,246.2 1896.0,245.6 1896.8,246.4 1897.6,245.6 1898.4,245.5 1899.2,245.6 1900.0,245.9 1900.8,245.8 1901.6,245.3 1902.4,245.9 1903.2,246.0 1904.0,245.5 1904.8,245.7 1905.6,246.2 1906.4,245.9 1907.2,245.9 1908.0,246.6 1908.8,245.8 1909.6,245.9 1910.4,245.5 1911.2,246.1 1912.0,246.6 1912.8,246.0 1913.6,246.0 1914.4,245.8 1915.2,246.0 1916.0,245.9 1916.8,246.3 1917.6,245.8 1918.4,245.7 1919.2,245.6 1920.0,246.0 1920.8,245.7 1921.6,246.0 1922.4,246.0 1923.2,246.1 1924.0,246.4 1924.8,245.7 1925.6,246.1 1926.4,245.9 1927.2,245.7 1928.0,245.6 1928.8,245.6 1929.6,245.8 1930.4,246.3 1931.2,246.2 1932.0,246.8 1932.8,245.3 1933.6,246.8 1934.4,246.1 1935.2,245.9 1936.0,246.0 1936.8,245.8 1937.6,245.6 1938.4,245.7 1939.2,246.5 1940.0,246.0 1940.8,246.2 1941.6,245.4 1942.4,246.1 1943.2,245.9 1944.0,245.6" fill="none" stroke="#000" stroke-width="1.2" stroke-linejoin="round"/>
<polyline points="686.5,607.6 686.9,637.1 687.2,625.4 687.6,642.3 687.9,611.3 688.3,633.1 688.6,608.4 689.0,644.6 689.3,617.8 689.7,641.7 690.0,612.8 690.4,643.4 690.7,615.0 691.1,636.7 691.4,615.5 691.8,638.8 692.1,614.2 692.5,633.8 692.8,607.4 693.2,633.8 693.5,616.7 693.9,627.5 694.2,623.3 694.6,636.0 694.9,607.4 695.3,640.1 695.6,605.2 696.0,642.2 696.3,607.4 696.7,633.9 697.0,611.1 697.4,641.7 697.7,616.1 698.1,636.3 698.4,610.1 698.8,640.0 699.1,615.8 699.5,632.9 699.8,613.9 700.2,633.1 700.5,612.7 700.9,636.9 701.2,609.9 701.6,638.8 701.9,604.7 702.3,636.7 702.6,616.5 703.0,640.0 703.3,622.7 703.7,641.9 704.0,611.5 704.4,639.0 704.7,614.1 705.1,634.9 705.4,622.2 705.8,640.0 706.0,604.6 706.4,649.4 706.7,609.6 707.1,640.9 707.2,600.8 707.5,543.0 707.8,600.8 707.8,640.1 708.1,573.0 708.5,665.6 708.8,606.0 709.2,670.5 709.5,609.2 709.9,682.6 710.2,604.1 710.6,645.1 710.9,615.6 711.3,648.7 711.6,558.6 712.0,655.9 712.3,610.0 712.7,682.9 713.0,614.4 713.4,651.1 713.7,545.7 714.1,680.0 714.4,617.4 714.8,668.5 715.1,599.3 715.5,671.2 715.8,611.2 716.2,651.5 716.5,602.7 716.9,660.7 717.2,547.9 717.6,690.3 717.9,597.8 718.3,662.5 718.6,546.3 718.7,687.0 719.0,543.5 719.3,687.0 719.3,545.8 719.7,661.8 720.0,617.9 720.4,687.5 720.7,602.7 721.1,677.0 721.1,551.4 721.4,743.5 721.7,551.4 721.8,675.9 722.1,553.2 722.5,675.6 722.8,616.5 723.2,678.5 723.5,598.0 723.9,689.0 724.2,615.8 724.6,676.3 724.9,599.2 725.3,664.9 725.6,557.7 726.0,699.8 726.3,604.8 726.7,696.8 727.0,608.5 727.1,696.6 727.4,726.6 727.7,696.6 727.7,553.7 728.1,667.9 728.4,607.1 728.8,665.8 729.1,600.8 729.2,680.9 729.5,543.0 729.8,680.9 729.8,618.6 730.2,689.1 730.5,555.5 730.9,700.7 731.2,616.4 731.6,673.8 731.9,598.2 732.3,686.7 732.6,610.0 733.0,673.2 733.3,565.5 733.7,683.9 734.0,614.1 734.4,676.4 734.7,621.0 735.1,679.7 735.4,622.8 735.8,680.8 736.1,569.0 736.5,678.1 736.8,612.0 737.2,688.3 737.5,606.9 737.7,681.9 738.0,725.0 738.3,681.9 738.2,612.9 738.6,685.9 738.9,590.8 739.3,694.1 739.6,611.3 740.0,675.5 740.3,623.4 740.7,691.4 741.0,612.5 741.4,691.5 741.7,626.6 742.1,680.5 742.4,615.9 742.8,687.8 743.1,625.9 743.5,682.1 743.8,618.5 744.2,703.0 744.5,613.4 744.9,713.8 745.2,618.1 745.2,684.1 745.5,719.0 745.8,684.1 745.9,623.9 746.3,702.4 746.6,620.6 747.0,696.1 747.3,619.9 747.7,694.4 748.0,619.3 748.4,698.5 748.7,623.7 749.1,704.0 749.4,635.3 749.8,704.8 750.1,630.5 750.5,698.6 750.7,690.0 751.5,660.0 752.0,656.7 752.0,657.0 753.2,657.1 754.4,656.7 755.6,656.9 756.8,657.1 758.0,657.1 759.2,656.5 760.4,656.8 761.6,656.8 762.8,656.7 764.0,657.3 765.2,656.1 766.4,657.6 767.6,657.0 768.8,656.8 770.0,656.8 771.2,656.7 772.4,656.5 773.6,657.5 774.8,656.8 776.0,656.4 777.2,656.6 778.4,657.2 779.6,656.7 780.8,657.9 782.0,657.2 783.2,656.9 784.4,657.2 785.6,656.3 786.8,656.4 788.0,656.9 789.2,656.6 790.4,657.1 791.6,656.1 792.8,656.6 794.0,656.6 795.2,657.5 796.4,657.2 797.6,657.1 798.8,656.6 800.0,656.5 801.2,657.1 802.4,656.9 803.6,657.3 804.8,656.8 806.0,657.0 807.2,656.5 808.4,656.6 809.6,657.1 810.8,656.8 812.0,656.6 813.2,657.2 814.4,657.0 815.6,657.3 816.8,657.8 818.0,656.5 819.2,657.4 820.4,656.8 821.6,657.2 822.8,656.7 824.0,656.9 825.2,656.6 826.4,656.4 827.6,657.1 828.8,656.8 830.0,656.7 831.2,657.0 832.4,657.2 833.6,657.7 834.8,657.1 836.0,656.7 837.2,656.8 838.4,657.6 839.6,656.9 840.8,657.4 842.0,657.0 843.2,657.2 844.4,656.6 845.6,657.5 846.8,656.8 848.0,656.8 849.2,656.8 850.4,656.5 851.6,657.1 852.8,657.3 854.0,657.5 855.2,657.1 856.4,656.9 857.6,656.9 858.8,656.6 860.0,656.7 861.2,656.8 862.4,657.0 863.6,657.4 864.8,657.4 866.0,657.4 867.2,657.1 868.4,657.0 869.6,656.5 870.8,655.9 872.0,657.1 873.2,656.3 874.4,656.8 875.6,657.0 876.8,656.8 878.0,656.9 879.2,657.1 880.4,657.7 881.6,657.1 882.8,657.0 884.0,656.6 885.2,657.0 886.4,656.6 887.6,657.3 888.8,657.1 890.0,657.4 890.9,657.3 891.2,643.5 891.5,657.3 892.4,656.4 893.6,657.2 894.8,657.3 896.0,657.1 897.2,657.8 898.4,657.0 899.6,656.9 900.8,656.3 902.0,656.9 903.2,657.0 904.4,657.4 905.6,656.4 906.8,657.1 908.0,657.0 909.2,657.2 910.4,657.3 911.6,657.3 912.8,657.0 914.0,656.9 915.2,657.3 915.9,657.5 916.2,632.7 916.5,657.5 917.1,656.9 917.4,634.0 917.7,656.9 918.8,657.4 920.0,657.9 921.2,656.5 922.4,657.5 923.6,657.1 924.8,656.9 926.0,657.1 927.2,657.0 928.4,656.7 929.3,657.1 929.6,598.0 929.6,608.0 930.0,625.2 930.3,608.7 930.7,624.7 930.7,610.9 931.0,598.0 931.3,610.9 931.4,628.4 931.7,612.6 932.1,624.7 932.4,610.5 932.8,624.6 933.1,605.3 933.5,623.7 933.8,603.5 934.2,621.7 934.5,604.4 934.9,625.3 935.2,615.1 935.6,625.5 935.9,609.4 936.3,633.5 936.6,611.9 937.0,633.1 937.3,615.6 937.7,632.9 938.0,621.4 938.4,636.4 938.7,615.7 939.1,636.4 939.4,624.1 939.8,645.4 940.1,624.8 940.5,647.8 940.8,631.5 941.2,650.7 941.5,621.9 941.9,641.2 942.2,631.1 942.6,642.3 942.7,633.6 943.0,659.5 943.3,633.6 943.3,646.2 943.6,631.0 944.0,656.2 944.3,635.2 944.7,654.5 945.0,629.6 945.4,657.0 945.7,644.6 946.1,653.7 946.4,646.0 946.8,656.0 947.1,645.9 947.5,656.0 947.8,647.1 948.2,655.7 948.5,646.2 948.9,653.8 949.2,646.0 949.6,654.2 949.7,644.7 950.0,660.0 950.3,644.7 950.3,656.3 950.6,644.8 951.0,657.0 951.3,646.2 951.7,654.0 952.0,649.9 952.4,654.0 952.7,645.0 953.1,654.9 953.4,646.3 953.8,652.4 954.1,647.4 954.5,656.7 954.8,644.8 955.2,653.8 955.5,647.5 955.9,653.2 956.2,648.4 956.6,655.0 956.9,642.4 957.3,646.6 957.6,637.8 958.0,649.1 958.3,638.6 958.7,650.7 959.0,638.8 959.4,650.5 959.7,633.2 960.1,650.5 960.4,640.9 960.8,641.2 961.1,637.6 961.5,648.3 961.8,632.6 962.2,647.5 962.5,632.3 962.9,648.6 963.2,629.5 963.6,645.3 963.9,633.3 964.3,647.2 964.6,629.0 965.0,642.9 965.3,627.7 965.7,643.8 966.0,626.5 966.4,646.7 966.7,640.2 967.1,654.2 967.4,632.0 967.8,654.9 968.1,635.8 968.5,649.6 968.8,638.3 969.2,645.9 969.5,638.1 969.9,647.7 970.2,636.5 970.6,650.3 970.9,634.7 971.3,649.3 971.6,637.5 972.0,644.5 972.3,637.2 972.7,646.0 973.0,633.9 973.4,653.4 973.7,635.8 974.1,644.5 974.4,631.9 974.8,650.7 975.1,638.0 975.5,656.0 975.8,638.2 976.2,649.3 976.5,630.9 976.9,655.5 977.2,631.2 977.6,650.8 977.9,635.5 978.3,649.8 978.6,637.3 979.0,650.8 979.3,637.4 979.7,648.9 980.0,637.9 980.4,654.1 980.7,637.0 981.1,651.6 981.4,639.0 981.8,647.3 982.1,639.0 982.5,647.9 982.8,631.9 983.2,654.4 983.5,630.8 983.9,651.7 984.2,638.0 984.6,655.9 984.9,638.9 985.3,647.1 985.6,641.6 986.0,653.3 986.3,636.2 986.7,650.1 987.0,635.5 987.4,651.6 987.7,630.9 988.1,650.9 988.4,639.3 988.8,648.3 989.1,641.7 989.5,648.6 989.8,634.3 990.2,648.8 990.5,639.6 990.9,654.5 991.2,630.9 991.6,649.1 991.9,636.4 992.3,654.5 992.6,633.8 993.0,653.1 993.3,631.7 993.7,651.8 994.0,630.7 994.4,653.4 994.7,632.6 995.1,648.3 995.4,632.5 995.8,649.4 996.1,637.3 996.5,646.6 996.8,632.9 997.2,648.4 997.5,637.0 997.9,648.5 998.2,631.0 998.6,648.5 998.9,633.3 999.3,654.5 999.6,632.6 1000.0,655.2 1000.3,636.6 1000.7,647.8 1001.0,638.2 1001.4,646.0 1001.7,633.9 1002.1,648.9 1002.4,636.7 1002.8,649.9 1003.1,637.6 1003.5,649.9 1003.8,638.0 1003.7,650.6 1004.0,659.5 1004.3,650.6 1004.5,638.8 1004.9,649.2 1005.2,637.7 1005.6,651.5 1005.9,638.7 1006.3,647.9 1006.6,638.9 1007.0,644.2 1007.3,632.4 1007.7,644.3 1008.0,637.8 1008.4,646.8 1008.7,631.5 1009.1,645.9 1009.4,631.7 1009.8,655.5 1010.1,635.1 1010.5,652.9 1010.8,638.3 1011.2,649.6 1011.5,638.3 1011.9,647.9 1012.2,637.3 1012.6,649.5 1012.9,634.1 1013.3,654.2 1013.6,632.2 1014.0,644.9 1014.3,635.5 1014.7,654.8 1015.0,637.1 1015.4,649.4 1015.7,640.2 1016.1,653.2 1016.4,637.6 1016.8,650.3 1017.1,633.0 1017.3,652.3 1017.6,613.7 1017.9,652.3 1017.8,631.4 1018.2,655.2 1018.5,638.9 1018.9,645.7 1019.2,631.6 1019.6,649.6 1019.9,637.8 1020.3,655.4 1020.6,634.7 1021.0,654.8 1021.3,638.7 1021.7,654.9 1022.0,636.8 1022.1,654.9 1022.4,664.9 1022.7,654.9 1022.7,632.1 1023.1,652.3 1023.4,632.1 1023.8,649.4 1024.1,636.5 1024.5,653.3 1024.8,637.9 1025.2,648.2 1025.5,640.3 1025.9,655.7 1026.2,640.9 1026.6,650.5 1026.8,630.5 1027.3,642.0 1027.8,630.6 1028.3,643.7 1028.8,626.2 1029.3,644.2 1029.8,624.4 1030.3,642.3 1030.8,621.4 1031.3,641.4 1031.8,619.5 1032.3,642.1 1032.8,619.5 1033.3,640.0 1033.8,615.1 1034.3,641.3 1034.8,613.6 1035.3,639.1 1035.8,610.5 1036.3,639.4 1036.6,608.7 1037.1,642.2 1037.6,609.9 1038.1,641.6 1038.6,608.2 1039.1,641.7 1039.6,609.9 1040.1,639.5 1040.6,608.2 1041.1,640.5 1041.6,609.2 1042.1,640.9 1042.6,609.0 1043.1,641.5 1043.6,609.8 1044.1,638.6 1044.6,609.6 1045.1,640.9 1045.6,609.5 1046.1,641.4 1046.6,611.0 1047.1,642.3 1047.6,609.5 1048.1,641.4 1048.6,610.3 1049.1,641.5 1049.6,610.3 1050.1,641.8 1050.6,610.9 1051.1,641.2 1051.6,612.2 1052.1,641.3 1052.6,611.0 1053.1,640.8 1053.6,610.6 1054.1,641.4 1054.6,611.3 1055.1,640.0 1055.6,614.3 1056.1,639.6 1056.6,610.0 1057.1,641.3 1057.6,610.4 1058.1,641.7 1058.6,609.8 1059.1,640.4 1059.6,610.0 1060.1,641.0 1060.6,611.1 1061.1,640.5 1061.6,609.7 1062.1,641.7 1062.6,610.1 1063.1,639.5 1063.6,609.9 1064.1,640.4 1064.6,611.1 1065.1,639.6 1065.6,610.9 1066.1,640.8 1066.6,610.7 1067.1,638.3 1067.6,611.1 1068.1,640.2 1068.6,610.9 1069.1,641.2 1069.6,610.8 1070.1,640.1 1070.6,611.4 1071.1,640.2 1071.6,609.8 1072.1,640.6 1072.6,610.9 1073.1,640.7 1073.6,609.2 1074.1,638.3 1074.6,609.4 1075.1,639.8 1075.6,609.9 1076.1,640.8 1076.6,610.7 1077.1,639.8 1077.6,610.0 1078.1,641.0 1078.6,610.1 1079.1,639.9 1079.6,609.4 1080.1,640.0 1080.6,610.1 1081.1,639.0 1081.6,609.1 1082.1,638.2 1082.6,611.5 1083.1,640.2 1083.6,610.2 1084.1,640.1 1084.6,609.5 1085.1,640.5 1085.6,610.8 1086.1,640.9 1086.6,609.3 1087.1,638.8 1087.6,610.2 1088.1,641.1 1088.6,609.7 1089.1,639.2 1089.6,609.7 1090.1,637.7 1090.6,609.5 1091.1,640.9 1091.6,610.0 1092.1,641.2 1092.6,609.7 1093.1,639.9 1093.6,609.9 1094.1,640.9 1094.6,609.7 1095.1,640.9 1095.6,611.7 1096.1,640.6 1096.6,612.1 1097.1,639.3 1097.6,611.4 1098.1,641.0 1098.6,611.1 1099.1,640.0 1099.6,610.8 1100.1,641.0 1100.6,612.6 1101.1,639.8 1101.6,611.5 1102.1,641.6 1102.6,613.4 1103.1,640.6 1103.6,615.1 1104.1,637.9 1104.6,612.3 1105.1,640.5 1105.6,611.7 1106.1,641.9 1106.6,612.4 1107.1,639.5 1107.6,612.5 1108.1,640.5 1108.6,612.3 1109.1,640.8 1109.6,611.3 1110.1,641.4 1110.6,612.1 1111.1,639.7 1111.6,613.0 1112.1,642.2 1112.6,612.9 1113.1,642.0 1113.6,612.7 1114.1,641.4 1114.6,612.3 1115.1,641.2 1115.6,612.7 1116.1,639.4 1116.6,612.0 1117.1,639.1 1117.6,612.2 1118.1,640.9 1118.6,613.1 1119.1,639.9 1119.6,612.7 1120.1,639.2 1120.6,615.0 1121.1,641.7 1121.6,613.0 1122.1,642.1 1122.6,613.1 1123.1,639.9 1123.6,613.0 1124.1,642.0 1124.6,612.6 1125.1,642.3 1125.6,613.3 1126.1,641.5 1126.6,612.5 1127.1,641.0 1127.6,615.0 1128.1,640.2 1128.6,613.3 1129.1,642.2 1129.6,612.4 1130.1,640.4 1130.6,614.4 1131.1,642.2 1131.6,612.1 1132.1,641.7 1132.6,613.1 1133.1,641.1 1133.6,612.6 1134.1,641.4 1134.6,614.7 1135.1,640.3 1135.6,613.6 1136.1,641.9 1136.6,611.7 1137.1,642.0 1137.6,612.9 1138.1,641.6 1138.6,612.3 1139.1,641.3 1139.6,611.8 1140.1,641.7 1140.6,612.5 1141.1,640.5 1141.6,615.1 1142.1,641.6 1142.6,612.6 1143.1,640.8 1143.6,610.4 1144.1,640.8 1144.6,611.9 1145.1,639.3 1145.6,612.5 1146.1,640.7 1146.6,614.7 1147.1,640.4 1147.6,611.3 1148.1,639.7 1148.6,610.7 1149.1,639.7 1149.6,610.1 1150.1,639.2 1150.6,610.4 1151.1,640.9 1151.6,609.4 1152.1,639.8 1152.6,609.3 1153.1,640.4 1153.6,610.8 1154.1,640.1 1154.6,610.7 1155.1,638.6 1155.6,610.0 1156.1,640.3 1156.6,609.3 1157.1,640.6 1157.6,608.9 1158.1,639.9 1158.6,611.0 1159.1,639.8 1159.6,609.0 1160.1,638.4 1160.6,610.3 1161.1,638.7 1161.6,609.2 1162.1,641.2 1162.6,608.8 1163.1,640.0 1163.6,609.5 1164.1,641.2 1164.6,611.4 1165.1,640.3 1165.6,611.0 1166.1,637.7 1166.6,608.9 1167.1,637.5 1167.6,609.3 1168.1,641.1 1168.6,609.6 1169.1,641.1 1169.6,609.2 1170.1,638.6 1170.6,609.9 1171.1,638.1 1171.6,612.0 1172.1,640.6 1172.6,609.3 1173.1,639.4 1173.6,609.1 1174.1,638.3 1174.6,611.0 1175.1,640.6 1175.6,609.7 1176.1,640.1 1176.6,610.9 1177.1,640.2 1177.6,610.2 1178.1,639.6 1178.6,612.5 1179.1,638.8 1179.6,610.6 1180.1,639.1 1180.6,611.0 1181.1,641.3 1181.6,609.3 1182.1,641.1 1182.6,609.6 1183.1,639.1 1183.6,609.8 1184.1,637.2 1184.6,609.4 1185.1,639.8 1185.6,612.7 1186.1,639.5 1186.6,612.2 1187.1,640.1 1187.6,610.0 1188.1,641.4 1188.6,609.4 1189.1,641.9 1189.6,611.2 1190.1,639.8 1190.6,610.1 1191.1,640.5 1191.6,610.4 1192.1,640.7 1192.6,612.7 1193.1,641.3 1193.6,610.2 1194.1,638.9 1194.6,609.5 1195.1,641.9 1195.6,609.5 1196.1,642.1 1196.6,609.4 1197.1,641.4 1197.6,609.8 1198.1,642.2 1198.6,611.5 1199.1,641.1 1199.6,609.4 1200.1,639.5 1200.6,608.7 1201.1,641.3 1201.6,609.8 1202.1,642.4 1202.6,608.9 1203.1,642.2 1203.6,610.1 1204.1,641.8 1204.6,610.6 1205.1,641.4 1205.6,608.2 1206.1,641.7 1206.6,609.6 1207.1,641.7 1207.6,608.9 1208.1,640.7 1208.6,608.3 1209.1,641.7 1209.6,608.0 1210.1,641.3 1210.6,608.5 1211.1,640.0 1211.6,610.0 1212.1,642.2 1212.6,609.3 1213.1,641.2 1213.6,607.3 1214.1,641.2 1214.6,607.7 1215.1,642.2 1215.6,606.7 1216.1,637.6 1216.6,609.1 1217.1,640.6 1217.6,607.1 1218.1,637.6 1218.6,606.6 1219.1,641.8 1219.6,608.1 1220.1,639.7 1220.6,607.4 1221.1,640.6 1221.6,606.1 1222.1,640.8 1222.6,605.9 1223.1,640.8 1223.6,607.8 1224.1,640.0 1224.6,609.5 1225.1,641.7 1225.6,606.4 1226.1,640.7 1226.6,607.6 1227.1,641.1 1227.6,606.5 1228.1,640.4 1228.6,608.2 1229.1,640.4 1229.6,607.3 1230.1,641.5 1230.6,606.0 1231.1,641.0 1231.6,606.9 1232.1,639.6 1232.6,606.4 1233.1,641.2 1233.6,606.7 1234.1,639.9 1234.6,607.4 1235.1,640.0 1235.6,607.3 1236.1,640.5 1236.6,608.1 1237.1,641.2 1237.6,608.2 1238.1,639.2 1238.6,606.8 1239.1,640.6 1239.6,607.0 1240.1,638.2 1240.6,607.5 1241.1,637.7 1241.6,608.1 1242.1,640.6 1242.6,606.8 1243.1,638.6 1243.6,607.2 1244.1,640.4 1244.6,607.7 1245.1,639.3 1245.6,608.2 1246.1,640.5 1246.6,608.8 1247.1,641.0 1247.6,607.4 1248.1,638.6 1248.6,607.5 1249.1,641.0 1249.6,607.8 1250.1,640.9 1250.6,608.6 1251.1,640.0 1251.6,608.1 1252.1,640.7 1252.6,607.7 1253.1,640.8 1253.6,608.5 1254.1,638.2 1254.6,608.5 1255.1,641.0 1255.6,609.6 1256.1,640.4 1256.6,608.4 1257.1,640.6 1257.6,608.8 1258.1,640.0 1258.6,608.9 1259.1,640.0 1259.6,608.4 1260.1,638.1 1260.6,608.7 1261.1,639.4 1261.6,608.8 1262.1,639.5 1262.6,608.3 1263.1,640.1 1263.6,608.4 1264.1,640.2 1264.6,610.0 1265.1,639.3 1265.6,608.0 1266.1,641.6 1266.6,610.1 1267.1,641.1 1267.6,608.1 1268.1,639.4 1268.6,608.5 1269.1,639.9 1269.6,609.5 1270.1,641.8 1270.6,609.9 1271.1,640.3 1271.6,608.2 1272.1,641.9 1272.6,609.5 1273.1,641.1 1273.6,608.1 1274.1,641.4 1274.6,608.2 1275.1,641.7 1275.6,607.9 1276.1,642.0 1276.6,607.1 1277.1,641.1 1277.6,607.5 1278.1,640.1 1278.6,607.3 1279.1,641.0 1279.6,607.0 1280.1,641.5 1280.6,606.4 1281.1,642.3 1281.6,608.2 1282.1,640.5 1282.6,606.3 1283.1,639.2 1283.6,606.7 1284.1,639.2 1284.6,607.7 1285.1,639.9 1285.6,606.4 1286.1,641.7 1286.6,606.0 1287.1,642.3 1287.6,606.1 1288.1,640.6 1288.6,606.3 1289.1,642.3 1289.6,607.7 1290.1,638.5 1290.6,606.6 1291.1,638.9 1291.6,607.1 1292.1,642.1 1292.6,606.2 1293.1,641.6 1293.6,607.0 1294.1,636.6 1294.6,605.8 1295.1,641.0 1295.6,606.8 1296.1,641.3 1296.6,606.4 1297.1,640.9 1297.6,606.4 1298.1,639.9 1298.6,607.0 1299.1,640.7 1299.6,605.8 1300.1,641.7 1300.6,606.8 1301.1,641.0 1301.6,605.6 1302.1,641.9 1302.6,608.6 1303.1,640.1 1303.6,606.4 1304.1,641.6 1304.6,606.4 1305.1,641.6 1305.6,607.5 1306.1,641.2 1306.6,606.5 1307.1,641.6 1307.6,606.4 1308.1,641.7 1308.6,608.3 1309.1,641.6 1309.6,610.8 1310.1,639.5 1310.6,606.6 1311.1,641.2 1311.6,607.5 1312.1,640.6 1312.6,607.8 1313.1,641.4 1313.6,609.3 1314.1,639.7 1314.6,610.3 1315.1,641.3 1315.6,607.8 1316.1,639.7 1316.6,607.1 1317.1,641.1 1317.6,607.8 1318.1,640.9 1318.6,607.2 1319.1,640.0 1319.6,608.7 1320.1,640.3 1320.6,607.7 1321.1,638.0 1321.6,608.6 1322.1,640.0 1322.6,608.9 1323.1,639.5 1323.6,610.0 1324.1,638.8 1324.6,608.4 1325.1,639.9 1325.6,607.9 1326.1,640.8 1326.6,607.7 1327.1,639.8 1327.6,609.0 1328.1,640.0 1328.6,611.4 1329.1,640.8 1329.6,610.4 1330.1,638.2 1330.6,609.8 1331.1,638.9 1331.6,608.3 1332.1,640.9 1333.5,640.0 1334.4,542.4 1335.0,630.0 1335.0,637.2 1335.3,652.3 1335.7,629.0 1336.0,649.1 1336.4,633.6 1336.7,652.4 1337.1,636.1 1337.4,653.3 1337.8,633.4 1338.1,649.6 1338.5,630.7 1338.8,652.5 1339.2,630.7 1339.5,645.3 1339.9,628.4 1340.2,648.7 1340.6,628.8 1340.9,652.1 1341.3,635.5 1341.6,648.3 1341.7,631.3 1342.0,662.0 1342.3,631.3 1342.3,642.1 1342.7,631.2 1343.0,649.3 1343.4,638.2 1343.7,639.3 1344.1,632.2 1344.4,652.4 1344.8,625.5 1345.1,645.0 1345.5,626.1 1345.8,640.7 1346.2,627.6 1346.5,651.4 1346.9,625.4 1347.2,644.0 1347.6,624.6 1347.9,645.4 1348.3,629.3 1348.6,644.7 1349.0,632.3 1349.3,652.3 1349.7,626.1 1350.0,647.2 1350.4,627.1 1350.7,648.1 1351.1,629.2 1351.4,650.9 1351.8,634.4 1352.1,641.7 1352.5,630.6 1352.8,639.3 1353.2,627.8 1353.5,650.3 1353.9,625.8 1354.2,646.4 1354.6,630.5 1354.9,647.6 1355.3,625.7 1355.6,650.7 1356.0,631.7 1356.3,650.2 1356.7,626.9 1357.0,644.6 1357.4,629.1 1357.7,644.8 1358.1,630.1 1358.4,645.6 1358.8,624.1 1358.7,642.1 1359.0,660.0 1359.3,642.1 1359.5,631.6 1359.8,645.9 1360.2,633.2 1360.5,645.4 1360.9,632.5 1361.2,647.4 1361.6,636.0 1361.9,649.5 1362.3,632.1 1362.6,652.1 1363.0,633.5 1363.3,646.0 1363.7,626.7 1364.0,645.8 1364.4,626.2 1364.7,642.6 1365.1,625.5 1365.4,652.0 1365.8,625.1 1366.1,649.1 1366.5,631.9 1366.8,649.2 1367.2,624.1 1367.5,643.1 1367.7,629.7 1368.0,615.0 1368.3,629.7 1368.2,645.5 1368.6,631.7 1368.9,649.1 1369.3,624.2 1369.6,652.1 1370.0,636.1 1370.3,652.0 1370.7,632.2 1371.0,644.5 1371.4,629.2 1371.7,639.0 1372.1,632.0 1372.2,646.8 1372.5,661.8 1372.8,646.8 1372.8,637.0 1373.1,652.3 1373.5,637.5 1373.8,645.7 1374.2,624.7 1374.5,647.6 1374.7,632.7 1375.0,661.8 1375.3,632.7 1375.2,648.1 1375.6,631.9 1375.9,650.9 1376.3,632.8 1376.6,646.1 1377.0,627.6 1377.3,647.3 1377.7,627.8 1378.0,643.9 1378.4,625.8 1378.7,651.8 1379.1,627.0 1379.4,650.0 1379.8,630.0 1380.1,646.1 1380.5,629.7 1380.8,653.3 1381.2,631.4 1381.5,650.1 1381.9,627.3 1382.2,630.0 1382.4,592.4 1383.5,625.0 1385.3,656.5 1385.3,657.0 1386.3,656.2 1387.3,656.3 1388.3,656.1 1389.3,656.1 1390.3,657.0 1391.3,656.8 1392.3,656.6 1393.3,656.3 1394.3,656.7 1395.3,656.7 1396.3,656.2 1397.3,656.6 1398.3,656.3 1399.3,657.0 1400.3,657.0 1401.3,656.5 1402.3,656.7 1403.3,656.7 1404.3,656.3 1405.3,657.1 1406.3,656.8 1407.3,656.5 1408.3,656.6 1409.3,655.9 1410.3,656.5 1411.3,656.3 1412.3,656.4 1413.3,656.3 1414.3,656.7 1415.3,657.1 1416.3,656.2 1417.3,656.3 1418.3,656.0 1419.3,656.5 1420.3,656.5 1421.3,655.9 1422.3,656.6 1423.3,656.4 1424.3,656.7 1425.3,656.4 1426.3,656.5 1427.3,657.1 1428.3,656.6 1429.3,655.9 1430.3,656.3 1431.3,656.6 1432.3,656.9 1433.3,656.4 1434.3,656.6 1435.3,656.3 1436.3,656.3 1437.3,657.2 1438.3,656.3 1439.3,656.4 1440.3,656.5 1441.3,656.7 1442.4,656.0 1442.6,597.0 1444.0,603.0 1444.0,609.2 1444.5,617.9 1444.9,611.4 1445.4,627.0 1445.8,612.7 1446.3,630.2 1446.7,618.1 1447.2,625.5 1447.6,619.0 1448.1,627.0 1448.5,618.4 1449.0,633.1 1449.4,624.0 1449.9,630.7 1450.3,626.5 1450.8,636.4 1451.2,629.9 1451.7,638.6 1452.1,634.4 1452.6,643.5 1453.0,636.7 1453.5,647.0 1453.9,638.9 1454.4,650.7 1454.8,643.0 1455.3,650.6 1455.7,642.3 1456.2,656.3 1456.6,643.8 1457.1,656.1 1457.5,647.3 1458.0,654.4 1458.4,650.6 1458.9,660.6 1459.3,649.5 1459.8,660.3 1460.2,650.1 1460.7,659.4 1461.1,646.4 1461.6,659.5 1462.0,655.3 1462.5,663.6 1462.9,651.4 1463.4,659.4 1463.8,651.7 1464.3,660.1 1464.7,650.4 1465.2,659.6 1465.6,649.5 1466.1,658.9 1466.5,648.4 1467.0,662.3 1467.4,643.6 1467.9,644.1 1468.3,625.4 1468.8,648.5 1469.2,623.6 1469.7,644.3 1469.7,619.1 1470.0,615.0 1470.3,619.1 1470.6,638.3 1471.0,623.9 1471.5,644.2 1471.9,622.3 1472.4,647.2 1472.8,630.0 1473.3,636.7 1473.7,622.1 1474.2,643.3 1474.6,623.6 1475.1,647.6 1475.5,635.3 1476.0,640.9 1476.4,624.3 1476.7,638.8 1477.0,612.0 1477.3,638.8 1477.3,618.3 1477.8,638.8 1478.2,619.1 1478.7,649.4 1479.1,630.1 1479.6,650.7 1480.0,627.4 1480.5,644.3 1480.9,631.1 1481.4,650.6 1481.8,627.9 1482.3,648.3 1482.7,622.1 1483.2,644.7 1483.6,629.8 1484.1,642.8 1484.5,628.3 1485.0,643.0 1485.4,628.5 1485.9,647.0 1486.3,623.2 1486.8,646.8 1487.2,630.4 1487.7,648.0 1488.1,627.1 1488.6,653.1 1489.0,624.3 1489.5,641.7 1489.9,621.8 1490.4,648.6 1490.7,631.3 1491.0,613.0 1491.3,631.3 1491.3,643.7 1491.7,635.5 1492.2,649.3 1492.6,634.6 1493.1,646.4 1493.5,628.3 1494.0,651.6 1494.4,630.3 1494.9,646.2 1495.3,630.7 1495.8,645.4 1496.2,623.8 1496.7,652.2 1497.1,621.0 1497.6,650.7 1498.0,628.9 1498.5,651.6 1498.9,632.7 1499.4,641.9 1499.7,619.4 1500.0,660.0 1500.3,619.4 1500.3,646.9 1500.7,632.9 1501.2,642.1 1501.6,624.8 1502.1,637.2 1502.5,628.7 1503.0,649.7 1503.4,626.1 1503.9,648.6 1504.3,620.4 1504.8,650.3 1505.2,623.6 1505.7,649.2 1506.1,629.3 1506.6,652.2 1507.0,621.9 1507.5,652.1 1507.9,620.5 1508.4,640.9 1508.8,630.3 1509.3,653.1 1509.7,624.5 1510.2,646.2 1510.6,628.1 1511.1,650.0 1511.5,619.1 1512.0,650.6 1512.4,625.1 1512.9,652.9 1513.3,628.6 1513.8,651.6 1514.2,620.8 1514.7,640.1 1515.1,635.5 1515.6,641.6 1516.0,627.8 1516.5,639.3 1516.9,626.3 1517.4,653.2 1517.8,619.2 1518.3,643.5 1518.7,619.0 1519.2,649.1 1519.6,619.7 1520.1,651.4 1520.5,630.3 1521.0,642.9 1521.4,626.4 1521.7,637.7 1522.0,614.0 1522.3,637.7 1522.3,618.7 1522.8,647.1 1523.2,618.8 1523.7,644.0 1524.1,619.1 1524.6,651.2 1525.0,628.0 1525.5,648.1 1525.9,628.4 1526.4,649.8 1526.8,626.8 1527.3,645.1 1527.7,618.9 1528.2,642.8 1528.6,619.1 1529.1,644.1 1529.5,630.8 1530.0,650.2 1530.4,630.5 1530.9,647.3 1531.3,634.6 1531.8,644.0 1532.2,618.0 1532.7,653.3 1533.1,618.5 1533.6,640.1 1534.0,626.9 1534.5,636.7 1534.9,620.4 1535.4,640.8 1535.8,620.0 1536.3,648.1 1536.7,626.3 1537.2,640.6 1537.6,631.1 1538.1,649.5 1538.5,625.8 1539.0,638.7 1539.4,627.6 1539.7,642.6 1540.0,659.0 1540.3,642.6 1540.3,629.9 1540.8,653.2 1541.2,627.2 1541.7,650.7 1542.1,619.8 1542.6,640.1 1543.0,631.3 1543.5,643.5 1543.9,623.1 1544.4,638.6 1544.8,621.0 1545.3,641.8 1545.7,618.2 1546.2,651.1 1546.6,618.5 1547.1,644.9 1547.5,628.4 1548.0,649.1 1548.4,620.4 1548.9,638.3 1549.3,618.2 1549.8,637.4 1550.2,622.4 1550.7,641.2 1551.1,628.9 1551.6,641.2 1552.0,628.5 1552.5,644.0 1552.9,621.8 1553.4,641.8 1553.8,625.2 1554.3,635.9 1554.7,624.2 1555.2,642.2 1555.6,628.2 1555.7,643.7 1556.0,615.0 1556.3,643.7 1556.5,630.6 1557.0,653.0 1557.4,629.3 1557.9,641.0 1558.3,628.7 1558.8,652.5 1559.2,624.1 1559.7,642.1 1560.1,630.0 1560.6,646.1 1561.0,627.7 1561.5,641.6 1561.9,632.9 1562.4,636.8 1562.8,623.1 1563.3,651.5 1563.7,633.5 1564.2,645.3 1564.6,622.7 1565.1,643.6 1565.5,623.9 1566.0,653.4 1566.4,630.7 1566.9,646.0 1567.3,624.5 1567.8,641.8 1568.2,622.8 1568.7,651.2 1569.1,626.3 1569.6,647.3 1570.0,632.7 1570.5,649.1 1570.9,620.5 1571.4,649.8 1571.8,623.5 1572.3,640.5 1572.7,635.1 1573.2,640.5 1573.6,627.9 1574.1,637.1 1574.5,630.5 1575.0,648.5 1575.4,632.4 1575.7,646.4 1576.0,616.0 1576.3,646.4 1576.3,627.1 1576.8,651.7 1577.2,625.3 1577.7,640.2 1578.1,628.3 1578.6,648.9 1579.0,624.8 1579.5,643.5 1579.9,626.5 1580.4,638.9 1580.8,626.8 1581.3,650.2 1581.7,631.3 1582.2,649.4 1582.6,630.7 1583.1,641.8 1583.5,620.2 1584.0,652.3 1584.4,625.0 1584.7,640.5 1585.0,616.0 1585.3,640.5 1585.3,634.0 1585.8,649.9 1586.2,635.3 1586.7,651.4 1587.1,635.3 1587.5,640.0 1588.0,659.5 1592.0,661.0 1600.7,663.0 1600.7,662.8 1601.7,662.0 1602.7,662.1 1603.7,663.1 1604.7,663.5 1605.7,662.7 1606.7,662.6 1607.7,663.1 1608.7,662.5 1609.7,663.3 1610.7,663.6 1611.7,662.8 1612.7,663.3 1613.7,662.5 1614.7,663.5 1615.7,663.4 1616.7,663.3 1617.7,663.8 1618.7,663.8 1619.7,663.6 1620.7,662.8 1621.7,662.8 1622.7,663.1 1623.7,663.3 1624.7,663.3 1625.7,663.5 1626.7,663.1 1627.7,663.4 1628.7,662.8 1629.7,662.6 1630.7,663.6 1631.7,663.6 1632.7,663.2 1633.7,662.2 1634.7,663.1 1635.7,663.3 1636.7,662.9 1637.7,662.8 1638.7,662.5 1639.7,662.8 1640.7,662.9 1641.7,663.0 1642.7,662.8 1643.7,663.2 1644.7,662.9 1645.7,663.6 1646.7,663.3 1647.7,663.7 1648.7,663.3 1649.7,662.7 1650.7,662.9 1651.7,663.0 1652.7,662.9 1653.7,663.6 1654.7,662.8 1655.7,663.5 1656.7,663.3 1657.7,662.9 1658.7,662.8 1659.7,663.5 1660.7,663.3 1661.7,662.7 1662.7,663.0 1663.7,663.2 1664.7,663.3 1665.7,663.2 1666.7,663.2 1667.7,662.7 1668.7,663.7 1669.7,663.2 1670.7,663.8 1671.7,663.2 1672.7,663.6 1673.7,662.8 1674.7,663.7 1675.7,663.1 1676.7,662.8 1677.7,662.4 1678.7,662.6 1679.7,662.8 1680.7,663.5 1681.7,662.2 1682.7,663.8 1683.7,663.7 1684.7,663.5 1685.7,663.1 1686.7,662.6 1687.7,663.7 1688.7,662.7 1689.7,663.2 1690.7,663.2 1691.7,662.4 1692.7,663.4 1693.7,663.2 1694.7,663.4 1695.7,662.7 1696.7,663.3 1697.7,663.8 1698.7,663.1 1699.7,663.3 1700.7,662.5 1701.7,663.3 1702.7,663.0 1703.7,663.2 1704.7,662.8 1705.7,663.3 1706.7,663.4 1707.7,663.5 1708.7,663.2 1709.7,662.3 1710.7,663.0 1711.7,663.5 1712.7,662.9 1713.7,663.2 1714.7,662.9 1715.7,663.0 1716.7,662.5 1717.7,663.4 1718.7,662.7 1719.7,662.9 1720.7,663.0 1721.7,663.5 1722.7,663.0 1723.7,663.4 1724.7,663.4 1725.7,663.5 1726.7,663.9 1727.7,663.8 1728.7,663.1 1729.7,662.7 1730.7,664.3 1731.7,663.6 1732.7,663.4 1733.7,663.2 1734.7,663.1 1735.7,663.4 1736.7,664.0 1737.7,662.9 1738.7,663.4 1739.7,663.7 1740.7,663.8 1741.7,663.4 1742.7,663.3 1743.7,663.7 1744.7,663.2 1745.7,664.1 1746.7,663.4 1747.7,663.3 1748.7,662.9 1749.7,663.5 1750.7,662.7 1751.7,663.1 1752.7,663.5 1753.7,662.6 1754.7,663.1 1755.7,664.0 1756.7,663.9 1757.7,662.8 1758.7,662.6 1759.7,663.3 1760.7,663.6 1761.7,662.8 1762.7,663.2 1763.7,663.4 1764.7,662.8 1765.7,663.8 1766.7,663.4 1767.7,664.1 1768.7,663.1 1769.7,663.0 1770.7,663.0 1771.7,663.7 1772.7,663.1 1773.7,663.1 1774.7,662.7 1775.7,663.2 1776.7,663.0 1777.7,662.2 1778.7,663.4 1779.7,663.1 1780.7,663.2 1781.7,662.7 1782.7,661.9 1783.7,663.1 1784.7,663.3 1785.7,663.2 1786.7,663.3 1787.7,663.3 1788.7,663.4 1789.7,663.5 1790.7,663.1 1791.7,663.8 1792.7,663.4 1793.7,664.0 1794.7,662.5 1795.7,663.2 1796.7,663.5 1797.7,663.6 1798.7,663.8 1799.7,662.7 1800.7,663.2 1801.7,664.2 1802.7,663.4 1803.7,663.6 1804.7,663.3 1805.7,663.0 1806.7,663.6 1807.7,663.2 1808.7,663.1 1809.7,663.0 1810.7,663.5 1811.7,663.0 1812.7,663.1 1813.7,663.0 1814.7,663.3 1815.7,663.4 1816.7,662.9 1817.7,663.1 1818.7,663.5 1819.7,662.4 1820.7,663.8 1821.7,664.2 1822.7,662.7 1823.7,662.9 1824.7,663.4 1825.7,663.2 1826.7,662.8 1827.7,662.9 1828.7,663.0 1829.7,663.1 1830.7,662.9 1831.7,663.0 1832.7,663.5 1833.7,662.7 1834.7,663.6 1835.7,662.9 1836.7,663.0 1837.7,663.4 1838.7,663.7 1839.7,662.3 1840.7,663.6 1841.7,663.9 1842.7,663.1 1843.7,663.8 1844.7,662.9 1845.7,662.6 1846.7,663.0 1847.7,663.1 1848.7,663.3 1849.7,662.5 1850.7,662.8 1851.7,663.0 1852.7,662.9 1853.7,662.5 1854.7,663.0 1855.7,662.6 1856.7,662.7 1857.7,662.6 1858.7,662.8 1859.7,662.4 1860.7,662.5 1861.7,663.1 1862.7,662.2 1863.7,662.1 1864.7,663.1 1865.7,662.2 1866.7,663.1 1867.7,663.2 1868.7,662.6 1869.7,662.2 1870.7,662.5 1871.7,663.0 1872.7,662.4 1873.7,663.1 1874.7,662.2 1875.7,662.7 1876.7,662.7 1877.7,662.6 1878.7,663.0 1879.7,662.7 1880.7,663.1 1881.7,662.8 1882.7,663.8 1883.7,662.7 1884.7,662.5 1885.7,662.9 1886.7,662.4 1887.7,662.8 1888.7,662.6 1889.7,662.4 1890.7,662.8 1891.7,662.4 1892.7,662.7 1893.7,663.0 1894.7,663.5 1895.7,662.7 1896.7,662.3 1897.7,663.2 1898.7,662.5 1899.7,663.1 1900.7,662.7 1901.7,662.5 1902.7,663.6 1903.7,663.1 1904.7,662.5 1905.7,663.0 1906.7,662.5 1907.7,662.7 1908.7,662.7 1909.7,662.4 1910.7,662.8 1911.7,661.7 1912.7,662.2 1913.7,662.1 1914.7,662.5 1915.7,662.3 1916.7,662.2 1917.7,662.5 1918.7,662.9 1919.7,662.7 1920.7,663.0 1921.7,661.9 1922.7,662.7 1923.7,662.7 1924.7,662.4 1925.7,662.3 1926.7,662.5 1927.7,661.8 1928.7,661.9 1929.7,662.8 1930.7,662.3 1931.7,662.9 1932.7,662.2 1933.7,662.3 1934.7,662.8 1935.7,661.9 1936.7,662.4 1937.7,662.7 1938.7,662.4 1939.7,662.5 1940.7,662.5 1941.7,662.1 1942.7,662.1 1943.7,662.5 1944.7,661.8 1945.7,661.9 1946.7,662.0 1947.7,662.0 1948.7,662.9 1949.7,662.3" fill="none" stroke="#000" stroke-width="1.2" stroke-linejoin="round"/>
</svg>
</body></html>
